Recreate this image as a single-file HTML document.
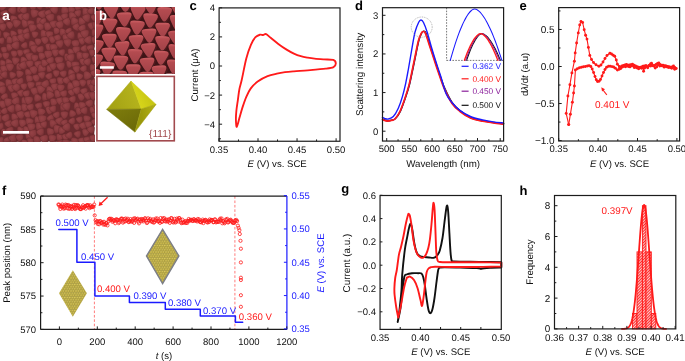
<!DOCTYPE html>
<html><head><meta charset="utf-8"><style>
html,body{margin:0;padding:0;background:#fff;width:685px;height:361px;overflow:hidden}
svg{display:block;will-change:transform}
text{font-family:"Liberation Sans", sans-serif;text-rendering:geometricPrecision}
</style></head><body>
<svg width="685" height="361" viewBox="0 0 685 361">
<rect width="685" height="361" fill="#fff"/>
<defs>
<pattern id="pa" x="0" y="7" width="7" height="12" patternUnits="userSpaceOnUse">
 <rect width="7" height="12" fill="#6e2a2e"/>
 <circle cx="3.5" cy="3" r="3.3" fill="url(#ga)"/>
 <circle cx="0" cy="9" r="3.3" fill="url(#ga)"/>
 <circle cx="7" cy="9" r="3.3" fill="url(#ga)"/>
</pattern>
<radialGradient id="ga" cx="0.42" cy="0.36" r="0.66">
 <stop offset="0" stop-color="#954246"/><stop offset="0.6" stop-color="#883a3e"/><stop offset="1" stop-color="#722d31"/>
</radialGradient>
<linearGradient id="gb" x1="0" y1="0" x2="0" y2="1">
 <stop offset="0" stop-color="#ce6064"/><stop offset="0.2" stop-color="#b44b50"/><stop offset="1" stop-color="#a24248"/>
</linearGradient>
<pattern id="pd" width="2.5" height="4.33" patternUnits="userSpaceOnUse">
 <rect width="2.5" height="4.33" fill="#b4aa58"/>
 <circle cx="1.25" cy="1.08" r="1.18" fill="url(#gs)"/>
 <circle cx="0" cy="3.25" r="1.18" fill="url(#gs)"/>
 <circle cx="2.5" cy="3.25" r="1.18" fill="url(#gs)"/>
</pattern>
<radialGradient id="gs" cx="0.4" cy="0.4" r="0.6">
 <stop offset="0" stop-color="#e2d264"/><stop offset="0.6" stop-color="#c2b046"/><stop offset="1" stop-color="#94862e"/>
</radialGradient>
<pattern id="ph" width="2" height="2" patternUnits="userSpaceOnUse" patternTransform="rotate(45)">
 <rect width="2" height="2" fill="#fff"/>
 <rect width="1.25" height="2" fill="#ff2a2a"/>
</pattern>
<linearGradient id="o1" gradientUnits="userSpaceOnUse" x1="136" y1="95" x2="110" y2="105">
 <stop offset="0" stop-color="#b4b21c"/><stop offset="1" stop-color="#a4a214"/></linearGradient>
<linearGradient id="o2" gradientUnits="userSpaceOnUse" x1="140" y1="105" x2="156" y2="98">
 <stop offset="0" stop-color="#d6d41a"/><stop offset="1" stop-color="#c2c010"/></linearGradient>
<linearGradient id="o3" gradientUnits="userSpaceOnUse" x1="120" y1="108" x2="132" y2="130">
 <stop offset="0" stop-color="#7c7a0c"/><stop offset="1" stop-color="#6c6a08"/></linearGradient>
<linearGradient id="o4" gradientUnits="userSpaceOnUse" x1="140" y1="110" x2="152" y2="108">
 <stop offset="0" stop-color="#9a980a"/><stop offset="1" stop-color="#aeac12"/></linearGradient>
</defs>
<svg x="0" y="7" width="94.3" height="134.6" viewBox="0 0 94.3 134.6" overflow="hidden">
<rect width="94.3" height="134.6" fill="#6a2a2e"/>
<path d="M-7.15,123.71 Q-11.25,121.51 -7.33,119 L-6.08,118.2 Q-2.16,115.7 -1.88,120.34 L-1.77,122.11 Q-1.49,126.75 -5.59,124.55 Z" fill="url(#ga)" stroke="#66282b" stroke-width="0.4"/>
<path d="M-6.23,128.21 Q-10.19,124.92 -5.39,123.06 L-3.85,122.47 Q0.96,120.61 0.24,125.71 L-0.04,127.66 Q-0.75,132.76 -4.72,129.47 Z" fill="url(#ga)" stroke="#66282b" stroke-width="0.4"/>
<path d="M-2.32,135.72 Q-6.1,132.52 -1.47,130.77 L0.02,130.22 Q4.65,128.47 3.92,133.37 L3.64,135.24 Q2.91,140.14 -0.88,136.94 Z" fill="url(#ga)" stroke="#66282b" stroke-width="0.4"/>
<path d="M0.35,140.95 Q-3.59,137.4 1.43,135.69 L3.03,135.14 Q8.05,133.43 7.1,138.65 L6.74,140.64 Q5.79,145.85 1.85,142.31 Z" fill="url(#ga)" stroke="#66282b" stroke-width="0.4"/>
<path d="M-6.77,97.58 Q-7.91,92.43 -2.85,93.94 L-1.23,94.43 Q3.83,95.95 0.04,99.63 L-1.4,101.03 Q-5.19,104.71 -6.33,99.55 Z" fill="url(#ga)" stroke="#66282b" stroke-width="0.4"/>
<path d="M-5.04,107.7 Q-8.38,103.89 -3.43,102.83 L-1.84,102.49 Q3.12,101.44 1.63,106.28 L1.06,108.13 Q-0.43,112.97 -3.77,109.16 Z" fill="url(#ga)" stroke="#66282b" stroke-width="0.4"/>
<path d="M-4.15,114.16 Q-8.65,111.42 -4.07,108.84 L-2.6,108.01 Q1.98,105.42 2.01,110.68 L2.02,112.69 Q2.05,117.95 -2.44,115.21 Z" fill="url(#ga)" stroke="#66282b" stroke-width="0.4"/>
<path d="M-1.71,121.88 Q-5.74,119.52 -1.72,117.15 L-0.43,116.39 Q3.6,114.02 3.71,118.69 L3.75,120.48 Q3.86,125.15 -0.17,122.78 Z" fill="url(#ga)" stroke="#66282b" stroke-width="0.4"/>
<path d="M1.07,124.52 Q1.44,119.78 5.41,122.42 L6.68,123.26 Q10.64,125.89 6.41,128.07 L4.79,128.9 Q0.56,131.08 0.93,126.33 Z" fill="url(#ga)" stroke="#66282b" stroke-width="0.4"/>
<path d="M5.11,135.72 Q1.12,133.25 5.22,130.97 L6.53,130.24 Q10.63,127.95 10.63,132.64 L10.63,134.43 Q10.62,139.13 6.63,136.66 Z" fill="url(#ga)" stroke="#66282b" stroke-width="0.4"/>
<path d="M4.75,139.36 Q1.94,135.01 7.11,134.67 L8.77,134.57 Q13.94,134.23 11.71,138.91 L10.86,140.69 Q8.64,145.37 5.83,141.02 Z" fill="url(#ga)" stroke="#66282b" stroke-width="0.4"/>
<path d="M-7.31,78.6 Q-10.49,74.7 -5.54,73.83 L-3.96,73.55 Q0.99,72.68 -0.66,77.43 L-1.29,79.24 Q-2.93,83.98 -6.1,80.09 Z" fill="url(#ga)" stroke="#66282b" stroke-width="0.4"/>
<path d="M-6.85,86.8 Q-10.29,82.51 -4.86,81.6 L-3.13,81.31 Q2.29,80.4 0.45,85.58 L-0.26,87.55 Q-2.1,92.73 -5.54,88.44 Z" fill="url(#ga)" stroke="#66282b" stroke-width="0.4"/>
<path d="M-4.31,94.42 Q-8.45,92.37 -4.65,89.75 L-3.43,88.91 Q0.38,86.28 0.82,90.88 L0.98,92.64 Q1.42,97.24 -2.73,95.2 Z" fill="url(#ga)" stroke="#66282b" stroke-width="0.4"/>
<path d="M-0.44,98.5 Q-3.54,94.2 1.73,93.59 L3.42,93.4 Q8.68,92.79 6.65,97.69 L5.87,99.55 Q3.84,104.45 0.74,100.14 Z" fill="url(#ga)" stroke="#66282b" stroke-width="0.4"/>
<path d="M2.57,106.77 Q-1.52,104.7 2.28,102.14 L3.5,101.32 Q7.29,98.77 7.68,103.33 L7.82,105.07 Q8.21,109.63 4.13,107.56 Z" fill="url(#ga)" stroke="#66282b" stroke-width="0.4"/>
<path d="M3.34,113.78 Q-1.24,110.91 3.49,108.31 L5.01,107.48 Q9.74,104.88 9.71,110.28 L9.69,112.34 Q9.66,117.75 5.08,114.88 Z" fill="url(#ga)" stroke="#66282b" stroke-width="0.4"/>
<path d="M6.19,119.26 Q2.19,116.34 6.69,114.27 L8.13,113.6 Q12.62,111.52 12.25,116.46 L12.1,118.35 Q11.73,123.29 7.72,120.37 Z" fill="url(#ga)" stroke="#66282b" stroke-width="0.4"/>
<path d="M7.3,126.54 Q2.78,123.55 7.59,121.06 L9.13,120.26 Q13.94,117.77 13.77,123.18 L13.71,125.25 Q13.54,130.67 9.02,127.68 Z" fill="url(#ga)" stroke="#66282b" stroke-width="0.4"/>
<path d="M10.21,133.59 Q6.01,130.11 11.1,128.13 L12.73,127.5 Q17.83,125.53 17.07,130.94 L16.78,133 Q16.03,138.41 11.82,134.93 Z" fill="url(#ga)" stroke="#66282b" stroke-width="0.4"/>
<path d="M11.58,139.3 Q8.81,134.57 14.28,134.46 L16.04,134.42 Q21.51,134.3 18.94,139.14 L17.96,140.98 Q15.4,145.82 12.63,141.1 Z" fill="url(#ga)" stroke="#66282b" stroke-width="0.4"/>
<path d="M-8.25,56.6 Q-10.97,51.85 -5.49,51.79 L-3.73,51.77 Q1.74,51.72 -0.88,56.53 L-1.88,58.37 Q-4.5,63.18 -7.21,58.42 Z" fill="url(#ga)" stroke="#66282b" stroke-width="0.4"/>
<path d="M-4.36,64.47 Q-5.07,59.94 -0.77,61.52 L0.6,62.03 Q4.9,63.61 1.43,66.6 L0.1,67.73 Q-3.37,70.72 -4.09,66.19 Z" fill="url(#ga)" stroke="#66282b" stroke-width="0.4"/>
<path d="M-2.23,68.55 Q-3.16,63.85 1.4,65.33 L2.85,65.8 Q7.41,67.27 3.9,70.53 L2.56,71.77 Q-0.94,75.03 -1.87,70.34 Z" fill="url(#ga)" stroke="#66282b" stroke-width="0.4"/>
<path d="M-1.96,77.47 Q-2.54,72.81 1.82,74.58 L3.21,75.14 Q7.57,76.91 3.9,79.85 L2.5,80.98 Q-1.16,83.92 -1.74,79.25 Z" fill="url(#ga)" stroke="#66282b" stroke-width="0.4"/>
<path d="M-0.7,85.23 Q-4.82,81.72 0.26,79.83 L1.88,79.23 Q6.95,77.34 6.13,82.69 L5.82,84.73 Q4.99,90.08 0.87,86.57 Z" fill="url(#ga)" stroke="#66282b" stroke-width="0.4"/>
<path d="M2.67,92.46 Q-1.51,90.2 2.5,87.65 L3.78,86.84 Q7.79,84.29 8.06,89.04 L8.17,90.85 Q8.44,95.59 4.26,93.33 Z" fill="url(#ga)" stroke="#66282b" stroke-width="0.4"/>
<path d="M4.58,95.3 Q3.03,90.1 8.33,91.28 L10.02,91.66 Q15.32,92.84 11.71,96.9 L10.33,98.44 Q6.72,102.5 5.17,97.29 Z" fill="url(#ga)" stroke="#66282b" stroke-width="0.4"/>
<path d="M8.93,104.43 Q4.56,101.49 9.26,99.11 L10.76,98.34 Q15.45,95.96 15.25,101.22 L15.17,103.23 Q14.97,108.49 10.6,105.55 Z" fill="url(#ga)" stroke="#66282b" stroke-width="0.4"/>
<path d="M11.25,109.47 Q10.99,104.68 15.3,106.79 L16.68,107.47 Q20.98,109.58 17.04,112.31 L15.54,113.35 Q11.6,116.09 11.34,111.3 Z" fill="url(#ga)" stroke="#66282b" stroke-width="0.4"/>
<path d="M12.65,118.93 Q8.15,115.99 12.91,113.49 L14.43,112.69 Q19.19,110.2 19.05,115.57 L19,117.62 Q18.86,122.99 14.36,120.05 Z" fill="url(#ga)" stroke="#66282b" stroke-width="0.4"/>
<path d="M17.23,122.88 Q16.53,118.1 21.04,119.82 L22.49,120.37 Q27.01,122.09 23.31,125.19 L21.89,126.38 Q18.19,129.49 17.49,124.7 Z" fill="url(#ga)" stroke="#66282b" stroke-width="0.4"/>
<path d="M16.71,132.22 Q13.55,128.3 18.51,127.45 L20.1,127.17 Q25.06,126.32 23.39,131.07 L22.75,132.88 Q21.08,137.63 17.92,133.72 Z" fill="url(#ga)" stroke="#66282b" stroke-width="0.4"/>
<path d="M21.36,135.79 Q20.4,131.3 24.79,132.64 L26.2,133.07 Q30.59,134.42 27.27,137.6 L26.01,138.81 Q22.69,142 21.73,137.5 Z" fill="url(#ga)" stroke="#66282b" stroke-width="0.4"/>
<path d="M-7.46,35.15 Q-9.16,30.86 -4.58,31.47 L-3.11,31.66 Q1.47,32.27 -1.29,35.97 L-2.35,37.39 Q-5.11,41.09 -6.81,36.79 Z" fill="url(#ga)" stroke="#66282b" stroke-width="0.4"/>
<path d="M-7.01,44.99 Q-11.17,41.73 -6.29,39.68 L-4.73,39.02 Q0.15,36.97 -0.44,42.23 L-0.66,44.24 Q-1.25,49.5 -5.42,46.24 Z" fill="url(#ga)" stroke="#66282b" stroke-width="0.4"/>
<path d="M-3.9,47.97 Q-4.04,43.52 -0.08,45.56 L1.18,46.21 Q5.14,48.25 1.43,50.71 L0.02,51.65 Q-3.69,54.12 -3.84,49.67 Z" fill="url(#ga)" stroke="#66282b" stroke-width="0.4"/>
<path d="M-0.16,55.96 Q-0.54,51.57 3.48,53.37 L4.76,53.95 Q8.79,55.75 5.26,58.39 L3.91,59.39 Q0.38,62.03 -0.01,57.64 Z" fill="url(#ga)" stroke="#66282b" stroke-width="0.4"/>
<path d="M0.98,63.03 Q-1.82,58.63 3.39,58.33 L5.05,58.23 Q10.26,57.93 7.99,62.62 L7.12,64.42 Q4.85,69.11 2.05,64.71 Z" fill="url(#ga)" stroke="#66282b" stroke-width="0.4"/>
<path d="M2.31,70.23 Q-1.77,68.01 2.16,65.52 L3.42,64.72 Q7.36,62.24 7.61,66.89 L7.71,68.66 Q7.96,73.31 3.88,71.08 Z" fill="url(#ga)" stroke="#66282b" stroke-width="0.4"/>
<path d="M5.29,75.54 Q4.84,70.4 9.55,72.51 L11.06,73.19 Q15.77,75.3 11.63,78.39 L10.05,79.56 Q5.91,82.65 5.46,77.5 Z" fill="url(#ga)" stroke="#66282b" stroke-width="0.4"/>
<path d="M8.21,82.33 Q5.44,78.16 10.43,77.77 L12.03,77.64 Q17.02,77.25 14.93,81.8 L14.13,83.54 Q12.04,88.09 9.27,83.92 Z" fill="url(#ga)" stroke="#66282b" stroke-width="0.4"/>
<path d="M11.29,88.95 Q9.75,84.52 14.37,85.33 L15.85,85.59 Q20.47,86.4 17.51,90.04 L16.38,91.43 Q13.42,95.08 11.88,90.65 Z" fill="url(#ga)" stroke="#66282b" stroke-width="0.4"/>
<path d="M13.7,97.23 Q8.91,94.8 13.37,91.8 L14.79,90.84 Q19.25,87.84 19.69,93.19 L19.86,95.23 Q20.31,100.58 15.53,98.15 Z" fill="url(#ga)" stroke="#66282b" stroke-width="0.4"/>
<path d="M14.92,100.05 Q15.11,94.83 19.57,97.53 L21,98.39 Q25.47,101.09 20.94,103.68 L19.21,104.67 Q14.68,107.25 14.86,102.04 Z" fill="url(#ga)" stroke="#66282b" stroke-width="0.4"/>
<path d="M17.62,109.36 Q14.09,105.31 19.34,104.2 L21.02,103.84 Q26.27,102.72 24.69,107.85 L24.08,109.81 Q22.5,114.94 18.97,110.9 Z" fill="url(#ga)" stroke="#66282b" stroke-width="0.4"/>
<path d="M19.08,116.2 Q17.71,111.29 22.66,112.48 L24.25,112.86 Q29.2,114.05 25.75,117.8 L24.43,119.23 Q20.98,122.97 19.61,118.07 Z" fill="url(#ga)" stroke="#66282b" stroke-width="0.4"/>
<path d="M23.2,122.55 Q22.74,117.66 27.24,119.64 L28.68,120.28 Q33.18,122.26 29.25,125.22 L27.76,126.35 Q23.83,129.32 23.37,124.42 Z" fill="url(#ga)" stroke="#66282b" stroke-width="0.4"/>
<path d="M25.45,129.2 Q24.32,124.45 29.02,125.77 L30.52,126.2 Q35.22,127.52 31.77,130.98 L30.46,132.3 Q27.02,135.76 25.88,131.01 Z" fill="url(#ga)" stroke="#66282b" stroke-width="0.4"/>
<path d="M27.44,134.59 Q25.82,130.26 30.4,130.95 L31.86,131.17 Q36.44,131.86 33.61,135.53 L32.53,136.92 Q29.69,140.59 28.06,136.25 Z" fill="url(#ga)" stroke="#66282b" stroke-width="0.4"/>
<path d="M-8.09,16.34 Q-10.65,12.72 -6.24,12.24 L-4.83,12.09 Q-0.42,11.62 -2.16,15.7 L-2.82,17.26 Q-4.56,21.34 -7.11,17.72 Z" fill="url(#ga)" stroke="#66282b" stroke-width="0.4"/>
<path d="M-6.81,22.25 Q-8.03,17.63 -3.4,18.81 L-1.92,19.19 Q2.71,20.37 -0.58,23.84 L-1.83,25.17 Q-5.12,28.64 -6.34,24.01 Z" fill="url(#ga)" stroke="#66282b" stroke-width="0.4"/>
<path d="M-4.77,29.69 Q-9.3,26.84 -4.6,24.28 L-3.1,23.46 Q1.59,20.89 1.55,26.24 L1.53,28.28 Q1.48,33.63 -3.05,30.78 Z" fill="url(#ga)" stroke="#66282b" stroke-width="0.4"/>
<path d="M-0.97,35.58 Q-4.34,32.75 -0.23,31.18 L1.09,30.68 Q5.2,29.12 4.57,33.47 L4.32,35.13 Q3.69,39.49 0.32,36.66 Z" fill="url(#ga)" stroke="#66282b" stroke-width="0.4"/>
<path d="M1.31,43.53 Q-0.87,39.71 3.53,39.66 L4.94,39.64 Q9.34,39.6 7.24,43.47 L6.44,44.94 Q4.34,48.81 2.15,44.99 Z" fill="url(#ga)" stroke="#66282b" stroke-width="0.4"/>
<path d="M2.77,49.54 Q0.5,45.54 5.11,45.51 L6.58,45.5 Q11.18,45.47 8.97,49.5 L8.12,51.04 Q5.91,55.08 3.64,51.07 Z" fill="url(#ga)" stroke="#66282b" stroke-width="0.4"/>
<path d="M5.54,54.7 Q5.7,50.01 9.71,52.43 L11,53.21 Q15.01,55.63 10.95,57.95 L9.39,58.84 Q5.33,61.17 5.48,56.49 Z" fill="url(#ga)" stroke="#66282b" stroke-width="0.4"/>
<path d="M6.57,60.89 Q4.04,56.38 9.21,56.37 L10.87,56.37 Q16.04,56.36 13.53,60.88 L12.57,62.6 Q10.06,67.12 7.54,62.61 Z" fill="url(#ga)" stroke="#66282b" stroke-width="0.4"/>
<path d="M9.35,67.87 Q8.65,63.43 12.86,64.98 L14.21,65.47 Q18.43,67.02 15.02,69.95 L13.72,71.07 Q10.32,73.99 9.62,69.56 Z" fill="url(#ga)" stroke="#66282b" stroke-width="0.4"/>
<path d="M12.57,76.43 Q9.35,72.48 14.36,71.59 L15.96,71.31 Q20.98,70.41 19.32,75.22 L18.68,77.06 Q17.02,81.87 13.8,77.93 Z" fill="url(#ga)" stroke="#66282b" stroke-width="0.4"/>
<path d="M14,83.05 Q9.43,80.21 14.14,77.61 L15.65,76.77 Q20.35,74.17 20.34,79.55 L20.33,81.6 Q20.31,86.98 15.75,84.14 Z" fill="url(#ga)" stroke="#66282b" stroke-width="0.4"/>
<path d="M18.26,87.72 Q14.95,84.49 19.38,83.17 L20.8,82.75 Q25.24,81.43 24.23,85.95 L23.85,87.67 Q22.84,92.19 19.53,88.96 Z" fill="url(#ga)" stroke="#66282b" stroke-width="0.4"/>
<path d="M21.38,93.42 Q21.18,88.61 25.48,90.79 L26.86,91.48 Q31.15,93.66 27.16,96.35 L25.63,97.38 Q21.64,100.07 21.45,95.26 Z" fill="url(#ga)" stroke="#66282b" stroke-width="0.4"/>
<path d="M21.36,100.27 Q20.38,95.38 25.13,96.9 L26.65,97.39 Q31.39,98.92 27.75,102.32 L26.36,103.62 Q22.71,107.02 21.74,102.13 Z" fill="url(#ga)" stroke="#66282b" stroke-width="0.4"/>
<path d="M24.94,109.14 Q21.79,105.54 26.47,104.54 L27.96,104.21 Q32.64,103.21 31.24,107.78 L30.7,109.53 Q29.3,114.1 26.15,110.51 Z" fill="url(#ga)" stroke="#66282b" stroke-width="0.4"/>
<path d="M25.81,114.61 Q24.73,109.59 29.63,111.09 L31.2,111.57 Q36.11,113.06 32.42,116.62 L31.01,117.97 Q27.31,121.53 26.23,116.52 Z" fill="url(#ga)" stroke="#66282b" stroke-width="0.4"/>
<path d="M27.88,120.6 Q25.77,115.79 31,116.3 L32.67,116.46 Q37.9,116.97 34.91,121.29 L33.77,122.93 Q30.78,127.25 28.68,122.44 Z" fill="url(#ga)" stroke="#66282b" stroke-width="0.4"/>
<path d="M29.86,128.77 Q25.9,125.14 31,123.45 L32.64,122.91 Q37.74,121.22 36.73,126.5 L36.34,128.51 Q35.34,133.79 31.38,130.16 Z" fill="url(#ga)" stroke="#66282b" stroke-width="0.4"/>
<path d="M33.35,132.4 Q32.89,127.25 37.61,129.35 L39.12,130.03 Q43.85,132.14 39.71,135.24 L38.12,136.42 Q33.98,139.52 33.52,134.36 Z" fill="url(#ga)" stroke="#66282b" stroke-width="0.4"/>
<path d="M35.23,140.67 Q32.14,137.16 36.71,136.17 L38.17,135.86 Q42.74,134.88 41.37,139.35 L40.85,141.05 Q39.49,145.52 36.4,142.01 Z" fill="url(#ga)" stroke="#66282b" stroke-width="0.4"/>
<path d="M-8.95,-5.16 Q-10.32,-10.23 -5.23,-8.96 L-3.6,-8.56 Q1.5,-7.28 -2.09,-3.45 L-3.46,-1.99 Q-7.06,1.84 -8.43,-3.23 Z" fill="url(#ga)" stroke="#66282b" stroke-width="0.4"/>
<path d="M-6.42,1.88 Q-9.15,-2.43 -4.06,-2.72 L-2.43,-2.81 Q2.67,-3.1 0.44,1.5 L-0.41,3.25 Q-2.64,7.84 -5.38,3.53 Z" fill="url(#ga)" stroke="#66282b" stroke-width="0.4"/>
<path d="M-5.25,8.53 Q-7.82,4.83 -3.34,4.39 L-1.9,4.25 Q2.58,3.81 0.78,7.94 L0.1,9.52 Q-1.7,13.65 -4.27,9.95 Z" fill="url(#ga)" stroke="#66282b" stroke-width="0.4"/>
<path d="M-1.88,16.06 Q-5.58,12.56 -0.72,11.03 L0.83,10.54 Q5.69,9.01 4.66,14 L4.27,15.9 Q3.24,20.89 -0.46,17.39 Z" fill="url(#ga)" stroke="#66282b" stroke-width="0.4"/>
<path d="M-0.52,21.2 Q-3.47,17.06 1.58,16.5 L3.19,16.32 Q8.25,15.76 6.28,20.45 L5.53,22.23 Q3.56,26.92 0.6,22.78 Z" fill="url(#ga)" stroke="#66282b" stroke-width="0.4"/>
<path d="M3.23,28.36 Q1.78,23.99 6.3,24.85 L7.75,25.13 Q12.27,25.99 9.31,29.52 L8.18,30.86 Q5.23,34.39 3.78,30.02 Z" fill="url(#ga)" stroke="#66282b" stroke-width="0.4"/>
<path d="M6.51,32.16 Q6.86,27.23 10.99,29.94 L12.31,30.8 Q16.44,33.51 12.07,35.8 L10.4,36.67 Q6.02,38.96 6.37,34.04 Z" fill="url(#ga)" stroke="#66282b" stroke-width="0.4"/>
<path d="M6.37,39.97 Q5.62,35.46 9.93,37 L11.31,37.5 Q15.62,39.04 12.17,42.05 L10.86,43.2 Q7.41,46.21 6.66,41.7 Z" fill="url(#ga)" stroke="#66282b" stroke-width="0.4"/>
<path d="M11.17,47.23 Q9.34,43.11 13.83,43.52 L15.27,43.65 Q19.76,44.06 17.21,47.79 L16.24,49.21 Q13.69,52.93 11.87,48.81 Z" fill="url(#ga)" stroke="#66282b" stroke-width="0.4"/>
<path d="M12.17,54.07 Q10.52,49.39 15.41,50.23 L16.98,50.5 Q21.87,51.34 18.75,55.2 L17.57,56.68 Q14.45,60.54 12.8,55.86 Z" fill="url(#ga)" stroke="#66282b" stroke-width="0.4"/>
<path d="M16.22,59.08 Q16.41,54.23 20.55,56.75 L21.88,57.56 Q26.02,60.09 21.8,62.47 L20.18,63.39 Q15.96,65.77 16.15,60.93 Z" fill="url(#ga)" stroke="#66282b" stroke-width="0.4"/>
<path d="M16.3,66.76 Q15.4,62.02 19.98,63.54 L21.45,64.03 Q26.03,65.55 22.47,68.81 L21.11,70.06 Q17.55,73.32 16.64,68.57 Z" fill="url(#ga)" stroke="#66282b" stroke-width="0.4"/>
<path d="M18.09,77.03 Q13.94,74.65 18.04,72.18 L19.36,71.39 Q23.46,68.92 23.62,73.71 L23.68,75.53 Q23.84,80.32 19.68,77.94 Z" fill="url(#ga)" stroke="#66282b" stroke-width="0.4"/>
<path d="M21.09,80.46 Q18.57,76.84 22.96,76.4 L24.37,76.26 Q28.76,75.82 27.01,79.87 L26.34,81.42 Q24.58,85.47 22.06,81.84 Z" fill="url(#ga)" stroke="#66282b" stroke-width="0.4"/>
<path d="M23.65,88.54 Q20.23,85.19 24.82,83.84 L26.29,83.4 Q30.88,82.05 29.83,86.72 L29.42,88.5 Q28.37,93.17 24.95,89.82 Z" fill="url(#ga)" stroke="#66282b" stroke-width="0.4"/>
<path d="M25.15,94.1 Q22.66,89.27 28.09,89.45 L29.83,89.5 Q35.26,89.68 32.46,94.34 L31.39,96.12 Q28.59,100.77 26.1,95.94 Z" fill="url(#ga)" stroke="#66282b" stroke-width="0.4"/>
<path d="M27.83,102.27 Q24.16,99.12 28.7,97.45 L30.15,96.92 Q34.69,95.26 33.93,100.03 L33.64,101.85 Q32.89,106.62 29.23,103.47 Z" fill="url(#ga)" stroke="#66282b" stroke-width="0.4"/>
<path d="M29.92,106.98 Q28.13,102 33.35,102.86 L35.02,103.14 Q40.24,104 36.94,108.14 L35.69,109.72 Q32.39,113.86 30.6,108.88 Z" fill="url(#ga)" stroke="#66282b" stroke-width="0.4"/>
<path d="M34.48,112.05 Q34.75,107.41 38.68,109.91 L39.93,110.71 Q43.85,113.2 39.76,115.41 L38.2,116.26 Q34.11,118.46 34.38,113.82 Z" fill="url(#ga)" stroke="#66282b" stroke-width="0.4"/>
<path d="M35.79,119.05 Q35.14,113.79 40.05,115.79 L41.62,116.43 Q46.53,118.43 42.4,121.74 L40.82,123.01 Q36.68,126.32 36.04,121.06 Z" fill="url(#ga)" stroke="#66282b" stroke-width="0.4"/>
<path d="M38.12,127.52 Q34,124.68 38.49,122.47 L39.92,121.76 Q44.41,119.55 44.16,124.55 L44.06,126.45 Q43.8,131.45 39.69,128.61 Z" fill="url(#ga)" stroke="#66282b" stroke-width="0.4"/>
<path d="M41.31,133.72 Q37.5,129.97 42.63,128.48 L44.27,128 Q49.39,126.5 48.2,131.7 L47.75,133.69 Q46.56,138.89 42.76,135.15 Z" fill="url(#ga)" stroke="#66282b" stroke-width="0.4"/>
<path d="M42.69,140.34 Q38.9,137.28 43.41,135.46 L44.85,134.87 Q49.37,133.05 48.76,137.88 L48.53,139.73 Q47.92,144.56 44.13,141.5 Z" fill="url(#ga)" stroke="#66282b" stroke-width="0.4"/>
<path d="M-1.89,-6.85 Q-2.39,-12.09 2.44,-9.97 L3.98,-9.29 Q8.8,-7.18 4.6,-4 L3,-2.78 Q-1.2,0.4 -1.7,-4.85 Z" fill="url(#ga)" stroke="#66282b" stroke-width="0.4"/>
<path d="M-0.97,-0.39 Q-2.03,-5.26 2.74,-3.81 L4.26,-3.35 Q9.03,-1.9 5.44,1.56 L4.07,2.88 Q0.48,6.34 -0.57,1.47 Z" fill="url(#ga)" stroke="#66282b" stroke-width="0.4"/>
<path d="M1.65,8.7 Q-1.94,5.2 2.87,3.78 L4.41,3.32 Q9.21,1.9 8.11,6.79 L7.69,8.66 Q6.59,13.54 3.01,10.04 Z" fill="url(#ga)" stroke="#66282b" stroke-width="0.4"/>
<path d="M3.63,13.92 Q-0.66,11.45 3.58,8.91 L4.94,8.1 Q9.18,5.56 9.33,10.5 L9.39,12.39 Q9.54,17.33 5.26,14.86 Z" fill="url(#ga)" stroke="#66282b" stroke-width="0.4"/>
<path d="M6.67,18.72 Q4.26,14.41 9.2,14.4 L10.78,14.39 Q15.72,14.38 13.32,18.7 L12.41,20.35 Q10.01,24.67 7.6,20.36 Z" fill="url(#ga)" stroke="#66282b" stroke-width="0.4"/>
<path d="M10.2,26.42 Q9.8,22.03 13.83,23.81 L15.12,24.38 Q19.15,26.16 15.63,28.82 L14.28,29.83 Q10.77,32.48 10.36,28.09 Z" fill="url(#ga)" stroke="#66282b" stroke-width="0.4"/>
<path d="M11.99,31.81 Q11.52,26.7 16.21,28.77 L17.71,29.44 Q22.41,31.51 18.31,34.6 L16.74,35.78 Q12.65,38.87 12.17,33.76 Z" fill="url(#ga)" stroke="#66282b" stroke-width="0.4"/>
<path d="M13.29,41.19 Q8.61,38.37 13.35,35.66 L14.87,34.8 Q19.61,32.09 19.66,37.55 L19.68,39.63 Q19.74,45.08 15.07,42.26 Z" fill="url(#ga)" stroke="#66282b" stroke-width="0.4"/>
<path d="M17.25,46.28 Q15.63,42.15 20.02,42.75 L21.43,42.94 Q25.82,43.53 23.17,47.07 L22.15,48.43 Q19.5,51.98 17.87,47.85 Z" fill="url(#ga)" stroke="#66282b" stroke-width="0.4"/>
<path d="M20.42,52.45 Q20.8,47.71 24.76,50.35 L26.03,51.2 Q29.99,53.84 25.75,56.01 L24.14,56.84 Q19.9,59.02 20.28,54.27 Z" fill="url(#ga)" stroke="#66282b" stroke-width="0.4"/>
<path d="M20.99,61.35 Q16.25,58.8 20.79,55.9 L22.24,54.97 Q26.77,52.07 27.1,57.44 L27.23,59.5 Q27.55,64.87 22.81,62.32 Z" fill="url(#ga)" stroke="#66282b" stroke-width="0.4"/>
<path d="M24.99,65.08 Q24.67,60.32 28.99,62.36 L30.37,63.02 Q34.68,65.06 30.8,67.83 L29.32,68.89 Q25.43,71.66 25.11,66.9 Z" fill="url(#ga)" stroke="#66282b" stroke-width="0.4"/>
<path d="M26,71.45 Q25.12,66.55 29.83,68.17 L31.33,68.69 Q36.04,70.3 32.34,73.63 L30.92,74.9 Q27.22,78.22 26.34,73.32 Z" fill="url(#ga)" stroke="#66282b" stroke-width="0.4"/>
<path d="M27.62,78.78 Q25.54,74.39 30.39,74.71 L31.94,74.81 Q36.8,75.13 34.15,79.21 L33.14,80.77 Q30.5,84.85 28.41,80.46 Z" fill="url(#ga)" stroke="#66282b" stroke-width="0.4"/>
<path d="M31.43,85.52 Q28.31,81.22 33.59,80.59 L35.28,80.39 Q40.55,79.77 38.53,84.68 L37.75,86.55 Q35.73,91.46 32.62,87.16 Z" fill="url(#ga)" stroke="#66282b" stroke-width="0.4"/>
<path d="M34.17,90 Q34.53,85.05 38.67,87.77 L40,88.64 Q44.15,91.36 39.75,93.65 L38.08,94.53 Q33.68,96.83 34.04,91.88 Z" fill="url(#ga)" stroke="#66282b" stroke-width="0.4"/>
<path d="M36.06,100.61 Q32.88,97.07 37.52,96.01 L39.01,95.68 Q43.65,94.62 42.31,99.19 L41.8,100.94 Q40.46,105.51 37.28,101.96 Z" fill="url(#ga)" stroke="#66282b" stroke-width="0.4"/>
<path d="M37.76,104.69 Q36.94,99.66 41.73,101.4 L43.27,101.95 Q48.06,103.69 44.21,107.03 L42.74,108.3 Q38.89,111.65 38.07,106.61 Z" fill="url(#ga)" stroke="#66282b" stroke-width="0.4"/>
<path d="M38.76,112.57 Q36.41,107.74 41.77,108.04 L43.49,108.14 Q48.85,108.43 45.98,112.97 L44.88,114.71 Q42.01,119.25 39.66,114.42 Z" fill="url(#ga)" stroke="#66282b" stroke-width="0.4"/>
<path d="M41.72,119.42 Q38.3,116.63 42.4,115 L43.71,114.48 Q47.8,112.85 47.23,117.22 L47.01,118.89 Q46.44,123.26 43.03,120.48 Z" fill="url(#ga)" stroke="#66282b" stroke-width="0.4"/>
<path d="M46.82,124.53 Q46.03,119.47 50.84,121.24 L52.38,121.81 Q57.18,123.58 53.29,126.92 L51.81,128.19 Q47.92,131.53 47.13,126.46 Z" fill="url(#ga)" stroke="#66282b" stroke-width="0.4"/>
<path d="M48.88,131.77 Q47.12,127.01 52.14,127.79 L53.75,128.04 Q58.76,128.83 55.64,132.83 L54.44,134.35 Q51.31,138.35 49.55,133.59 Z" fill="url(#ga)" stroke="#66282b" stroke-width="0.4"/>
<path d="M50.34,140.08 Q46.44,136.72 51.27,134.94 L52.82,134.38 Q57.65,132.61 56.85,137.69 L56.54,139.63 Q55.73,144.72 51.83,141.36 Z" fill="url(#ga)" stroke="#66282b" stroke-width="0.4"/>
<path d="M4.86,-1.11 Q0.61,-4.02 5.22,-6.31 L6.7,-7.05 Q11.31,-9.35 11.07,-4.2 L10.98,-2.24 Q10.74,2.91 6.48,0 Z" fill="url(#ga)" stroke="#66282b" stroke-width="0.4"/>
<path d="M9.97,5.74 Q5.57,2.68 10.39,0.33 L11.93,-0.42 Q16.75,-2.76 16.45,2.58 L16.34,4.62 Q16.04,9.97 11.64,6.91 Z" fill="url(#ga)" stroke="#66282b" stroke-width="0.4"/>
<path d="M10.36,11.83 Q9.33,7.28 13.8,8.59 L15.24,9.01 Q19.71,10.32 16.39,13.6 L15.12,14.84 Q11.79,18.11 10.75,13.56 Z" fill="url(#ga)" stroke="#66282b" stroke-width="0.4"/>
<path d="M12.87,16.29 Q11.59,11.2 16.66,12.56 L18.28,12.99 Q23.36,14.35 19.7,18.12 L18.31,19.56 Q14.65,23.33 13.37,18.24 Z" fill="url(#ga)" stroke="#66282b" stroke-width="0.4"/>
<path d="M17.6,25.48 Q16.05,21.26 20.49,21.96 L21.91,22.19 Q26.35,22.89 23.57,26.42 L22.51,27.77 Q19.74,31.3 18.19,27.09 Z" fill="url(#ga)" stroke="#66282b" stroke-width="0.4"/>
<path d="M18.67,32.7 Q14.75,28.95 19.93,27.35 L21.59,26.84 Q26.77,25.23 25.65,30.54 L25.22,32.56 Q24.1,37.87 20.17,34.13 Z" fill="url(#ga)" stroke="#66282b" stroke-width="0.4"/>
<path d="M22.72,40.9 Q18.78,38.91 22.44,36.44 L23.61,35.65 Q27.27,33.19 27.64,37.58 L27.79,39.26 Q28.16,43.66 24.22,41.66 Z" fill="url(#ga)" stroke="#66282b" stroke-width="0.4"/>
<path d="M23.94,46.71 Q20.92,43.4 25.29,42.37 L26.68,42.04 Q31.05,41.02 29.82,45.33 L29.35,46.98 Q28.12,51.3 25.1,47.98 Z" fill="url(#ga)" stroke="#66282b" stroke-width="0.4"/>
<path d="M26.08,50.57 Q23.39,45.94 28.74,45.85 L30.45,45.82 Q35.8,45.73 33.27,50.45 L32.31,52.25 Q29.78,56.96 27.1,52.33 Z" fill="url(#ga)" stroke="#66282b" stroke-width="0.4"/>
<path d="M26.64,58.02 Q23.87,53.82 28.88,53.44 L30.49,53.32 Q35.51,52.95 33.39,57.51 L32.59,59.26 Q30.47,63.82 27.7,59.62 Z" fill="url(#ga)" stroke="#66282b" stroke-width="0.4"/>
<path d="M30.68,64.26 Q27.38,60.14 32.59,59.26 L34.25,58.98 Q39.45,58.11 37.69,63.08 L37.01,64.97 Q35.24,69.95 31.94,65.83 Z" fill="url(#ga)" stroke="#66282b" stroke-width="0.4"/>
<path d="M33.28,72.24 Q30.35,68.37 35.16,67.69 L36.7,67.48 Q41.51,66.8 39.76,71.33 L39.09,73.06 Q37.34,77.59 34.4,73.72 Z" fill="url(#ga)" stroke="#66282b" stroke-width="0.4"/>
<path d="M36,78.97 Q33.82,74.18 39.07,74.61 L40.74,74.75 Q45.99,75.18 43.06,79.55 L41.94,81.22 Q39.01,85.59 36.83,80.8 Z" fill="url(#ga)" stroke="#66282b" stroke-width="0.4"/>
<path d="M37.03,82.29 Q35.62,77.01 40.93,78.35 L42.62,78.78 Q47.93,80.13 44.17,84.1 L42.74,85.62 Q38.98,89.6 37.57,84.31 Z" fill="url(#ga)" stroke="#66282b" stroke-width="0.4"/>
<path d="M42,88.91 Q42.38,83.86 46.61,86.65 L47.96,87.54 Q52.19,90.34 47.69,92.67 L45.98,93.56 Q41.48,95.89 41.86,90.84 Z" fill="url(#ga)" stroke="#66282b" stroke-width="0.4"/>
<path d="M43.55,98.39 Q40.89,94.47 45.61,94.06 L47.12,93.93 Q51.84,93.51 49.9,97.84 L49.16,99.49 Q47.22,103.81 44.56,99.89 Z" fill="url(#ga)" stroke="#66282b" stroke-width="0.4"/>
<path d="M46.03,103.55 Q44.1,98.77 49.21,99.41 L50.85,99.61 Q55.96,100.25 52.91,104.41 L51.75,105.99 Q48.7,110.15 46.77,105.37 Z" fill="url(#ga)" stroke="#66282b" stroke-width="0.4"/>
<path d="M48.74,113.89 Q44.5,111.83 48.37,109.13 L49.6,108.27 Q53.47,105.58 53.94,110.27 L54.12,112.05 Q54.59,116.74 50.35,114.68 Z" fill="url(#ga)" stroke="#66282b" stroke-width="0.4"/>
<path d="M49.46,116.11 Q48.84,111.1 53.52,113 L55.01,113.61 Q59.69,115.51 55.75,118.67 L54.25,119.87 Q50.31,123.03 49.7,118.02 Z" fill="url(#ga)" stroke="#66282b" stroke-width="0.4"/>
<path d="M53.57,121.47 Q52.89,116.2 57.83,118.18 L59.41,118.81 Q64.34,120.79 60.21,124.13 L58.64,125.41 Q54.51,128.76 53.83,123.49 Z" fill="url(#ga)" stroke="#66282b" stroke-width="0.4"/>
<path d="M56.35,129.79 Q55.98,125.1 60.25,127.06 L61.62,127.68 Q65.89,129.64 62.1,132.42 L60.66,133.48 Q56.87,136.26 56.49,131.58 Z" fill="url(#ga)" stroke="#66282b" stroke-width="0.4"/>
<path d="M57.38,138.55 Q53.91,134.4 59.23,133.39 L60.93,133.07 Q66.24,132.06 64.53,137.19 L63.88,139.15 Q62.17,144.28 58.7,140.13 Z" fill="url(#ga)" stroke="#66282b" stroke-width="0.4"/>
<path d="M14.06,-2.82 Q10.81,-6.69 15.78,-7.64 L17.37,-7.95 Q22.33,-8.9 20.75,-4.1 L20.14,-2.27 Q18.55,2.53 15.3,-1.34 Z" fill="url(#ga)" stroke="#66282b" stroke-width="0.4"/>
<path d="M17.11,1.27 Q17.51,-3.15 21.17,-0.65 L22.35,0.15 Q26.01,2.65 22.04,4.63 L20.53,5.39 Q16.56,7.37 16.96,2.95 Z" fill="url(#ga)" stroke="#66282b" stroke-width="0.4"/>
<path d="M19.12,11.73 Q15.52,8.23 20.33,6.78 L21.87,6.32 Q26.68,4.88 25.6,9.79 L25.18,11.66 Q24.1,16.56 20.49,13.06 Z" fill="url(#ga)" stroke="#66282b" stroke-width="0.4"/>
<path d="M21.56,15.94 Q20.57,10.59 25.73,12.34 L27.38,12.9 Q32.53,14.64 28.5,18.29 L26.96,19.69 Q22.92,23.34 21.94,17.99 Z" fill="url(#ga)" stroke="#66282b" stroke-width="0.4"/>
<path d="M24.18,27.22 Q20.07,24.98 24.02,22.48 L25.29,21.68 Q29.24,19.17 29.5,23.85 L29.6,25.63 Q29.86,30.3 25.75,28.07 Z" fill="url(#ga)" stroke="#66282b" stroke-width="0.4"/>
<path d="M24.83,31.38 Q20.92,29.17 24.75,26.83 L25.98,26.08 Q29.81,23.74 29.99,28.23 L30.06,29.94 Q30.24,34.43 26.33,32.22 Z" fill="url(#ga)" stroke="#66282b" stroke-width="0.4"/>
<path d="M28.88,36.7 Q29.06,31.8 33.25,34.35 L34.59,35.16 Q38.78,37.71 34.52,40.13 L32.89,41.05 Q28.62,43.47 28.81,38.57 Z" fill="url(#ga)" stroke="#66282b" stroke-width="0.4"/>
<path d="M31.25,42.88 Q28.25,38.81 33.27,38.17 L34.88,37.97 Q39.89,37.34 38,42.03 L37.28,43.82 Q35.39,48.51 32.39,44.44 Z" fill="url(#ga)" stroke="#66282b" stroke-width="0.4"/>
<path d="M31.68,51.55 Q29.73,47.3 34.4,47.66 L35.89,47.78 Q40.56,48.15 37.96,52.05 L36.97,53.54 Q34.38,57.43 32.42,53.18 Z" fill="url(#ga)" stroke="#66282b" stroke-width="0.4"/>
<path d="M35.18,58.77 Q32.12,54.65 37.21,53.98 L38.84,53.77 Q43.93,53.1 42.04,57.87 L41.31,59.69 Q39.42,64.47 36.35,60.34 Z" fill="url(#ga)" stroke="#66282b" stroke-width="0.4"/>
<path d="M38.03,60.55 Q38.53,55.11 43.04,58.2 L44.48,59.19 Q48.98,62.27 44.09,64.71 L42.23,65.63 Q37.33,68.07 37.84,62.63 Z" fill="url(#ga)" stroke="#66282b" stroke-width="0.4"/>
<path d="M39.03,69.41 Q36.05,65.8 40.65,64.96 L42.13,64.69 Q46.73,63.85 45.22,68.28 L44.65,69.97 Q43.14,74.41 40.16,70.79 Z" fill="url(#ga)" stroke="#66282b" stroke-width="0.4"/>
<path d="M43.2,79.94 Q38.55,77.35 43.08,74.55 L44.52,73.66 Q49.05,70.86 49.29,76.18 L49.38,78.21 Q49.62,83.52 44.97,80.93 Z" fill="url(#ga)" stroke="#66282b" stroke-width="0.4"/>
<path d="M46.38,82.2 Q46.81,77.11 51.05,79.96 L52.41,80.88 Q56.65,83.73 52.09,86.04 L50.35,86.93 Q45.79,89.24 46.22,84.14 Z" fill="url(#ga)" stroke="#66282b" stroke-width="0.4"/>
<path d="M46.39,87.19 Q46.54,81.96 51.03,84.63 L52.47,85.49 Q56.96,88.16 52.44,90.79 L50.71,91.79 Q46.19,94.41 46.33,89.18 Z" fill="url(#ga)" stroke="#66282b" stroke-width="0.4"/>
<path d="M50.26,94.94 Q49.29,89.99 54.09,91.55 L55.63,92.05 Q60.43,93.62 56.72,97.05 L55.31,98.36 Q51.6,101.79 50.63,96.83 Z" fill="url(#ga)" stroke="#66282b" stroke-width="0.4"/>
<path d="M50.75,104.17 Q46.89,101.51 51.09,99.44 L52.43,98.77 Q56.63,96.7 56.4,101.38 L56.31,103.16 Q56.07,107.84 52.22,105.18 Z" fill="url(#ga)" stroke="#66282b" stroke-width="0.4"/>
<path d="M54.27,110.23 Q50.49,107.49 54.72,105.53 L56.07,104.9 Q60.3,102.93 59.96,107.58 L59.83,109.35 Q59.49,114 55.71,111.27 Z" fill="url(#ga)" stroke="#66282b" stroke-width="0.4"/>
<path d="M56.87,116.2 Q52.86,112.9 57.7,111.01 L59.24,110.41 Q64.08,108.52 63.37,113.66 L63.1,115.62 Q62.4,120.76 58.39,117.46 Z" fill="url(#ga)" stroke="#66282b" stroke-width="0.4"/>
<path d="M58.6,122.84 Q58.7,118.19 62.71,120.54 L63.99,121.29 Q68,123.64 63.99,126 L62.47,126.89 Q58.47,129.25 58.57,124.61 Z" fill="url(#ga)" stroke="#66282b" stroke-width="0.4"/>
<path d="M62.69,131.01 Q60.22,127.18 64.77,126.89 L66.22,126.79 Q70.77,126.5 68.81,130.61 L68.06,132.18 Q66.11,136.29 63.64,132.47 Z" fill="url(#ga)" stroke="#66282b" stroke-width="0.4"/>
<path d="M62.49,136.85 Q60.65,131.85 65.91,132.68 L67.6,132.95 Q72.86,133.78 69.57,137.97 L68.31,139.57 Q65.03,143.76 63.19,138.76 Z" fill="url(#ga)" stroke="#66282b" stroke-width="0.4"/>
<path d="M20.06,-4.53 Q20.42,-9.24 24.35,-6.63 L25.61,-5.8 Q29.55,-3.19 25.36,-1.02 L23.76,-0.19 Q19.56,1.98 19.92,-2.73 Z" fill="url(#ga)" stroke="#66282b" stroke-width="0.4"/>
<path d="M21.3,5.37 Q17.42,2.58 21.74,0.55 L23.13,-0.1 Q27.45,-2.13 27.12,2.63 L26.99,4.45 Q26.66,9.21 22.78,6.43 Z" fill="url(#ga)" stroke="#66282b" stroke-width="0.4"/>
<path d="M23.49,11.88 Q19.61,8.76 24.23,6.89 L25.71,6.3 Q30.32,4.43 29.7,9.37 L29.47,11.26 Q28.85,16.2 24.97,13.07 Z" fill="url(#ga)" stroke="#66282b" stroke-width="0.4"/>
<path d="M27.56,17.19 Q25.66,12.96 30.29,13.36 L31.77,13.49 Q36.39,13.9 33.78,17.74 L32.79,19.2 Q30.19,23.04 28.29,18.81 Z" fill="url(#ga)" stroke="#66282b" stroke-width="0.4"/>
<path d="M28.92,20.89 Q27.62,15.81 32.7,17.15 L34.32,17.58 Q39.39,18.92 35.75,22.7 L34.36,24.14 Q30.72,27.92 29.42,22.83 Z" fill="url(#ga)" stroke="#66282b" stroke-width="0.4"/>
<path d="M31.79,27.8 Q30.14,23.61 34.6,24.21 L36.02,24.4 Q40.48,24.99 37.79,28.6 L36.76,29.97 Q34.07,33.57 32.42,29.39 Z" fill="url(#ga)" stroke="#66282b" stroke-width="0.4"/>
<path d="M35.01,34.93 Q33.33,30.62 37.91,31.25 L39.38,31.46 Q43.96,32.09 41.18,35.78 L40.11,37.19 Q37.33,40.89 35.65,36.58 Z" fill="url(#ga)" stroke="#66282b" stroke-width="0.4"/>
<path d="M37.55,44.76 Q33.69,41.52 38.4,39.72 L39.91,39.15 Q44.62,37.35 43.89,42.34 L43.62,44.25 Q42.89,49.23 39.03,45.99 Z" fill="url(#ga)" stroke="#66282b" stroke-width="0.4"/>
<path d="M38.57,49.05 Q37.43,44.33 42.1,45.63 L43.59,46.05 Q48.27,47.34 44.86,50.79 L43.56,52.11 Q40.15,55.56 39.01,50.84 Z" fill="url(#ga)" stroke="#66282b" stroke-width="0.4"/>
<path d="M41.26,55.5 Q40.82,50.75 45.18,52.69 L46.58,53.31 Q50.93,55.24 47.12,58.11 L45.67,59.2 Q41.85,62.06 41.42,57.32 Z" fill="url(#ga)" stroke="#66282b" stroke-width="0.4"/>
<path d="M46.44,61.11 Q46.41,56.69 50.28,58.81 L51.52,59.49 Q55.39,61.61 51.65,63.96 L50.23,64.86 Q46.49,67.21 46.45,62.79 Z" fill="url(#ga)" stroke="#66282b" stroke-width="0.4"/>
<path d="M46.71,71.37 Q43.06,68.43 47.41,66.67 L48.8,66.11 Q53.15,64.35 52.57,69.01 L52.34,70.79 Q51.76,75.44 48.1,72.5 Z" fill="url(#ga)" stroke="#66282b" stroke-width="0.4"/>
<path d="M50.23,75.73 Q47.4,72.13 51.92,71.41 L53.37,71.18 Q57.9,70.46 56.32,74.76 L55.72,76.41 Q54.14,80.71 51.31,77.1 Z" fill="url(#ga)" stroke="#66282b" stroke-width="0.4"/>
<path d="M51.69,80.91 Q48.99,76.74 53.95,76.41 L55.54,76.3 Q60.5,75.97 58.37,80.47 L57.56,82.18 Q55.43,86.67 52.72,82.5 Z" fill="url(#ga)" stroke="#66282b" stroke-width="0.4"/>
<path d="M54.34,86.35 Q53.71,81.2 58.51,83.15 L60.05,83.78 Q64.85,85.74 60.8,88.98 L59.26,90.22 Q55.21,93.46 54.58,88.31 Z" fill="url(#ga)" stroke="#66282b" stroke-width="0.4"/>
<path d="M57.12,95.31 Q53.97,91.2 59.1,90.45 L60.74,90.21 Q65.87,89.46 64.02,94.3 L63.32,96.15 Q61.47,101 58.32,96.88 Z" fill="url(#ga)" stroke="#66282b" stroke-width="0.4"/>
<path d="M60.16,98.82 Q60.4,93.47 64.96,96.29 L66.42,97.2 Q70.98,100.02 66.29,102.62 L64.5,103.62 Q59.82,106.22 60.06,100.87 Z" fill="url(#ga)" stroke="#66282b" stroke-width="0.4"/>
<path d="M61.07,108.46 Q58.85,104 63.82,104.23 L65.42,104.3 Q70.4,104.53 67.77,108.76 L66.77,110.38 Q64.15,114.62 61.92,110.16 Z" fill="url(#ga)" stroke="#66282b" stroke-width="0.4"/>
<path d="M62.18,117.87 Q58.55,114.97 62.85,113.21 L64.22,112.65 Q68.52,110.89 67.96,115.5 L67.75,117.26 Q67.19,121.87 63.56,118.98 Z" fill="url(#ga)" stroke="#66282b" stroke-width="0.4"/>
<path d="M64.53,123.05 Q59.85,120.56 64.3,117.68 L65.73,116.76 Q70.18,113.89 70.52,119.17 L70.65,121.19 Q71,126.48 66.32,123.99 Z" fill="url(#ga)" stroke="#66282b" stroke-width="0.4"/>
<path d="M67.38,130.88 Q63.27,128.78 67.11,126.22 L68.34,125.4 Q72.17,122.83 72.54,127.43 L72.69,129.19 Q73.06,133.79 68.95,131.69 Z" fill="url(#ga)" stroke="#66282b" stroke-width="0.4"/>
<path d="M71.26,134.41 Q69.97,129.6 74.79,130.82 L76.34,131.21 Q81.16,132.43 77.75,136.05 L76.44,137.43 Q73.03,141.05 71.75,136.24 Z" fill="url(#ga)" stroke="#66282b" stroke-width="0.4"/>
<path d="M26.23,-4.51 Q23.04,-8.49 28.07,-9.33 L29.68,-9.6 Q34.7,-10.44 32.99,-5.64 L32.34,-3.81 Q30.62,0.99 27.44,-2.99 Z" fill="url(#ga)" stroke="#66282b" stroke-width="0.4"/>
<path d="M29.72,0.48 Q27.37,-3.8 32.24,-3.77 L33.8,-3.76 Q38.68,-3.73 36.28,0.51 L35.36,2.13 Q32.96,6.38 30.61,2.11 Z" fill="url(#ga)" stroke="#66282b" stroke-width="0.4"/>
<path d="M30.69,6.04 Q29.76,0.65 34.92,2.46 L36.57,3.04 Q41.73,4.86 37.64,8.48 L36.07,9.86 Q31.98,13.48 31.05,8.09 Z" fill="url(#ga)" stroke="#66282b" stroke-width="0.4"/>
<path d="M36.24,13.8 Q36.03,8.52 40.75,10.91 L42.26,11.68 Q46.97,14.07 42.58,17.02 L40.91,18.15 Q36.52,21.11 36.31,15.82 Z" fill="url(#ga)" stroke="#66282b" stroke-width="0.4"/>
<path d="M37.72,21.16 Q34.07,17.58 38.97,16.14 L40.54,15.68 Q45.44,14.24 44.31,19.22 L43.88,21.12 Q42.75,26.1 39.11,22.52 Z" fill="url(#ga)" stroke="#66282b" stroke-width="0.4"/>
<path d="M40.53,25.93 Q40.58,20.93 44.92,23.41 L46.3,24.2 Q50.64,26.68 46.37,29.26 L44.74,30.25 Q40.46,32.83 40.51,27.84 Z" fill="url(#ga)" stroke="#66282b" stroke-width="0.4"/>
<path d="M41.86,34.3 Q39.1,30.16 44.05,29.76 L45.64,29.63 Q50.59,29.23 48.53,33.76 L47.74,35.48 Q45.68,40.01 42.92,35.87 Z" fill="url(#ga)" stroke="#66282b" stroke-width="0.4"/>
<path d="M45.66,40.21 Q44.13,35.73 48.79,36.58 L50.28,36.85 Q54.94,37.7 51.93,41.36 L50.78,42.75 Q47.77,46.41 46.24,41.93 Z" fill="url(#ga)" stroke="#66282b" stroke-width="0.4"/>
<path d="M44.91,48.11 Q42.33,43.31 47.78,43.4 L49.53,43.43 Q54.98,43.52 52.24,48.24 L51.2,50.04 Q48.47,54.75 45.89,49.95 Z" fill="url(#ga)" stroke="#66282b" stroke-width="0.4"/>
<path d="M48.01,55.94 Q43.99,52.99 48.52,50.92 L49.97,50.25 Q54.5,48.17 54.11,53.15 L53.96,55.04 Q53.57,60.01 49.54,57.07 Z" fill="url(#ga)" stroke="#66282b" stroke-width="0.4"/>
<path d="M50.12,60.47 Q47.37,56.64 52.06,56.1 L53.56,55.93 Q58.26,55.39 56.44,59.75 L55.75,61.41 Q53.93,65.77 51.18,61.94 Z" fill="url(#ga)" stroke="#66282b" stroke-width="0.4"/>
<path d="M53.29,66.91 Q51.32,62.87 55.81,63.12 L57.25,63.2 Q61.74,63.46 59.33,67.25 L58.41,68.7 Q56,72.5 54.04,68.45 Z" fill="url(#ga)" stroke="#66282b" stroke-width="0.4"/>
<path d="M57.15,74.09 Q55.54,69.32 60.48,70.24 L62.07,70.54 Q67.01,71.45 63.8,75.32 L62.57,76.8 Q59.36,80.67 57.76,75.91 Z" fill="url(#ga)" stroke="#66282b" stroke-width="0.4"/>
<path d="M57.56,81.42 Q55.42,77 60.32,77.29 L61.89,77.38 Q66.79,77.67 64.15,81.81 L63.14,83.39 Q60.5,87.53 58.37,83.11 Z" fill="url(#ga)" stroke="#66282b" stroke-width="0.4"/>
<path d="M61.16,88.54 Q57.68,85.32 62.19,83.85 L63.63,83.38 Q68.14,81.91 67.23,86.57 L66.88,88.34 Q65.97,93 62.49,89.77 Z" fill="url(#ga)" stroke="#66282b" stroke-width="0.4"/>
<path d="M62.52,93.9 Q60.63,89.47 65.42,89.97 L66.96,90.13 Q71.75,90.63 68.98,94.58 L67.92,96.08 Q65.14,100.02 63.25,95.59 Z" fill="url(#ga)" stroke="#66282b" stroke-width="0.4"/>
<path d="M63.74,101.44 Q59.8,97.83 64.88,96.15 L66.5,95.61 Q71.58,93.93 70.57,99.18 L70.19,101.19 Q69.18,106.44 65.24,102.82 Z" fill="url(#ga)" stroke="#66282b" stroke-width="0.4"/>
<path d="M69.28,105.74 Q69.69,101.05 73.6,103.69 L74.84,104.54 Q78.75,107.18 74.54,109.3 L72.93,110.11 Q68.72,112.23 69.13,107.54 Z" fill="url(#ga)" stroke="#66282b" stroke-width="0.4"/>
<path d="M70.04,116.51 Q66.1,114.19 70.05,111.88 L71.32,111.14 Q75.26,108.83 75.36,113.4 L75.39,115.15 Q75.49,119.72 71.55,117.4 Z" fill="url(#ga)" stroke="#66282b" stroke-width="0.4"/>
<path d="M74.13,120.89 Q71.44,117.32 75.87,116.71 L77.29,116.52 Q81.71,115.91 80.09,120.07 L79.47,121.66 Q77.85,125.82 75.16,122.25 Z" fill="url(#ga)" stroke="#66282b" stroke-width="0.4"/>
<path d="M75.2,129 Q71.82,126 76.09,124.51 L77.45,124.03 Q81.72,122.54 80.94,126.99 L80.65,128.69 Q79.87,133.14 76.49,130.14 Z" fill="url(#ga)" stroke="#66282b" stroke-width="0.4"/>
<path d="M79.11,135.18 Q76.14,131.71 80.62,130.8 L82.05,130.51 Q86.53,129.61 85.14,133.96 L84.61,135.62 Q83.22,139.97 80.25,136.5 Z" fill="url(#ga)" stroke="#66282b" stroke-width="0.4"/>
<path d="M36.29,0.06 Q32.71,-3.99 38,-5.15 L39.69,-5.52 Q44.98,-6.68 43.41,-1.49 L42.81,0.48 Q41.25,5.66 37.66,1.61 Z" fill="url(#ga)" stroke="#66282b" stroke-width="0.4"/>
<path d="M39.48,9.46 Q35.31,5.94 40.41,4.02 L42.04,3.4 Q47.14,1.47 46.34,6.87 L46.04,8.93 Q45.24,14.32 41.07,10.8 Z" fill="url(#ga)" stroke="#66282b" stroke-width="0.4"/>
<path d="M41.47,16.77 Q37.61,14.61 41.37,12.3 L42.57,11.56 Q46.32,9.24 46.52,13.65 L46.59,15.33 Q46.79,19.74 42.94,17.59 Z" fill="url(#ga)" stroke="#66282b" stroke-width="0.4"/>
<path d="M44.05,19.15 Q43.11,13.82 48.22,15.59 L49.86,16.16 Q54.97,17.93 50.93,21.53 L49.39,22.91 Q45.35,26.51 44.41,21.18 Z" fill="url(#ga)" stroke="#66282b" stroke-width="0.4"/>
<path d="M46.19,28.4 Q43.86,24.01 48.83,24.11 L50.42,24.14 Q55.39,24.25 52.88,28.54 L51.92,30.17 Q49.41,34.46 47.08,30.07 Z" fill="url(#ga)" stroke="#66282b" stroke-width="0.4"/>
<path d="M49.24,32.9 Q47.41,28.47 52.17,29.03 L53.69,29.21 Q58.45,29.76 55.65,33.65 L54.58,35.13 Q51.78,39.02 49.94,34.59 Z" fill="url(#ga)" stroke="#66282b" stroke-width="0.4"/>
<path d="M50.32,41.38 Q47.95,36.81 53.1,36.97 L54.74,37.02 Q59.88,37.18 57.24,41.59 L56.23,43.28 Q53.59,47.69 51.22,43.12 Z" fill="url(#ga)" stroke="#66282b" stroke-width="0.4"/>
<path d="M52.21,46.17 Q50.17,41.78 55,42.14 L56.55,42.26 Q61.37,42.62 58.71,46.66 L57.69,48.2 Q55.02,52.24 52.99,47.85 Z" fill="url(#ga)" stroke="#66282b" stroke-width="0.4"/>
<path d="M55.53,54.49 Q52.8,49.76 58.26,49.68 L60,49.65 Q65.46,49.56 62.88,54.37 L61.9,56.21 Q59.31,61.02 56.58,56.29 Z" fill="url(#ga)" stroke="#66282b" stroke-width="0.4"/>
<path d="M57.42,60.98 Q53.87,56.78 59.27,55.73 L61,55.4 Q66.39,54.35 64.68,59.57 L64.02,61.56 Q62.31,66.78 58.77,62.58 Z" fill="url(#ga)" stroke="#66282b" stroke-width="0.4"/>
<path d="M60.71,68.28 Q57.65,64.87 62.12,63.86 L63.55,63.53 Q68.03,62.52 66.73,66.92 L66.24,68.6 Q64.94,73 61.88,69.59 Z" fill="url(#ga)" stroke="#66282b" stroke-width="0.4"/>
<path d="M64.29,75.77 Q60.15,73.03 64.56,70.75 L65.98,70.03 Q70.39,67.75 70.23,72.71 L70.16,74.61 Q70,79.57 65.87,76.82 Z" fill="url(#ga)" stroke="#66282b" stroke-width="0.4"/>
<path d="M67.33,78.43 Q67.81,73.15 72.19,76.14 L73.59,77.09 Q77.97,80.08 73.23,82.45 L71.42,83.36 Q66.67,85.72 67.15,80.44 Z" fill="url(#ga)" stroke="#66282b" stroke-width="0.4"/>
<path d="M69,87.01 Q65.83,83.71 70.25,82.55 L71.66,82.18 Q76.09,81.02 74.95,85.44 L74.51,87.13 Q73.37,91.56 70.2,88.26 Z" fill="url(#ga)" stroke="#66282b" stroke-width="0.4"/>
<path d="M70.27,94.28 Q66.68,91.4 70.94,89.66 L72.3,89.1 Q76.57,87.36 76.01,91.93 L75.8,93.68 Q75.25,98.25 71.65,95.37 Z" fill="url(#ga)" stroke="#66282b" stroke-width="0.4"/>
<path d="M73.99,98.22 Q74.44,93.46 78.38,96.17 L79.65,97.04 Q83.59,99.76 79.3,101.88 L77.66,102.69 Q73.37,104.81 73.82,100.04 Z" fill="url(#ga)" stroke="#66282b" stroke-width="0.4"/>
<path d="M75.82,103.74 Q75.06,98.95 79.62,100.62 L81.08,101.16 Q85.63,102.83 81.95,105.99 L80.55,107.2 Q76.87,110.37 76.11,105.57 Z" fill="url(#ga)" stroke="#66282b" stroke-width="0.4"/>
<path d="M76.97,114.16 Q73.97,110.93 78.25,109.89 L79.62,109.55 Q83.9,108.51 82.73,112.76 L82.28,114.38 Q81.1,118.62 78.11,115.39 Z" fill="url(#ga)" stroke="#66282b" stroke-width="0.4"/>
<path d="M80.5,120.91 Q76.54,117.64 81.33,115.78 L82.86,115.18 Q87.64,113.32 86.94,118.41 L86.67,120.35 Q85.96,125.44 82.01,122.16 Z" fill="url(#ga)" stroke="#66282b" stroke-width="0.4"/>
<path d="M82.43,125.63 Q80.91,121.19 85.53,122.02 L87,122.29 Q91.62,123.13 88.64,126.75 L87.5,128.14 Q84.52,131.76 83.01,127.32 Z" fill="url(#ga)" stroke="#66282b" stroke-width="0.4"/>
<path d="M84.44,134.42 Q81.52,130.32 86.53,129.78 L88.13,129.6 Q93.13,129.06 91.17,133.69 L90.42,135.46 Q88.46,140.09 85.55,135.99 Z" fill="url(#ga)" stroke="#66282b" stroke-width="0.4"/>
<path d="M85.54,139.83 Q81.16,136.95 85.8,134.53 L87.29,133.75 Q91.93,131.33 91.79,136.57 L91.73,138.57 Q91.58,143.8 87.21,140.92 Z" fill="url(#ga)" stroke="#66282b" stroke-width="0.4"/>
<path d="M41.07,-5.4 Q38.27,-9.13 42.9,-9.76 L44.38,-9.96 Q49,-10.59 47.29,-6.24 L46.64,-4.59 Q44.94,-0.24 42.14,-3.98 Z" fill="url(#ga)" stroke="#66282b" stroke-width="0.4"/>
<path d="M44.84,-2.76 Q44.61,-7.49 48.86,-5.39 L50.22,-4.72 Q54.47,-2.62 50.57,0.07 L49.08,1.09 Q45.17,3.78 44.94,-0.95 Z" fill="url(#ga)" stroke="#66282b" stroke-width="0.4"/>
<path d="M45.86,8.18 Q42.18,5.31 46.48,3.5 L47.86,2.91 Q52.16,1.1 51.65,5.74 L51.45,7.51 Q50.94,12.15 47.26,9.28 Z" fill="url(#ga)" stroke="#66282b" stroke-width="0.4"/>
<path d="M47.28,12.51 Q43.5,8.56 48.79,7.18 L50.48,6.74 Q55.77,5.35 54.41,10.65 L53.88,12.67 Q52.51,17.96 48.73,14.02 Z" fill="url(#ga)" stroke="#66282b" stroke-width="0.4"/>
<path d="M50.65,18.49 Q47.63,14.51 52.57,13.82 L54.15,13.6 Q59.09,12.9 57.29,17.55 L56.61,19.33 Q54.81,23.98 51.79,20.01 Z" fill="url(#ga)" stroke="#66282b" stroke-width="0.4"/>
<path d="M53.49,23.42 Q52.99,18.91 57.17,20.67 L58.51,21.23 Q62.69,22.99 59.12,25.78 L57.75,26.85 Q54.18,29.64 53.68,25.14 Z" fill="url(#ga)" stroke="#66282b" stroke-width="0.4"/>
<path d="M55.06,32.5 Q51.84,29.2 56.29,28 L57.71,27.61 Q62.16,26.41 61.05,30.88 L60.62,32.59 Q59.51,37.06 56.29,33.76 Z" fill="url(#ga)" stroke="#66282b" stroke-width="0.4"/>
<path d="M56.76,38.23 Q53.44,34.31 58.48,33.33 L60.09,33.01 Q65.12,32.02 63.53,36.9 L62.93,38.76 Q61.34,43.64 58.02,39.72 Z" fill="url(#ga)" stroke="#66282b" stroke-width="0.4"/>
<path d="M59.35,47.14 Q56.15,43.97 60.48,42.72 L61.86,42.32 Q66.18,41.07 65.17,45.46 L64.78,47.13 Q63.77,51.52 60.57,48.35 Z" fill="url(#ga)" stroke="#66282b" stroke-width="0.4"/>
<path d="M64.22,49.82 Q63.74,44.96 68.22,46.91 L69.65,47.54 Q74.13,49.49 70.25,52.45 L68.76,53.58 Q64.87,56.54 64.4,51.68 Z" fill="url(#ga)" stroke="#66282b" stroke-width="0.4"/>
<path d="M66.33,56.94 Q65.2,52.29 69.81,53.58 L71.29,53.99 Q75.9,55.27 72.53,58.67 L71.25,59.97 Q67.88,63.37 66.75,58.72 Z" fill="url(#ga)" stroke="#66282b" stroke-width="0.4"/>
<path d="M68.08,65.29 Q68.28,60.66 72.22,63.09 L73.48,63.86 Q77.43,66.28 73.39,68.55 L71.85,69.41 Q67.81,71.68 68.01,67.05 Z" fill="url(#ga)" stroke="#66282b" stroke-width="0.4"/>
<path d="M69.79,72.68 Q65.78,69.87 70.19,67.74 L71.6,67.06 Q76.01,64.92 75.73,69.81 L75.62,71.68 Q75.33,76.57 71.32,73.76 Z" fill="url(#ga)" stroke="#66282b" stroke-width="0.4"/>
<path d="M72.61,77.4 Q70.5,72.44 75.86,73.02 L77.58,73.2 Q82.93,73.78 79.82,78.18 L78.63,79.86 Q75.52,84.26 73.41,79.29 Z" fill="url(#ga)" stroke="#66282b" stroke-width="0.4"/>
<path d="M74.01,85.62 Q70.17,82.31 74.93,80.57 L76.45,80.01 Q81.21,78.27 80.42,83.27 L80.11,85.18 Q79.32,90.19 75.48,86.88 Z" fill="url(#ga)" stroke="#66282b" stroke-width="0.4"/>
<path d="M78.12,90.47 Q75.93,86.01 80.89,86.27 L82.48,86.35 Q87.44,86.61 84.8,90.82 L83.79,92.42 Q81.15,96.62 78.96,92.17 Z" fill="url(#ga)" stroke="#66282b" stroke-width="0.4"/>
<path d="M78.98,98.61 Q77.48,94.02 82.21,94.94 L83.73,95.24 Q88.46,96.16 85.35,99.85 L84.16,101.25 Q81.05,104.94 79.55,100.35 Z" fill="url(#ga)" stroke="#66282b" stroke-width="0.4"/>
<path d="M82.07,106.1 Q77.97,103.55 82.19,101.21 L83.55,100.46 Q87.77,98.13 87.76,102.95 L87.75,104.8 Q87.74,109.63 83.64,107.08 Z" fill="url(#ga)" stroke="#66282b" stroke-width="0.4"/>
<path d="M83.55,112.04 Q82.1,107.52 86.76,108.46 L88.25,108.76 Q92.91,109.7 89.82,113.31 L88.64,114.69 Q85.55,118.3 84.11,113.77 Z" fill="url(#ga)" stroke="#66282b" stroke-width="0.4"/>
<path d="M85.5,118.39 Q83.16,114.19 87.96,114.2 L89.5,114.2 Q94.29,114.2 91.96,118.39 L91.06,119.99 Q88.72,124.18 86.39,119.98 Z" fill="url(#ga)" stroke="#66282b" stroke-width="0.4"/>
<path d="M88.42,124.6 Q84.88,121.44 89.36,119.89 L90.79,119.39 Q95.27,117.83 94.45,122.5 L94.13,124.29 Q93.31,128.96 89.77,125.8 Z" fill="url(#ga)" stroke="#66282b" stroke-width="0.4"/>
<path d="M90.34,132.44 Q87.58,128.63 92.25,128.07 L93.75,127.9 Q98.43,127.34 96.63,131.7 L95.95,133.36 Q94.16,137.72 91.39,133.9 Z" fill="url(#ga)" stroke="#66282b" stroke-width="0.4"/>
<path d="M95.44,137.27 Q95.08,131.91 99.94,134.21 L101.49,134.94 Q106.35,137.24 101.98,140.36 L100.31,141.55 Q95.94,144.68 95.58,139.32 Z" fill="url(#ga)" stroke="#66282b" stroke-width="0.4"/>
<path d="M48.88,1.14 Q44.46,-1.33 48.77,-4 L50.15,-4.85 Q54.46,-7.51 54.69,-2.45 L54.77,-0.52 Q55,4.55 50.57,2.08 Z" fill="url(#ga)" stroke="#66282b" stroke-width="0.4"/>
<path d="M51.6,4.84 Q47.6,1.41 52.54,-0.42 L54.12,-1 Q59.07,-2.83 58.26,2.38 L57.95,4.37 Q57.13,9.57 53.13,6.15 Z" fill="url(#ga)" stroke="#66282b" stroke-width="0.4"/>
<path d="M56.88,11.51 Q55.68,7.18 60.05,8.24 L61.44,8.58 Q65.81,9.63 62.76,12.93 L61.59,14.19 Q58.54,17.49 57.34,13.16 Z" fill="url(#ga)" stroke="#66282b" stroke-width="0.4"/>
<path d="M56.8,19.63 Q53.08,15.84 58.2,14.44 L59.84,13.99 Q64.96,12.59 63.69,17.74 L63.21,19.71 Q61.94,24.87 58.22,21.08 Z" fill="url(#ga)" stroke="#66282b" stroke-width="0.4"/>
<path d="M59.54,24.39 Q59.63,19.53 63.84,21.97 L65.18,22.75 Q69.39,25.19 65.21,27.68 L63.61,28.63 Q59.43,31.12 59.51,26.25 Z" fill="url(#ga)" stroke="#66282b" stroke-width="0.4"/>
<path d="M62.78,31.28 Q60.95,26.3 66.2,27.13 L67.88,27.39 Q73.12,28.22 69.84,32.4 L68.59,33.99 Q65.31,38.17 63.48,33.19 Z" fill="url(#ga)" stroke="#66282b" stroke-width="0.4"/>
<path d="M64.32,36.71 Q61.42,32.43 66.56,31.98 L68.21,31.84 Q73.36,31.38 71.25,36.1 L70.44,37.9 Q68.33,42.62 65.43,38.34 Z" fill="url(#ga)" stroke="#66282b" stroke-width="0.4"/>
<path d="M67.77,44.81 Q66.92,40.35 71.23,41.77 L72.61,42.23 Q76.92,43.66 73.57,46.73 L72.3,47.9 Q68.95,50.97 68.1,46.51 Z" fill="url(#ga)" stroke="#66282b" stroke-width="0.4"/>
<path d="M67.77,52.59 Q63.98,48.91 69.04,47.39 L70.66,46.9 Q75.72,45.38 74.58,50.54 L74.15,52.51 Q73.01,57.67 69.22,53.99 Z" fill="url(#ga)" stroke="#66282b" stroke-width="0.4"/>
<path d="M71.96,58.78 Q69.71,54.19 74.81,54.47 L76.44,54.55 Q81.53,54.83 78.81,59.14 L77.77,60.79 Q75.05,65.11 72.81,60.52 Z" fill="url(#ga)" stroke="#66282b" stroke-width="0.4"/>
<path d="M73.56,63.23 Q70.78,59.32 75.55,58.8 L77.07,58.64 Q81.84,58.12 79.97,62.54 L79.26,64.22 Q77.39,68.63 74.61,64.72 Z" fill="url(#ga)" stroke="#66282b" stroke-width="0.4"/>
<path d="M76.33,69.53 Q75.18,65.13 79.58,66.27 L80.99,66.63 Q85.4,67.77 82.26,71.06 L81.06,72.32 Q77.92,75.61 76.77,71.21 Z" fill="url(#ga)" stroke="#66282b" stroke-width="0.4"/>
<path d="M79.79,76.58 Q77.59,72.46 82.26,72.55 L83.75,72.58 Q88.41,72.66 86.06,76.7 L85.17,78.23 Q82.82,82.27 80.62,78.15 Z" fill="url(#ga)" stroke="#66282b" stroke-width="0.4"/>
<path d="M81.32,86.12 Q78.04,82.63 82.68,81.46 L84.17,81.09 Q88.81,79.93 87.57,84.55 L87.09,86.32 Q85.84,90.94 82.57,87.45 Z" fill="url(#ga)" stroke="#66282b" stroke-width="0.4"/>
<path d="M84.88,90.19 Q81.6,86.39 86.51,85.38 L88.09,85.05 Q93,84.04 91.49,88.82 L90.92,90.65 Q89.41,95.44 86.13,91.64 Z" fill="url(#ga)" stroke="#66282b" stroke-width="0.4"/>
<path d="M86.96,98.73 Q82.82,95.53 87.63,93.47 L89.18,92.81 Q93.99,90.75 93.44,95.96 L93.23,97.94 Q92.69,103.15 88.54,99.95 Z" fill="url(#ga)" stroke="#66282b" stroke-width="0.4"/>
<path d="M89.63,103.07 Q88.74,98.24 93.39,99.81 L94.87,100.31 Q99.52,101.88 95.89,105.18 L94.5,106.43 Q90.87,109.73 89.97,104.91 Z" fill="url(#ga)" stroke="#66282b" stroke-width="0.4"/>
<path d="M92.13,109.81 Q89.17,106.14 93.82,105.34 L95.31,105.08 Q99.96,104.28 98.39,108.73 L97.79,110.43 Q96.23,114.88 93.26,111.21 Z" fill="url(#ga)" stroke="#66282b" stroke-width="0.4"/>
<path d="M92.68,116.9 Q89.06,113.89 93.45,112.19 L94.85,111.64 Q99.24,109.94 98.59,114.6 L98.34,116.38 Q97.69,121.05 94.06,118.04 Z" fill="url(#ga)" stroke="#66282b" stroke-width="0.4"/>
<path d="M96.67,124.16 Q93.68,120.76 98.1,119.8 L99.51,119.49 Q103.93,118.53 102.62,122.86 L102.12,124.51 Q100.81,128.84 97.81,125.45 Z" fill="url(#ga)" stroke="#66282b" stroke-width="0.4"/>
<path d="M56.51,-4.93 Q54.78,-9.65 59.74,-8.86 L61.33,-8.61 Q66.29,-7.83 63.19,-3.88 L62,-2.37 Q58.9,1.58 57.17,-3.13 Z" fill="url(#ga)" stroke="#66282b" stroke-width="0.4"/>
<path d="M61.22,2.37 Q61.4,-3.02 66.02,-0.23 L67.5,0.66 Q72.12,3.45 67.43,6.13 L65.64,7.15 Q60.96,9.82 61.14,4.43 Z" fill="url(#ga)" stroke="#66282b" stroke-width="0.4"/>
<path d="M62.11,11.01 Q58.98,7.67 63.42,6.56 L64.84,6.21 Q69.28,5.1 68.08,9.51 L67.63,11.2 Q66.44,15.61 63.31,12.28 Z" fill="url(#ga)" stroke="#66282b" stroke-width="0.4"/>
<path d="M64.42,16.94 Q60.32,13.81 65.04,11.75 L66.56,11.09 Q71.28,9.03 70.78,14.17 L70.59,16.13 Q70.09,21.26 65.98,18.13 Z" fill="url(#ga)" stroke="#66282b" stroke-width="0.4"/>
<path d="M66.97,26.59 Q63.02,24.43 66.83,22.03 L68.05,21.27 Q71.85,18.87 72.09,23.36 L72.18,25.08 Q72.42,29.57 68.48,27.41 Z" fill="url(#ga)" stroke="#66282b" stroke-width="0.4"/>
<path d="M68.95,31.16 Q64.29,28.88 68.55,25.91 L69.92,24.96 Q74.18,22 74.7,27.17 L74.89,29.14 Q75.4,34.31 70.73,32.03 Z" fill="url(#ga)" stroke="#66282b" stroke-width="0.4"/>
<path d="M72.31,37.91 Q69.34,33.57 74.59,33.09 L76.26,32.94 Q81.51,32.46 79.37,37.27 L78.56,39.11 Q76.42,43.92 73.45,39.57 Z" fill="url(#ga)" stroke="#66282b" stroke-width="0.4"/>
<path d="M73.24,43.98 Q70.42,39.9 75.36,39.42 L76.94,39.27 Q81.89,38.79 79.9,43.34 L79.14,45.08 Q77.15,49.63 74.32,45.54 Z" fill="url(#ga)" stroke="#66282b" stroke-width="0.4"/>
<path d="M76.36,48.29 Q75.8,43.19 80.53,45.18 L82.04,45.81 Q86.77,47.81 82.73,50.97 L81.19,52.17 Q77.15,55.34 76.58,50.23 Z" fill="url(#ga)" stroke="#66282b" stroke-width="0.4"/>
<path d="M80.09,55.63 Q77.5,51.67 82.22,51.34 L83.73,51.24 Q88.44,50.91 86.43,55.19 L85.66,56.82 Q83.65,61.1 81.07,57.14 Z" fill="url(#ga)" stroke="#66282b" stroke-width="0.4"/>
<path d="M81.6,64.18 Q77.68,61.75 81.71,59.51 L83.01,58.79 Q87.04,56.55 87.03,61.16 L87.03,62.93 Q87.02,67.54 83.1,65.11 Z" fill="url(#ga)" stroke="#66282b" stroke-width="0.4"/>
<path d="M83.58,67.72 Q83.53,62.25 88.33,64.87 L89.86,65.71 Q94.66,68.33 90.04,71.24 L88.27,72.36 Q83.65,75.27 83.6,69.81 Z" fill="url(#ga)" stroke="#66282b" stroke-width="0.4"/>
<path d="M86.9,76.99 Q84.96,71.88 90.36,72.68 L92.09,72.93 Q97.49,73.73 94.16,78.06 L92.89,79.71 Q89.57,84.04 87.63,78.93 Z" fill="url(#ga)" stroke="#66282b" stroke-width="0.4"/>
<path d="M89.32,80.97 Q87.43,76.18 92.53,76.87 L94.16,77.09 Q99.26,77.77 96.18,81.89 L95,83.46 Q91.92,87.58 90.04,82.8 Z" fill="url(#ga)" stroke="#66282b" stroke-width="0.4"/>
<path d="M89.8,89.59 Q87.04,84.9 92.49,84.77 L94.23,84.73 Q99.68,84.6 97.13,89.42 L96.17,91.26 Q93.62,96.08 90.86,91.38 Z" fill="url(#ga)" stroke="#66282b" stroke-width="0.4"/>
<path d="M94.44,94.03 Q94.25,89.26 98.51,91.42 L99.88,92.12 Q104.13,94.28 100.17,96.95 L98.66,97.96 Q94.69,100.63 94.51,95.85 Z" fill="url(#ga)" stroke="#66282b" stroke-width="0.4"/>
<path d="M93.97,101.83 Q91.18,97.51 96.32,97.18 L97.96,97.07 Q103.1,96.74 100.88,101.39 L100.04,103.16 Q97.83,107.81 95.04,103.48 Z" fill="url(#ga)" stroke="#66282b" stroke-width="0.4"/>
<path d="M65.04,-4.2 Q62.8,-9.07 68.14,-8.66 L69.85,-8.53 Q75.19,-8.12 72.23,-3.65 L71.1,-1.95 Q68.14,2.52 65.89,-2.35 Z" fill="url(#ga)" stroke="#66282b" stroke-width="0.4"/>
<path d="M68.33,2.67 Q67.38,-1.81 71.76,-0.46 L73.16,-0.03 Q77.54,1.33 74.23,4.49 L72.96,5.7 Q69.64,8.87 68.69,4.38 Z" fill="url(#ga)" stroke="#66282b" stroke-width="0.4"/>
<path d="M68.86,8.46 Q68.29,3.34 73.04,5.34 L74.56,5.97 Q79.3,7.97 75.25,11.14 L73.7,12.35 Q69.65,15.53 69.08,10.41 Z" fill="url(#ga)" stroke="#66282b" stroke-width="0.4"/>
<path d="M70.93,13.45 Q71.13,8.25 75.58,10.96 L77,11.83 Q81.45,14.54 76.91,17.1 L75.18,18.08 Q70.65,20.65 70.85,15.44 Z" fill="url(#ga)" stroke="#66282b" stroke-width="0.4"/>
<path d="M74.26,22.49 Q70.01,19.74 74.48,17.36 L75.91,16.6 Q80.38,14.22 80.28,19.28 L80.24,21.22 Q80.14,26.28 75.88,23.53 Z" fill="url(#ga)" stroke="#66282b" stroke-width="0.4"/>
<path d="M77.28,28.34 Q77.33,23.82 81.25,26.07 L82.51,26.78 Q86.44,29.03 82.56,31.37 L81.08,32.26 Q77.21,34.59 77.26,30.07 Z" fill="url(#ga)" stroke="#66282b" stroke-width="0.4"/>
<path d="M79.18,34.9 Q76.67,31.02 81.28,30.72 L82.75,30.63 Q87.35,30.33 85.37,34.5 L84.62,36.08 Q82.64,40.25 80.13,36.38 Z" fill="url(#ga)" stroke="#66282b" stroke-width="0.4"/>
<path d="M82.26,44.1 Q78.24,42.02 82.01,39.52 L83.22,38.72 Q86.99,36.22 87.34,40.73 L87.47,42.46 Q87.81,46.97 83.79,44.89 Z" fill="url(#ga)" stroke="#66282b" stroke-width="0.4"/>
<path d="M82.39,49.33 Q80.42,45.17 85.01,45.48 L86.48,45.57 Q91.08,45.88 88.57,49.74 L87.62,51.22 Q85.11,55.08 83.14,50.92 Z" fill="url(#ga)" stroke="#66282b" stroke-width="0.4"/>
<path d="M85.09,57.2 Q81.19,54.37 85.56,52.34 L86.96,51.69 Q91.33,49.66 90.97,54.47 L90.84,56.3 Q90.48,61.11 86.58,58.28 Z" fill="url(#ga)" stroke="#66282b" stroke-width="0.4"/>
<path d="M89.61,60.64 Q88.93,55.53 93.73,57.42 L95.27,58.03 Q100.06,59.93 96.07,63.19 L94.55,64.44 Q90.55,67.7 89.87,62.59 Z" fill="url(#ga)" stroke="#66282b" stroke-width="0.4"/>
<path d="M91.89,68.35 Q88.05,65.51 92.4,63.53 L93.79,62.9 Q98.14,60.93 97.74,65.69 L97.59,67.5 Q97.2,72.26 93.36,69.43 Z" fill="url(#ga)" stroke="#66282b" stroke-width="0.4"/>
<path d="M92.74,78.09 Q88.09,75.58 92.54,72.74 L93.97,71.83 Q98.42,69 98.73,74.27 L98.85,76.28 Q99.16,81.55 94.51,79.04 Z" fill="url(#ga)" stroke="#66282b" stroke-width="0.4"/>
<path d="M94.1,82.96 Q91.03,78.83 96.13,78.16 L97.76,77.94 Q102.87,77.27 100.97,82.05 L100.24,83.88 Q98.35,88.66 95.27,84.53 Z" fill="url(#ga)" stroke="#66282b" stroke-width="0.4"/>
<path d="M70.55,-3.94 Q66.48,-5.96 70.23,-8.54 L71.43,-9.36 Q75.17,-11.94 75.6,-7.41 L75.76,-5.68 Q76.18,-1.15 72.11,-3.17 Z" fill="url(#ga)" stroke="#66282b" stroke-width="0.4"/>
<path d="M74.6,0.77 Q72.59,-3.68 77.46,-3.27 L79.02,-3.14 Q83.89,-2.73 81.16,1.32 L80.12,2.87 Q77.39,6.93 75.37,2.47 Z" fill="url(#ga)" stroke="#66282b" stroke-width="0.4"/>
<path d="M75.41,7.61 Q72.35,4.34 76.7,3.26 L78.08,2.92 Q82.43,1.84 81.25,6.16 L80.8,7.81 Q79.62,12.12 76.57,8.85 Z" fill="url(#ga)" stroke="#66282b" stroke-width="0.4"/>
<path d="M78.45,13.45 Q78.58,8.44 82.89,10.99 L84.27,11.81 Q88.58,14.36 84.25,16.88 L82.6,17.84 Q78.27,20.36 78.4,15.36 Z" fill="url(#ga)" stroke="#66282b" stroke-width="0.4"/>
<path d="M80.05,24 Q75.75,21.37 80.14,18.89 L81.55,18.1 Q85.94,15.62 85.96,20.67 L85.97,22.59 Q86,27.63 81.69,25 Z" fill="url(#ga)" stroke="#66282b" stroke-width="0.4"/>
<path d="M81.54,28.38 Q78.08,24.13 83.48,23.18 L85.21,22.87 Q90.61,21.92 88.81,27.1 L88.13,29.08 Q86.33,34.26 82.86,30.01 Z" fill="url(#ga)" stroke="#66282b" stroke-width="0.4"/>
<path d="M85.96,35.83 Q81.35,33.1 85.98,30.41 L87.46,29.54 Q92.08,26.84 92.19,32.2 L92.23,34.24 Q92.33,39.6 87.72,36.87 Z" fill="url(#ga)" stroke="#66282b" stroke-width="0.4"/>
<path d="M87.8,42.97 Q84.41,39.71 88.91,38.34 L90.35,37.9 Q94.84,36.53 93.85,41.12 L93.47,42.88 Q92.48,47.48 89.09,44.22 Z" fill="url(#ga)" stroke="#66282b" stroke-width="0.4"/>
<path d="M89.2,45.65 Q88,41.12 92.55,42.28 L94,42.65 Q98.55,43.81 95.32,47.22 L94.09,48.52 Q90.86,51.92 89.66,47.39 Z" fill="url(#ga)" stroke="#66282b" stroke-width="0.4"/>
<path d="M92.07,53.35 Q90.34,49.06 94.92,49.64 L96.39,49.82 Q100.97,50.4 98.24,54.12 L97.19,55.54 Q94.45,59.27 92.73,54.98 Z" fill="url(#ga)" stroke="#66282b" stroke-width="0.4"/>
<path d="M96.63,60.23 Q95.61,55.73 100.04,57.03 L101.45,57.45 Q105.88,58.75 102.59,61.98 L101.33,63.22 Q98.04,66.45 97.02,61.95 Z" fill="url(#ga)" stroke="#66282b" stroke-width="0.4"/>
<path d="M80.01,-0.45 Q76.62,-4.7 81.98,-5.59 L83.7,-5.87 Q89.06,-6.76 87.23,-1.65 L86.52,0.31 Q84.69,5.42 81.3,1.17 Z" fill="url(#ga)" stroke="#66282b" stroke-width="0.4"/>
<path d="M82.32,3.95 Q82.36,-1.26 86.89,1.3 L88.34,2.13 Q92.88,4.69 88.43,7.4 L86.73,8.44 Q82.28,11.15 82.31,5.94 Z" fill="url(#ga)" stroke="#66282b" stroke-width="0.4"/>
<path d="M83.75,12.85 Q79.9,9.28 84.9,7.65 L86.5,7.13 Q91.49,5.5 90.48,10.66 L90.09,12.63 Q89.08,17.79 85.22,14.21 Z" fill="url(#ga)" stroke="#66282b" stroke-width="0.4"/>
<path d="M88.72,20.41 Q85.43,16.51 90.44,15.54 L92.04,15.23 Q97.05,14.27 95.46,19.11 L94.85,20.96 Q93.25,25.8 89.97,21.9 Z" fill="url(#ga)" stroke="#66282b" stroke-width="0.4"/>
<path d="M91.66,24.87 Q91.58,20.11 95.77,22.36 L97.11,23.08 Q101.3,25.33 97.3,27.9 L95.77,28.87 Q91.76,31.44 91.69,26.68 Z" fill="url(#ga)" stroke="#66282b" stroke-width="0.4"/>
<path d="M91.59,33.23 Q90.14,29.01 94.54,29.8 L95.95,30.05 Q100.35,30.84 97.52,34.3 L96.44,35.62 Q93.6,39.08 92.15,34.85 Z" fill="url(#ga)" stroke="#66282b" stroke-width="0.4"/>
<path d="M94.77,40.51 Q92.9,36.46 97.36,36.81 L98.78,36.92 Q103.23,37.27 100.76,40.99 L99.82,42.4 Q97.34,46.12 95.48,42.06 Z" fill="url(#ga)" stroke="#66282b" stroke-width="0.4"/>
<path d="M84.79,-5.4 Q81.17,-8.53 85.67,-10.16 L87.11,-10.68 Q91.61,-12.31 90.84,-7.59 L90.55,-5.79 Q89.79,-1.07 86.17,-4.2 Z" fill="url(#ga)" stroke="#66282b" stroke-width="0.4"/>
<path d="M88.3,0.87 Q84.61,-2.8 89.62,-4.23 L91.22,-4.68 Q96.23,-6.11 95.03,-1.04 L94.58,0.89 Q93.38,5.96 89.7,2.28 Z" fill="url(#ga)" stroke="#66282b" stroke-width="0.4"/>
<path d="M88.98,6.46 Q85.06,4.29 88.86,1.92 L90.07,1.17 Q93.87,-1.2 94.09,3.27 L94.18,4.97 Q94.4,9.44 90.48,7.28 Z" fill="url(#ga)" stroke="#66282b" stroke-width="0.4"/>
<path d="M91.86,12.26 Q88.72,8.36 93.66,7.52 L95.25,7.25 Q100.19,6.41 98.51,11.14 L97.87,12.94 Q96.2,17.66 93.06,13.76 Z" fill="url(#ga)" stroke="#66282b" stroke-width="0.4"/>
<path d="M92.84,18.93 Q90.59,14.33 95.7,14.6 L97.34,14.69 Q102.45,14.97 99.72,19.3 L98.68,20.95 Q95.95,25.28 93.7,20.68 Z" fill="url(#ga)" stroke="#66282b" stroke-width="0.4"/>
<path d="M94.62,-2.94 Q91.42,-6.97 96.5,-7.8 L98.12,-8.07 Q103.2,-8.9 101.46,-4.06 L100.79,-2.21 Q99.04,2.63 95.84,-1.4 Z" fill="url(#ga)" stroke="#66282b" stroke-width="0.4"/>
<path d="M96.53,4.06 Q93.42,0.39 98.14,-0.54 L99.65,-0.84 Q104.36,-1.77 102.88,2.8 L102.31,4.54 Q100.83,9.12 97.72,5.45 Z" fill="url(#ga)" stroke="#66282b" stroke-width="0.4"/>
</svg>
<text x="2.3" y="20.4" font-size="13.5" text-anchor="start" fill="#fff" font-weight="bold">a</text>
<rect x="3" y="131" width="26" height="2.7" fill="#fff"/>
<svg x="96" y="7" width="79" height="66.7" viewBox="0 0 79 66.7" overflow="hidden">
<rect width="79" height="66.7" fill="#3e1416"/>
<path d="M-3.06,-4.98 Q-6.17,-10.57 0.23,-10.57 L7.03,-10.57 Q13.43,-10.57 10.31,-4.98 L6.74,1.43 Q3.63,7.03 0.51,1.43 Z" fill="#4e1a1d"/>
<path d="M-3.72,-5.47 Q-7.2,-10.85 -0.81,-11.26 L5.38,-11.66 Q11.76,-12.07 9.01,-6.29 L6.13,-0.27 Q3.37,5.51 -0.1,0.13 Z" fill="url(#gb)"/>
<path d="M-4.82,10.46 Q-7.93,4.87 -1.53,4.87 L5.27,4.87 Q11.67,4.87 8.56,10.46 L4.98,16.88 Q1.87,22.47 -1.24,16.88 Z" fill="#4e1a1d"/>
<path d="M-5.5,10.03 Q-9.03,4.69 -2.65,4.22 L3.53,3.76 Q9.92,3.29 7.22,9.09 L4.4,15.14 Q1.7,20.94 -1.83,15.6 Z" fill="url(#gb)"/>
<path d="M-5.61,24.06 Q-8.73,18.47 -2.33,18.47 L4.47,18.47 Q10.87,18.47 7.76,24.06 L4.19,30.48 Q1.07,36.07 -2.04,30.48 Z" fill="#4e1a1d"/>
<path d="M-6.24,23.47 Q-9.64,18.05 -3.24,17.73 L2.95,17.43 Q9.34,17.11 6.5,22.84 L3.54,28.82 Q0.69,34.56 -2.7,29.13 Z" fill="url(#gb)"/>
<path d="M-6.01,39.36 Q-9.12,33.76 -2.72,33.76 L4.08,33.76 Q10.48,33.76 7.37,39.36 L3.79,45.77 Q0.68,51.36 -2.43,45.77 Z" fill="#4e1a1d"/>
<path d="M-6.22,37.91 Q-8.86,32.08 -2.48,32.63 L3.7,33.16 Q10.07,33.71 6.48,39.01 L2.74,44.53 Q-0.85,49.83 -3.48,44 Z" fill="url(#gb)"/>
<path d="M-6.75,53.65 Q-9.86,48.06 -3.46,48.06 L3.34,48.06 Q9.74,48.06 6.62,53.65 L3.05,60.07 Q-0.06,65.66 -3.18,60.07 Z" fill="#4e1a1d"/>
<path d="M-6.96,52.2 Q-9.58,46.36 -3.2,46.92 L2.97,47.47 Q9.35,48.03 5.75,53.32 L1.99,58.84 Q-1.61,64.13 -4.23,58.29 Z" fill="url(#gb)"/>
<path d="M-8.78,68.6 Q-11.89,63.01 -5.49,63.01 L1.31,63.01 Q7.71,63.01 4.59,68.6 L1.02,75.02 Q-2.09,80.61 -5.21,75.02 Z" fill="#4e1a1d"/>
<path d="M-9.31,67.79 Q-12.51,62.24 -6.11,62.15 L0.09,62.07 Q6.49,61.98 3.44,67.61 L0.27,73.48 Q-2.78,79.11 -5.97,73.57 Z" fill="url(#gb)"/>
<path d="M9.88,-11.26 Q6.77,-16.85 13.17,-16.85 L19.97,-16.85 Q26.37,-16.85 23.25,-11.26 L19.68,-4.84 Q16.57,0.75 13.45,-4.84 Z" fill="#4e1a1d"/>
<path d="M9.13,-11.51 Q5.46,-16.76 11.83,-17.4 L18,-18.02 Q24.37,-18.66 21.82,-12.79 L19.16,-6.66 Q16.62,-0.79 12.95,-6.04 Z" fill="url(#gb)"/>
<path d="M9.66,3.85 Q6.55,-1.74 12.95,-1.74 L19.75,-1.74 Q26.15,-1.74 23.04,3.85 L19.46,10.26 Q16.35,15.86 13.24,10.26 Z" fill="#4e1a1d"/>
<path d="M8.96,3.47 Q5.39,-1.85 11.77,-2.36 L17.95,-2.87 Q24.33,-3.39 21.67,2.44 L18.9,8.51 Q16.24,14.33 12.67,9.01 Z" fill="url(#gb)"/>
<path d="M8.01,17.81 Q4.89,12.22 11.29,12.22 L18.09,12.22 Q24.49,12.22 21.38,17.81 L17.81,24.23 Q14.69,29.82 11.58,24.23 Z" fill="#4e1a1d"/>
<path d="M7.58,16.76 Q4.59,11.1 10.99,11.25 L17.19,11.39 Q23.59,11.54 20.34,17.05 L16.95,22.8 Q13.7,28.31 10.71,22.66 Z" fill="url(#gb)"/>
<path d="M7.62,33.26 Q4.51,27.66 10.91,27.66 L17.71,27.66 Q24.11,27.66 20.99,33.26 L17.42,39.67 Q14.31,45.26 11.19,39.67 Z" fill="#4e1a1d"/>
<path d="M7.05,32.54 Q3.76,27.04 10.16,26.86 L16.36,26.68 Q22.75,26.49 19.8,32.17 L16.71,38.08 Q13.76,43.76 10.47,38.27 Z" fill="url(#gb)"/>
<path d="M6.99,47.11 Q3.87,41.52 10.27,41.52 L17.07,41.52 Q23.47,41.52 20.36,47.11 L16.79,53.53 Q13.67,59.12 10.56,53.53 Z" fill="#4e1a1d"/>
<path d="M6.43,46.35 Q3.18,40.84 9.58,40.69 L15.78,40.55 Q22.18,40.41 19.18,46.06 L16.06,51.96 Q13.07,57.62 9.82,52.11 Z" fill="url(#gb)"/>
<path d="M5.12,61.37 Q2,55.78 8.4,55.78 L15.2,55.78 Q21.6,55.78 18.49,61.37 L14.92,67.79 Q11.8,73.38 8.69,67.79 Z" fill="#4e1a1d"/>
<path d="M4.95,59.85 Q2.39,53.98 8.76,54.61 L14.93,55.23 Q21.3,55.86 17.64,61.11 L13.82,66.59 Q10.16,71.84 7.61,65.97 Z" fill="url(#gb)"/>
<path d="M23.46,-2.62 Q20.35,-8.21 26.75,-8.21 L33.55,-8.21 Q39.95,-8.21 36.84,-2.62 L33.26,3.8 Q30.15,9.39 27.04,3.8 Z" fill="#4e1a1d"/>
<path d="M22.94,-3.46 Q19.76,-9.01 26.16,-9.08 L32.36,-9.14 Q38.76,-9.21 35.7,-3.59 L32.5,2.27 Q29.44,7.89 26.26,2.34 Z" fill="url(#gb)"/>
<path d="M22.57,11.91 Q19.46,6.32 25.86,6.32 L32.66,6.32 Q39.06,6.32 35.94,11.91 L32.37,18.33 Q29.26,23.92 26.14,18.33 Z" fill="#4e1a1d"/>
<path d="M21.98,11.23 Q18.67,5.75 25.07,5.53 L31.27,5.32 Q37.66,5.1 34.73,10.79 L31.68,16.73 Q28.75,22.42 25.44,16.94 Z" fill="url(#gb)"/>
<path d="M20.99,26.82 Q17.88,21.23 24.28,21.23 L31.08,21.23 Q37.48,21.23 34.36,26.82 L30.79,33.24 Q27.68,38.83 24.56,33.24 Z" fill="#4e1a1d"/>
<path d="M20.73,25.45 Q18.04,19.64 24.42,20.12 L30.61,20.59 Q36.99,21.07 33.45,26.41 L29.77,31.97 Q26.24,37.31 23.54,31.5 Z" fill="url(#gb)"/>
<path d="M20.61,40.86 Q17.5,35.27 23.9,35.27 L30.7,35.27 Q37.1,35.27 33.98,40.86 L30.41,47.28 Q27.3,52.87 24.18,47.28 Z" fill="#4e1a1d"/>
<path d="M19.92,40.45 Q16.39,35.11 22.77,34.63 L28.95,34.16 Q35.34,33.69 32.64,39.49 L29.83,45.54 Q27.13,51.35 23.6,46.01 Z" fill="url(#gb)"/>
<path d="M18.72,55.15 Q15.61,49.56 22.01,49.56 L28.81,49.56 Q35.21,49.56 32.1,55.15 L28.52,61.57 Q25.41,67.16 22.3,61.57 Z" fill="#4e1a1d"/>
<path d="M18.35,53.99 Q15.46,48.29 21.85,48.54 L28.05,48.79 Q34.44,49.05 31.1,54.5 L27.61,60.2 Q24.27,65.65 21.37,59.95 Z" fill="url(#gb)"/>
<path d="M17.52,70.15 Q14.41,64.56 20.81,64.56 L27.61,64.56 Q34.01,64.56 30.89,70.15 L27.32,76.57 Q24.21,82.16 21.09,76.57 Z" fill="#4e1a1d"/>
<path d="M17.21,68.87 Q14.43,63.11 20.82,63.49 L27.01,63.86 Q33.4,64.25 29.95,69.64 L26.35,75.26 Q22.9,80.65 20.11,74.88 Z" fill="url(#gb)"/>
<path d="M37.33,-8.97 Q34.21,-14.56 40.61,-14.56 L47.41,-14.56 Q53.81,-14.56 50.7,-8.97 L47.13,-2.55 Q44.01,3.04 40.9,-2.55 Z" fill="#4e1a1d"/>
<path d="M36.73,-9.63 Q33.39,-15.09 39.79,-15.34 L45.99,-15.57 Q52.38,-15.82 49.48,-10.12 L46.45,-4.17 Q43.54,1.53 40.21,-3.93 Z" fill="url(#gb)"/>
<path d="M35.67,5.11 Q32.55,-0.48 38.95,-0.48 L45.75,-0.48 Q52.15,-0.48 49.04,5.11 L45.47,11.53 Q42.35,17.12 39.24,11.53 Z" fill="#4e1a1d"/>
<path d="M35.44,3.68 Q32.8,-2.15 39.18,-1.61 L45.36,-1.09 Q51.74,-0.54 48.15,4.76 L44.42,10.29 Q40.83,15.59 38.19,9.76 Z" fill="url(#gb)"/>
<path d="M35.16,20.24 Q32.05,14.65 38.45,14.65 L45.25,14.65 Q51.65,14.65 48.54,20.24 L44.96,26.65 Q41.85,32.25 38.74,26.65 Z" fill="#4e1a1d"/>
<path d="M34.88,18.91 Q32.14,13.13 38.53,13.56 L44.72,13.97 Q51.1,14.4 47.61,19.77 L43.97,25.36 Q40.48,30.73 37.74,24.94 Z" fill="url(#gb)"/>
<path d="M34.4,34.62 Q31.29,29.03 37.69,29.03 L44.49,29.03 Q50.89,29.03 47.78,34.62 L44.2,41.03 Q41.09,46.63 37.98,41.03 Z" fill="#4e1a1d"/>
<path d="M33.8,33.96 Q30.47,28.49 36.87,28.25 L43.06,28.01 Q49.46,27.77 46.55,33.47 L43.52,39.42 Q40.61,45.12 37.28,39.66 Z" fill="url(#gb)"/>
<path d="M33.12,48.61 Q30.01,43.01 36.41,43.01 L43.21,43.01 Q49.61,43.01 46.5,48.61 L42.92,55.02 Q39.81,60.61 36.7,55.02 Z" fill="#4e1a1d"/>
<path d="M32.7,47.55 Q29.71,41.9 36.11,42.05 L42.31,42.19 Q48.7,42.34 45.45,47.85 L42.06,53.6 Q38.81,59.11 35.82,53.45 Z" fill="url(#gb)"/>
<path d="M31.4,63.82 Q28.29,58.23 34.69,58.23 L41.49,58.23 Q47.89,58.23 44.78,63.82 L41.2,70.24 Q38.09,75.83 34.98,70.24 Z" fill="#4e1a1d"/>
<path d="M30.91,62.93 Q27.77,57.35 34.17,57.34 L40.37,57.32 Q46.77,57.31 43.66,62.9 L40.42,68.73 Q37.31,74.33 34.17,68.75 Z" fill="url(#gb)"/>
<path d="M49.02,-0.68 Q45.9,-6.27 52.3,-6.27 L59.1,-6.27 Q65.5,-6.27 62.39,-0.68 L58.82,5.74 Q55.7,11.33 52.59,5.74 Z" fill="#4e1a1d"/>
<path d="M48.31,-1.04 Q44.73,-6.35 51.11,-6.88 L57.29,-7.4 Q63.67,-7.93 61.02,-2.1 L58.26,3.98 Q55.61,9.8 52.04,4.49 Z" fill="url(#gb)"/>
<path d="M48.25,13.03 Q45.13,7.44 51.53,7.44 L58.33,7.44 Q64.73,7.44 61.62,13.03 L58.05,19.44 Q54.93,25.04 51.82,19.44 Z" fill="#4e1a1d"/>
<path d="M48,11.64 Q45.32,5.82 51.7,6.32 L57.88,6.8 Q64.26,7.3 60.72,12.63 L57.02,18.18 Q53.47,23.51 50.79,17.7 Z" fill="url(#gb)"/>
<path d="M47.44,28.26 Q44.33,22.67 50.73,22.67 L57.53,22.67 Q63.93,22.67 60.82,28.26 L57.24,34.68 Q54.13,40.27 51.02,34.68 Z" fill="#4e1a1d"/>
<path d="M46.81,27.69 Q43.41,22.27 49.8,21.94 L55.99,21.62 Q62.38,21.3 59.55,27.04 L56.6,33.02 Q53.76,38.76 50.36,33.34 Z" fill="url(#gb)"/>
<path d="M46.79,42.67 Q43.68,37.08 50.08,37.08 L56.88,37.08 Q63.28,37.08 60.16,42.67 L56.59,49.09 Q53.48,54.68 50.36,49.09 Z" fill="#4e1a1d"/>
<path d="M46.08,42.31 Q42.49,37.01 48.87,36.47 L55.05,35.95 Q61.43,35.41 58.79,41.24 L56.03,47.32 Q53.39,53.15 49.81,47.84 Z" fill="url(#gb)"/>
<path d="M45.51,57.26 Q42.39,51.67 48.79,51.67 L55.59,51.67 Q61.99,51.67 58.88,57.26 L55.31,63.67 Q52.19,69.27 49.08,63.67 Z" fill="#4e1a1d"/>
<path d="M44.85,56.74 Q41.4,51.35 47.79,50.97 L53.98,50.6 Q60.37,50.21 57.59,55.98 L54.68,61.99 Q51.9,67.75 48.45,62.36 Z" fill="url(#gb)"/>
<path d="M44.7,71.23 Q41.59,65.63 47.99,65.63 L54.79,65.63 Q61.19,65.63 58.07,71.23 L54.5,77.64 Q51.39,83.23 48.27,77.64 Z" fill="#4e1a1d"/>
<path d="M44.13,70.49 Q40.86,64.99 47.26,64.82 L53.45,64.65 Q59.85,64.48 56.88,70.15 L53.79,76.06 Q50.82,81.73 47.54,76.23 Z" fill="url(#gb)"/>
<path d="M63.75,-7.44 Q60.64,-13.03 67.04,-13.03 L73.84,-13.03 Q80.24,-13.03 77.13,-7.44 L73.55,-1.02 Q70.44,4.57 67.33,-1.02 Z" fill="#4e1a1d"/>
<path d="M63.05,-7.83 Q59.49,-13.15 65.87,-13.66 L72.05,-14.15 Q78.43,-14.66 75.77,-8.85 L72.98,-2.78 Q70.32,3.04 66.76,-2.28 Z" fill="url(#gb)"/>
<path d="M62.51,6.67 Q59.4,1.07 65.8,1.07 L72.6,1.07 Q79,1.07 75.89,6.67 L72.31,13.08 Q69.2,18.67 66.09,13.08 Z" fill="#4e1a1d"/>
<path d="M62.14,5.52 Q59.23,-0.18 65.62,0.06 L71.82,0.3 Q78.21,0.54 74.88,6 L71.41,11.7 Q68.08,17.17 65.17,11.47 Z" fill="url(#gb)"/>
<path d="M60.68,22.18 Q57.56,16.59 63.96,16.59 L70.76,16.59 Q77.16,16.59 74.05,22.18 L70.48,28.59 Q67.36,34.19 64.25,28.59 Z" fill="#4e1a1d"/>
<path d="M60.21,21.22 Q57.14,15.6 63.54,15.66 L69.74,15.71 Q76.14,15.77 72.97,21.33 L69.66,27.13 Q66.49,32.69 63.42,27.07 Z" fill="url(#gb)"/>
<path d="M60.5,35.65 Q57.39,30.06 63.79,30.06 L70.59,30.06 Q76.99,30.06 73.87,35.65 L70.3,42.07 Q67.19,47.66 64.07,42.07 Z" fill="#4e1a1d"/>
<path d="M60.1,34.56 Q57.14,28.89 63.53,29.07 L69.73,29.25 Q76.13,29.43 72.85,34.93 L69.43,40.66 Q66.14,46.15 63.18,40.48 Z" fill="url(#gb)"/>
<path d="M59.07,50.29 Q55.95,44.7 62.35,44.7 L69.15,44.7 Q75.55,44.7 72.44,50.29 L68.87,56.71 Q65.75,62.3 62.64,56.71 Z" fill="#4e1a1d"/>
<path d="M58.78,48.97 Q56.03,43.19 62.42,43.61 L68.61,44.02 Q74.99,44.44 71.51,49.81 L67.88,55.41 Q64.39,60.78 61.64,55 Z" fill="url(#gb)"/>
<path d="M57.65,65.07 Q54.54,59.47 60.94,59.47 L67.74,59.47 Q74.14,59.47 71.03,65.07 L67.45,71.48 Q64.34,77.07 61.23,71.48 Z" fill="#4e1a1d"/>
<path d="M56.93,64.72 Q53.34,59.43 59.72,58.87 L65.89,58.34 Q72.27,57.78 69.64,63.62 L66.9,69.71 Q64.27,75.54 60.68,70.25 Z" fill="url(#gb)"/>
<path d="M75.46,0.31 Q72.34,-5.28 78.74,-5.28 L85.54,-5.28 Q91.94,-5.28 88.83,0.31 L85.26,6.73 Q82.14,12.32 79.03,6.73 Z" fill="#4e1a1d"/>
<path d="M74.97,-0.59 Q71.84,-6.18 78.24,-6.18 L84.44,-6.18 Q90.84,-6.18 87.72,-0.59 L84.47,5.24 Q81.34,10.82 78.22,5.24 Z" fill="url(#gb)"/>
<path d="M74.72,14.79 Q71.6,9.2 78,9.2 L84.8,9.2 Q91.2,9.2 88.09,14.79 L84.52,21.2 Q81.4,26.8 78.29,21.2 Z" fill="#4e1a1d"/>
<path d="M74.51,13.32 Q71.91,7.48 78.28,8.05 L84.46,8.61 Q90.83,9.19 87.22,14.47 L83.45,19.98 Q79.84,25.26 77.23,19.42 Z" fill="url(#gb)"/>
<path d="M73.88,30.03 Q70.77,24.44 77.17,24.44 L83.97,24.44 Q90.37,24.44 87.26,30.03 L83.68,36.45 Q80.57,42.04 77.46,36.45 Z" fill="#4e1a1d"/>
<path d="M73.25,29.47 Q69.84,24.05 76.23,23.72 L82.42,23.39 Q88.81,23.06 85.99,28.8 L83.04,34.79 Q80.21,40.53 76.8,35.12 Z" fill="url(#gb)"/>
<path d="M73.41,43.86 Q70.3,38.27 76.7,38.27 L83.5,38.27 Q89.9,38.27 86.78,43.86 L83.21,50.27 Q80.1,55.87 76.98,50.27 Z" fill="#4e1a1d"/>
<path d="M73.19,42.42 Q70.55,36.59 76.93,37.13 L83.11,37.66 Q89.48,38.2 85.9,43.51 L82.16,49.03 Q78.57,54.33 75.94,48.5 Z" fill="url(#gb)"/>
<path d="M72.05,59.26 Q68.94,53.67 75.34,53.67 L82.14,53.67 Q88.54,53.67 85.42,59.26 L81.85,65.67 Q78.74,71.27 75.62,65.67 Z" fill="#4e1a1d"/>
<path d="M71.73,57.99 Q68.93,52.24 75.32,52.6 L81.51,52.95 Q87.9,53.32 84.47,58.72 L80.89,64.35 Q77.45,69.75 74.65,64 Z" fill="url(#gb)"/>
<path d="M71.07,73.23 Q67.96,67.64 74.36,67.64 L81.16,67.64 Q87.56,67.64 84.44,73.23 L80.87,79.65 Q77.76,85.24 74.64,79.65 Z" fill="#4e1a1d"/>
<path d="M70.81,71.86 Q68.11,66.06 74.5,66.53 L80.68,66.99 Q87.06,67.47 83.53,72.81 L79.85,78.38 Q76.33,83.72 73.63,77.91 Z" fill="url(#gb)"/>
</svg>
<text x="99" y="20.3" font-size="13" text-anchor="start" fill="#fff" font-weight="bold">b</text>
<rect x="99.9" y="66.2" width="13.9" height="2.5" fill="#fff"/>
<rect x="96.9" y="76.4" width="77.4" height="64.4" fill="#fff" stroke="#a24a4e" stroke-width="1.6"/>
<polygon points="131,81.1 106.7,109.4 141.2,109" fill="url(#o1)" stroke="#aaa818" stroke-width="0.5" stroke-linejoin="round"/>
<polygon points="131,81.1 141.2,109 156.1,104.4" fill="url(#o2)" stroke="#cccb14" stroke-width="0.5" stroke-linejoin="round"/>
<polygon points="106.7,109.4 141.2,109 134.9,132.1" fill="url(#o3)" stroke="#747208" stroke-width="0.5" stroke-linejoin="round"/>
<polygon points="141.2,109 156.1,104.4 134.9,132.1" fill="url(#o4)" stroke="#9e9c0c" stroke-width="0.5" stroke-linejoin="round"/>
<text x="149" y="136.8" font-size="10.2" text-anchor="start" fill="#a24a4e">{111}</text>
<text x="189.5" y="10.4" font-size="13" text-anchor="start" fill="#000" font-weight="bold">c</text>
<path d="M236.8,126.9 C236.22,127.15 235.97,122.33 235.9,119.6 C235.83,116.87 236.07,113.8 236.4,110.5 C236.73,107.2 237.4,103.37 237.9,99.8 C238.4,96.23 238.77,92.4 239.4,89.1 C240.03,85.8 240.55,85.1 241.7,80 C242.85,74.9 244.77,64.37 246.3,58.5 C247.83,52.63 249.37,48.35 250.9,44.8 C252.43,41.25 253.98,38.88 255.5,37.2 C257.02,35.52 258.73,35.07 260,34.7 C261.27,34.33 262.08,35.1 263.1,35 C264.12,34.9 264.83,33.63 266.1,34.1 C267.37,34.57 268.67,36.17 270.7,37.8 C272.73,39.43 275.65,41.93 278.3,43.9 C280.95,45.87 284,47.98 286.6,49.6 C289.2,51.22 291.53,52.5 293.9,53.6 C296.27,54.7 298.5,55.52 300.8,56.2 C303.1,56.88 305.4,57.28 307.7,57.7 C310,58.12 311.88,58.42 314.6,58.7 C317.32,58.98 320.88,59.2 324,59.4 C327.12,59.6 331.33,59.23 333.3,59.9 C335.27,60.57 335.77,62.2 335.8,63.4 C335.83,64.6 335.18,66.22 333.5,67.1 C331.82,67.98 330,68.17 325.7,68.7 C321.4,69.23 313,69.87 307.7,70.3 C302.4,70.73 297.68,70.98 293.9,71.3 C290.12,71.62 287.85,71.8 285,72.2 C282.15,72.6 279.7,73.03 276.8,73.7 C273.9,74.37 270.78,74.9 267.6,76.2 C264.42,77.5 260.5,79.47 257.7,81.5 C254.9,83.53 252.7,85.85 250.8,88.4 C248.9,90.95 247.68,93.63 246.3,96.8 C244.92,99.97 243.65,103.85 242.5,107.4 C241.35,110.95 240.35,114.85 239.4,118.1 C238.45,121.35 237.38,126.65 236.8,126.9Z" stroke="#ff1a1a" stroke-width="1.85" fill="none" stroke-linejoin="round" stroke-linecap="round"/>
<rect x="219.1" y="7.9" width="120.9" height="133.35" fill="none" stroke="#1c1c1c" stroke-width="1.2"/>
<line x1="218.95" y1="141.25" x2="218.95" y2="138.25" stroke="#1c1c1c" stroke-width="1"/>
<line x1="258" y1="141.25" x2="258" y2="138.25" stroke="#1c1c1c" stroke-width="1"/>
<line x1="297.05" y1="141.25" x2="297.05" y2="138.25" stroke="#1c1c1c" stroke-width="1"/>
<line x1="336.1" y1="141.25" x2="336.1" y2="138.25" stroke="#1c1c1c" stroke-width="1"/>
<line x1="238.47" y1="141.25" x2="238.47" y2="139.45" stroke="#1c1c1c" stroke-width="1"/>
<line x1="277.52" y1="141.25" x2="277.52" y2="139.45" stroke="#1c1c1c" stroke-width="1"/>
<line x1="316.57" y1="141.25" x2="316.57" y2="139.45" stroke="#1c1c1c" stroke-width="1"/>
<line x1="219.1" y1="124.2" x2="222.1" y2="124.2" stroke="#1c1c1c" stroke-width="1"/>
<line x1="219.1" y1="95.1" x2="222.1" y2="95.1" stroke="#1c1c1c" stroke-width="1"/>
<line x1="219.1" y1="66" x2="222.1" y2="66" stroke="#1c1c1c" stroke-width="1"/>
<line x1="219.1" y1="36.9" x2="222.1" y2="36.9" stroke="#1c1c1c" stroke-width="1"/>
<line x1="219.1" y1="7.8" x2="222.1" y2="7.8" stroke="#1c1c1c" stroke-width="1"/>
<line x1="219.1" y1="138.75" x2="220.9" y2="138.75" stroke="#1c1c1c" stroke-width="1"/>
<line x1="219.1" y1="109.65" x2="220.9" y2="109.65" stroke="#1c1c1c" stroke-width="1"/>
<line x1="219.1" y1="80.55" x2="220.9" y2="80.55" stroke="#1c1c1c" stroke-width="1"/>
<line x1="219.1" y1="51.45" x2="220.9" y2="51.45" stroke="#1c1c1c" stroke-width="1"/>
<line x1="219.1" y1="22.35" x2="220.9" y2="22.35" stroke="#1c1c1c" stroke-width="1"/>
<text x="215" y="11.22" font-size="9.5" text-anchor="end" fill="#111">4</text>
<text x="215" y="40.32" font-size="9.5" text-anchor="end" fill="#111">2</text>
<text x="215" y="69.42" font-size="9.5" text-anchor="end" fill="#111">0</text>
<text x="215" y="98.52" font-size="9.5" text-anchor="end" fill="#111">−2</text>
<text x="215" y="127.62" font-size="9.5" text-anchor="end" fill="#111">−4</text>
<text x="218.95" y="152.8" font-size="9.5" text-anchor="middle" fill="#111">0.35</text>
<text x="258" y="152.8" font-size="9.5" text-anchor="middle" fill="#111">0.40</text>
<text x="297.05" y="152.8" font-size="9.5" text-anchor="middle" fill="#111">0.45</text>
<text x="336.1" y="152.8" font-size="9.5" text-anchor="middle" fill="#111">0.50</text>
<text x="277.2" y="167" font-size="9.6" text-anchor="middle" fill="#111"><tspan font-style="italic">E</tspan> (V) vs. SCE</text>
<text x="198.2" y="75" font-size="9.6" text-anchor="middle" fill="#111" transform="rotate(-90 198.2 75)">Current (μA)</text>
<text x="355" y="10.2" font-size="13" text-anchor="start" fill="#000" font-weight="bold">d</text>
<path d="M383,119.2 C383.35,119.37 384.25,119.95 385.1,120.2 C385.95,120.45 387.02,120.7 388.1,120.7 C389.18,120.7 390.37,120.55 391.6,120.2 C392.83,119.85 394.02,120.12 395.5,118.6 C396.98,117.08 398.83,114.57 400.5,111.1 C402.17,107.63 403.98,102.23 405.5,97.8 C407.02,93.37 408.45,88.87 409.6,84.5 C410.75,80.13 411.48,75.92 412.4,71.6 C413.32,67.28 414.02,63.77 415.1,58.6 C416.18,53.43 417.77,44.9 418.9,40.6 C420.03,36.3 421.08,34.38 421.9,32.8 C422.72,31.22 423.12,31.05 423.8,31.1 C424.48,31.15 424.97,30.77 426,33.1 C427.03,35.43 428.6,40.88 430,45.1 C431.4,49.32 432.93,53.98 434.4,58.4 C435.87,62.82 437.13,66.8 438.8,71.6 C440.47,76.4 442.1,81.95 444.4,87.2 C446.7,92.45 449.9,99.12 452.6,103.1 C455.3,107.08 457.53,108.68 460.6,111.1 C463.67,113.52 467.23,115.97 471,117.6 C474.77,119.23 479.38,120.08 483.2,120.9 C487.02,121.72 490.47,122.03 493.9,122.5 C497.33,122.97 502.15,123.5 503.8,123.7" stroke="#111" stroke-width="1.3" fill="none" stroke-linejoin="round" stroke-linecap="round"/>
<path d="M382.7,119.4 C383.05,119.57 383.95,120.15 384.8,120.4 C385.65,120.65 386.72,120.9 387.8,120.9 C388.88,120.9 390.07,120.75 391.3,120.4 C392.53,120.05 393.72,120.32 395.2,118.8 C396.68,117.28 398.53,114.77 400.2,111.3 C401.87,107.83 403.68,102.43 405.2,98 C406.72,93.57 408.15,89.07 409.3,84.7 C410.45,80.33 411.18,76.12 412.1,71.8 C413.02,67.48 413.72,63.97 414.8,58.8 C415.88,53.63 417.47,45.1 418.6,40.8 C419.73,36.5 420.78,34.58 421.6,33 C422.42,31.42 422.82,31.25 423.5,31.3 C424.18,31.35 424.67,30.97 425.7,33.3 C426.73,35.63 428.3,41.08 429.7,45.3 C431.1,49.52 432.63,54.18 434.1,58.6 C435.57,63.02 436.83,67 438.5,71.8 C440.17,76.6 441.8,82.15 444.1,87.4 C446.4,92.65 449.6,99.32 452.3,103.3 C455,107.28 457.23,108.88 460.3,111.3 C463.37,113.72 466.93,116.17 470.7,117.8 C474.47,119.43 479.08,120.28 482.9,121.1 C486.72,121.92 490.17,122.23 493.6,122.7 C497.03,123.17 501.85,123.7 503.5,123.9" stroke="#8a1f9a" stroke-width="1.3" fill="none" stroke-linejoin="round" stroke-linecap="round"/>
<path d="M382.4,119.6 C382.75,119.77 383.65,120.35 384.5,120.6 C385.35,120.85 386.42,121.1 387.5,121.1 C388.58,121.1 389.77,120.95 391,120.6 C392.23,120.25 393.42,120.52 394.9,119 C396.38,117.48 398.23,114.97 399.9,111.5 C401.57,108.03 403.38,102.63 404.9,98.2 C406.42,93.77 407.85,89.27 409,84.9 C410.15,80.53 410.88,76.32 411.8,72 C412.72,67.68 413.42,64.17 414.5,59 C415.58,53.83 417.17,45.3 418.3,41 C419.43,36.7 420.48,34.78 421.3,33.2 C422.12,31.62 422.52,31.45 423.2,31.5 C423.88,31.55 424.37,31.17 425.4,33.5 C426.43,35.83 428,41.28 429.4,45.5 C430.8,49.72 432.33,54.38 433.8,58.8 C435.27,63.22 436.53,67.2 438.2,72 C439.87,76.8 441.5,82.35 443.8,87.6 C446.1,92.85 449.3,99.52 452,103.5 C454.7,107.48 456.93,109.08 460,111.5 C463.07,113.92 466.63,116.37 470.4,118 C474.17,119.63 478.78,120.48 482.6,121.3 C486.42,122.12 489.87,122.43 493.3,122.9 C496.73,123.37 501.55,123.9 503.2,124.1" stroke="#ff1a1a" stroke-width="1.6" fill="none" stroke-linejoin="round" stroke-linecap="round"/>
<path d="M382.4,117.5 C382.83,117.68 384.02,118.35 385,118.6 C385.98,118.85 386.92,119.35 388.3,119 C389.68,118.65 391.63,118.3 393.3,116.5 C394.97,114.7 396.78,111.52 398.3,108.2 C399.82,104.88 401.17,100.75 402.4,96.6 C403.63,92.45 404.68,87.98 405.7,83.3 C406.72,78.62 407.53,73.88 408.5,68.5 C409.47,63.12 410.42,57.05 411.5,51 C412.58,44.95 413.8,37 415,32.2 C416.2,27.4 417.7,24.23 418.7,22.2 C419.7,20.17 420.2,19.95 421,20 C421.8,20.05 422.47,20.47 423.5,22.5 C424.53,24.53 425.85,28 427.2,32.2 C428.55,36.4 429.95,42.17 431.6,47.7 C433.25,53.23 435.57,60.6 437.1,65.4 C438.63,70.2 439.3,71.78 440.8,76.5 C442.3,81.22 444.2,89.32 446.1,93.7 C448,98.08 449.92,100.02 452.2,102.8 C454.48,105.58 456.77,108.12 459.8,110.4 C462.83,112.68 466.6,114.92 470.4,116.5 C474.2,118.08 478.78,119 482.6,119.9 C486.42,120.8 489.87,121.4 493.3,121.9 C496.73,122.4 501.55,122.73 503.2,122.9" stroke="#1a1aff" stroke-width="1.4" fill="none" stroke-linejoin="round" stroke-linecap="round"/>
<line x1="446.6" y1="7.7" x2="446.6" y2="60.4" stroke="#555" stroke-width="0.8" stroke-dasharray="1.6,1.3"/>
<line x1="446.6" y1="60.4" x2="503.6" y2="60.4" stroke="#555" stroke-width="0.8" stroke-dasharray="1.6,1.3"/>
<path d="M450.3,60.3 C450.59,59.3 451.44,56.24 452.02,54.28 C452.59,52.33 453.16,50.42 453.73,48.57 C454.31,46.72 454.88,44.93 455.45,43.19 C456.02,41.45 456.59,39.76 457.17,38.13 C457.74,36.5 458.31,34.92 458.88,33.4 C459.46,31.89 460.03,30.43 460.6,29.03 C461.17,27.63 461.74,26.29 462.32,25.02 C462.89,23.74 463.46,22.53 464.03,21.38 C464.61,20.23 465.18,19.14 465.75,18.13 C466.32,17.12 466.89,16.17 467.47,15.3 C468.04,14.43 468.61,13.62 469.18,12.91 C469.76,12.19 470.33,11.54 470.9,11 C471.47,10.45 472.04,9.97 472.62,9.63 C473.19,9.28 473.76,8.99 474.33,8.92 C474.91,8.86 475.48,9.03 476.05,9.25 C476.62,9.47 477.19,9.82 477.77,10.23 C478.34,10.63 478.91,11.12 479.48,11.67 C480.06,12.22 480.63,12.85 481.2,13.53 C481.77,14.21 482.34,14.96 482.92,15.76 C483.49,16.56 484.06,17.42 484.63,18.33 C485.21,19.25 485.78,20.22 486.35,21.24 C486.92,22.26 487.49,23.33 488.07,24.46 C488.64,25.58 489.21,26.76 489.78,27.98 C490.36,29.2 490.93,30.47 491.5,31.79 C492.07,33.1 492.64,34.47 493.22,35.88 C493.79,37.29 494.36,38.74 494.93,40.24 C495.51,41.74 496.08,43.29 496.65,44.87 C497.22,46.46 497.79,48.09 498.37,49.76 C498.94,51.44 499.51,53.15 500.08,54.91 C500.66,56.66 501.51,59.4 501.8,60.3" stroke="#1a1aff" stroke-width="1.05" fill="none" stroke-linejoin="round" stroke-linecap="round"/>
<path d="M466.6,60.3 C466.79,59.76 467.35,58.1 467.73,57.04 C468.1,55.99 468.48,54.96 468.85,53.97 C469.23,52.97 469.6,52 469.98,51.07 C470.36,50.13 470.73,49.23 471.11,48.35 C471.48,47.48 471.86,46.64 472.23,45.83 C472.61,45.02 472.98,44.25 473.36,43.51 C473.74,42.77 474.11,42.06 474.49,41.39 C474.86,40.72 475.24,40.08 475.61,39.49 C475.99,38.89 476.36,38.33 476.74,37.81 C477.12,37.29 477.49,36.8 477.87,36.37 C478.24,35.93 478.62,35.53 478.99,35.19 C479.37,34.84 479.74,34.53 480.12,34.29 C480.5,34.05 480.87,33.83 481.25,33.73 C481.62,33.62 482,33.6 482.37,33.65 C482.75,33.7 483.12,33.85 483.5,34.02 C483.88,34.18 484.25,34.39 484.63,34.63 C485,34.87 485.38,35.15 485.75,35.45 C486.13,35.76 486.5,36.1 486.88,36.47 C487.26,36.84 487.63,37.23 488.01,37.66 C488.38,38.08 488.76,38.53 489.13,39.01 C489.51,39.49 489.88,39.99 490.26,40.52 C490.64,41.05 491.01,41.6 491.39,42.18 C491.76,42.76 492.14,43.36 492.51,43.98 C492.89,44.61 493.26,45.25 493.64,45.92 C494.02,46.59 494.39,47.29 494.77,48 C495.14,48.72 495.52,49.45 495.89,50.21 C496.27,50.97 496.64,51.75 497.02,52.55 C497.4,53.35 497.77,54.17 498.15,55.01 C498.52,55.85 498.9,56.71 499.27,57.59 C499.65,58.48 500.21,59.85 500.4,60.3" stroke="#111" stroke-width="1.1" fill="none" stroke-linejoin="round" stroke-linecap="round"/>
<path d="M465.7,60.3 C465.89,59.77 466.45,58.15 466.82,57.11 C467.2,56.08 467.57,55.07 467.95,54.1 C468.32,53.12 468.7,52.17 469.07,51.25 C469.44,50.33 469.82,49.44 470.19,48.59 C470.57,47.73 470.94,46.9 471.32,46.1 C471.69,45.3 472.07,44.54 472.44,43.81 C472.81,43.07 473.19,42.37 473.56,41.7 C473.94,41.04 474.31,40.4 474.69,39.81 C475.06,39.21 475.44,38.65 475.81,38.12 C476.18,37.6 476.56,37.11 476.93,36.67 C477.31,36.22 477.68,35.81 478.06,35.45 C478.43,35.09 478.81,34.76 479.18,34.5 C479.55,34.23 479.93,34 480.3,33.85 C480.68,33.7 481.05,33.6 481.43,33.61 C481.8,33.61 482.18,33.74 482.55,33.88 C482.92,34.02 483.3,34.22 483.67,34.44 C484.05,34.67 484.42,34.94 484.8,35.23 C485.17,35.53 485.55,35.86 485.92,36.22 C486.29,36.58 486.67,36.97 487.04,37.39 C487.42,37.81 487.79,38.26 488.17,38.74 C488.54,39.22 488.92,39.72 489.29,40.25 C489.66,40.78 490.04,41.34 490.41,41.92 C490.79,42.5 491.16,43.1 491.54,43.73 C491.91,44.36 492.29,45.02 492.66,45.69 C493.03,46.37 493.41,47.07 493.78,47.8 C494.16,48.52 494.53,49.27 494.91,50.04 C495.28,50.81 495.66,51.6 496.03,52.41 C496.4,53.22 496.78,54.06 497.15,54.91 C497.53,55.77 497.9,56.65 498.28,57.54 C498.65,58.44 499.21,59.84 499.4,60.3" stroke="#8a1f9a" stroke-width="1.1" fill="none" stroke-linejoin="round" stroke-linecap="round"/>
<path d="M464.4,60.3 C464.59,59.79 465.14,58.23 465.51,57.24 C465.88,56.24 466.26,55.27 466.63,54.33 C467,53.39 467.37,52.47 467.74,51.58 C468.11,50.69 468.48,49.83 468.85,49 C469.22,48.16 469.6,47.36 469.97,46.58 C470.34,45.8 470.71,45.05 471.08,44.33 C471.45,43.62 471.82,42.93 472.19,42.27 C472.56,41.61 472.94,40.98 473.31,40.39 C473.68,39.79 474.05,39.23 474.42,38.7 C474.79,38.17 475.16,37.67 475.53,37.22 C475.9,36.76 476.28,36.33 476.65,35.95 C477.02,35.57 477.39,35.22 477.76,34.92 C478.13,34.61 478.5,34.35 478.87,34.14 C479.24,33.94 479.62,33.75 479.99,33.68 C480.36,33.6 480.73,33.61 481.1,33.69 C481.47,33.76 481.84,33.93 482.21,34.12 C482.58,34.31 482.96,34.56 483.33,34.83 C483.7,35.1 484.07,35.41 484.44,35.76 C484.81,36.1 485.18,36.48 485.55,36.9 C485.92,37.31 486.3,37.75 486.67,38.22 C487.04,38.7 487.41,39.2 487.78,39.73 C488.15,40.26 488.52,40.82 488.89,41.41 C489.26,41.99 489.64,42.61 490.01,43.25 C490.38,43.89 490.75,44.56 491.12,45.25 C491.49,45.94 491.86,46.66 492.23,47.4 C492.6,48.14 492.98,48.91 493.35,49.7 C493.72,50.49 494.09,51.3 494.46,52.14 C494.83,52.98 495.2,53.84 495.57,54.72 C495.94,55.61 496.32,56.52 496.69,57.45 C497.06,58.37 497.61,59.82 497.8,60.3" stroke="#ff1a1a" stroke-width="1.3" fill="none" stroke-linejoin="round" stroke-linecap="round"/>
<ellipse cx="421.7" cy="27.1" rx="10.5" ry="10.1" fill="none" stroke="#888" stroke-width="0.6" stroke-dasharray="1,0.8"/>
<rect x="382.5" y="7.7" width="121.1" height="133.35" fill="none" stroke="#1c1c1c" stroke-width="1.2"/>
<line x1="386.7" y1="141.05" x2="386.7" y2="138.05" stroke="#1c1c1c" stroke-width="1"/>
<line x1="409.4" y1="141.05" x2="409.4" y2="138.05" stroke="#1c1c1c" stroke-width="1"/>
<line x1="432.1" y1="141.05" x2="432.1" y2="138.05" stroke="#1c1c1c" stroke-width="1"/>
<line x1="454.8" y1="141.05" x2="454.8" y2="138.05" stroke="#1c1c1c" stroke-width="1"/>
<line x1="477.5" y1="141.05" x2="477.5" y2="138.05" stroke="#1c1c1c" stroke-width="1"/>
<line x1="500.2" y1="141.05" x2="500.2" y2="138.05" stroke="#1c1c1c" stroke-width="1"/>
<line x1="398.05" y1="141.05" x2="398.05" y2="139.25" stroke="#1c1c1c" stroke-width="1"/>
<line x1="420.75" y1="141.05" x2="420.75" y2="139.25" stroke="#1c1c1c" stroke-width="1"/>
<line x1="443.45" y1="141.05" x2="443.45" y2="139.25" stroke="#1c1c1c" stroke-width="1"/>
<line x1="466.15" y1="141.05" x2="466.15" y2="139.25" stroke="#1c1c1c" stroke-width="1"/>
<line x1="488.85" y1="141.05" x2="488.85" y2="139.25" stroke="#1c1c1c" stroke-width="1"/>
<line x1="382.5" y1="131.2" x2="385.5" y2="131.2" stroke="#1c1c1c" stroke-width="1"/>
<line x1="382.5" y1="92.57" x2="385.5" y2="92.57" stroke="#1c1c1c" stroke-width="1"/>
<line x1="382.5" y1="53.94" x2="385.5" y2="53.94" stroke="#1c1c1c" stroke-width="1"/>
<line x1="382.5" y1="15.31" x2="385.5" y2="15.31" stroke="#1c1c1c" stroke-width="1"/>
<line x1="382.5" y1="111.88" x2="384.3" y2="111.88" stroke="#1c1c1c" stroke-width="1"/>
<line x1="382.5" y1="73.25" x2="384.3" y2="73.25" stroke="#1c1c1c" stroke-width="1"/>
<line x1="382.5" y1="34.62" x2="384.3" y2="34.62" stroke="#1c1c1c" stroke-width="1"/>
<text x="378.2" y="18.73" font-size="9.5" text-anchor="end" fill="#111">3</text>
<text x="378.2" y="57.36" font-size="9.5" text-anchor="end" fill="#111">2</text>
<text x="378.2" y="95.99" font-size="9.5" text-anchor="end" fill="#111">1</text>
<text x="378.2" y="134.62" font-size="9.5" text-anchor="end" fill="#111">0</text>
<text x="386.7" y="152.4" font-size="9.5" text-anchor="middle" fill="#111">500</text>
<text x="409.4" y="152.4" font-size="9.5" text-anchor="middle" fill="#111">550</text>
<text x="432.1" y="152.4" font-size="9.5" text-anchor="middle" fill="#111">600</text>
<text x="454.8" y="152.4" font-size="9.5" text-anchor="middle" fill="#111">650</text>
<text x="477.5" y="152.4" font-size="9.5" text-anchor="middle" fill="#111">700</text>
<text x="500.2" y="152.4" font-size="9.5" text-anchor="middle" fill="#111">750</text>
<text x="443.1" y="166.9" font-size="9.75" text-anchor="middle" fill="#111">Wavelength (nm)</text>
<text x="363" y="74.5" font-size="9.85" text-anchor="middle" fill="#111" transform="rotate(-90 363 74.5)">Scattering intensity</text>
<line x1="461.6" y1="66.3" x2="468.6" y2="66.3" stroke="#1a1aff" stroke-width="1.2"/>
<text x="472.4" y="69.3" font-size="8.3" text-anchor="start" fill="#1a1aff">0.362 V</text>
<line x1="461.6" y1="78.8" x2="468.6" y2="78.8" stroke="#ff1a1a" stroke-width="1.2"/>
<text x="472.4" y="81.8" font-size="8.3" text-anchor="start" fill="#ff1a1a">0.400 V</text>
<line x1="461.6" y1="91.2" x2="468.6" y2="91.2" stroke="#8a1f9a" stroke-width="1.2"/>
<text x="472.4" y="94.2" font-size="8.3" text-anchor="start" fill="#8a1f9a">0.450 V</text>
<line x1="461.6" y1="105.3" x2="468.6" y2="105.3" stroke="#111" stroke-width="1.2"/>
<text x="472.4" y="108.3" font-size="8.3" text-anchor="start" fill="#111">0.500 V</text>
<text x="519.5" y="10.2" font-size="13" text-anchor="start" fill="#000" font-weight="bold">e</text>
<polyline points="568.7,124.6 566.2,113.4 567.9,96 569.9,84.8 571.9,72.9 574.4,61.2 575.2,52.9 576.6,43 578.3,32.9 579.7,25 581,21.4 582.6,22.5 584.2,29.7 585.6,35.2 587,39.1 588.4,47.4 589.8,55.4 591.5,59.5 593.5,62.5 596,64.8 598.9,66.3 601,65 603,62 605,58.5 607,55.5 609.9,53.2 611.5,54 613.2,55.3 614.7,56.3 616.3,60 617.4,64.2 619.5,66.8" stroke="#ff1a1a" stroke-width="1.1" fill="none" stroke-linejoin="round" stroke-linecap="round"/>
<polyline points="568.7,124.6 570.4,114.2 572.4,102.2 573.6,93 574.4,86 575.4,70 577.4,68.7 579.5,67.8 581.5,67.2 583.5,66.8 585.5,66.5 587.5,66 589.2,65.6 590.8,66.5 592.2,69 593.6,72.5 595,76.5 596.3,79.8 597.5,81.5 599,81.2 600.5,79.5 602,76 603.5,72.5 605,69.5 606.6,67.2 608.5,66.3 610.2,66.3 612,66.6 613.6,67 615.4,68.3 617.4,70 619.2,69.3 620.5,68.4" stroke="#ff1a1a" stroke-width="1.1" fill="none" stroke-linejoin="round" stroke-linecap="round"/>
<polyline points="620.5,68.4 622,66 623.5,65.5 625,65 626.5,64.5 628,65.3 629.5,65 631,64.6 632.5,64.2 634,65.3 635.5,66 637,66.8 638.5,67.2 640,67.4 641.5,67 643,66.3 643.6,71.2 644.5,66 646,65.6 647.5,67 649,65.4 650.5,64 651.5,63.3 653,65.8 654.5,65.5 656,64.5 657.5,63.5 658.8,63 660,64.5 661.5,65.2 663,65.3 664.5,65.8 666,66 667.5,66.4 669,66.8 670.5,67.3 672,67 673.5,66 674.8,67.5 676.2,68.5" stroke="#ff1a1a" stroke-width="1.1" fill="none" stroke-linejoin="round" stroke-linecap="round"/>
<polyline points="619.5,66.8 621,67.8 622.5,67 624,66.2 625.5,66.8 627,66 628.5,66.5 630,66.9 631.2,65.79 632.7,65.64 634.2,67.62 635.7,67.22 637.2,68.12 638.7,68.71 640.2,67.74 641.7,68.33 643.2,67.91 644.7,68 646.2,65.93 647.7,67.83 649.2,65.72 650.7,66.04 652.2,65.06 653.7,66 655.2,67.96 656.7,66.92 658.2,64.67 659.7,66.08 661.2,65.68 662.7,65.44 664.2,67.17 665.7,66.24 667.2,66.96 668.7,67.48 670.2,67.37 671.7,68.21 673.2,67.16 674.7,69.32" stroke="#ff1a1a" stroke-width="1.1" fill="none" stroke-linejoin="round" stroke-linecap="round"/>
<circle cx="568.7" cy="124.6" r="1.45" fill="#ff1a1a"/>
<circle cx="566.2" cy="113.4" r="1.45" fill="#ff1a1a"/>
<circle cx="567.9" cy="96" r="1.45" fill="#ff1a1a"/>
<circle cx="569.9" cy="84.8" r="1.45" fill="#ff1a1a"/>
<circle cx="571.9" cy="72.9" r="1.45" fill="#ff1a1a"/>
<circle cx="574.4" cy="61.2" r="1.45" fill="#ff1a1a"/>
<circle cx="575.2" cy="52.9" r="1.45" fill="#ff1a1a"/>
<circle cx="576.6" cy="43" r="1.45" fill="#ff1a1a"/>
<circle cx="578.3" cy="32.9" r="1.45" fill="#ff1a1a"/>
<circle cx="579.7" cy="25" r="1.45" fill="#ff1a1a"/>
<circle cx="581" cy="21.4" r="1.45" fill="#ff1a1a"/>
<circle cx="582.6" cy="22.5" r="1.45" fill="#ff1a1a"/>
<circle cx="584.2" cy="29.7" r="1.45" fill="#ff1a1a"/>
<circle cx="585.6" cy="35.2" r="1.45" fill="#ff1a1a"/>
<circle cx="587" cy="39.1" r="1.45" fill="#ff1a1a"/>
<circle cx="588.4" cy="47.4" r="1.45" fill="#ff1a1a"/>
<circle cx="589.8" cy="55.4" r="1.45" fill="#ff1a1a"/>
<circle cx="591.5" cy="59.5" r="1.45" fill="#ff1a1a"/>
<circle cx="593.5" cy="62.5" r="1.45" fill="#ff1a1a"/>
<circle cx="596" cy="64.8" r="1.45" fill="#ff1a1a"/>
<circle cx="598.9" cy="66.3" r="1.45" fill="#ff1a1a"/>
<circle cx="601" cy="65" r="1.45" fill="#ff1a1a"/>
<circle cx="603" cy="62" r="1.45" fill="#ff1a1a"/>
<circle cx="605" cy="58.5" r="1.45" fill="#ff1a1a"/>
<circle cx="607" cy="55.5" r="1.45" fill="#ff1a1a"/>
<circle cx="609.9" cy="53.2" r="1.45" fill="#ff1a1a"/>
<circle cx="611.5" cy="54" r="1.45" fill="#ff1a1a"/>
<circle cx="613.2" cy="55.3" r="1.45" fill="#ff1a1a"/>
<circle cx="614.7" cy="56.3" r="1.45" fill="#ff1a1a"/>
<circle cx="616.3" cy="60" r="1.45" fill="#ff1a1a"/>
<circle cx="617.4" cy="64.2" r="1.45" fill="#ff1a1a"/>
<circle cx="619.5" cy="66.8" r="1.45" fill="#ff1a1a"/>
<circle cx="568.7" cy="124.6" r="1.45" fill="#ff1a1a"/>
<circle cx="570.4" cy="114.2" r="1.45" fill="#ff1a1a"/>
<circle cx="572.4" cy="102.2" r="1.45" fill="#ff1a1a"/>
<circle cx="573.6" cy="93" r="1.45" fill="#ff1a1a"/>
<circle cx="574.4" cy="86" r="1.45" fill="#ff1a1a"/>
<circle cx="575.4" cy="70" r="1.45" fill="#ff1a1a"/>
<circle cx="577.4" cy="68.7" r="1.45" fill="#ff1a1a"/>
<circle cx="579.5" cy="67.8" r="1.45" fill="#ff1a1a"/>
<circle cx="581.5" cy="67.2" r="1.45" fill="#ff1a1a"/>
<circle cx="583.5" cy="66.8" r="1.45" fill="#ff1a1a"/>
<circle cx="585.5" cy="66.5" r="1.45" fill="#ff1a1a"/>
<circle cx="587.5" cy="66" r="1.45" fill="#ff1a1a"/>
<circle cx="589.2" cy="65.6" r="1.45" fill="#ff1a1a"/>
<circle cx="590.8" cy="66.5" r="1.45" fill="#ff1a1a"/>
<circle cx="592.2" cy="69" r="1.45" fill="#ff1a1a"/>
<circle cx="593.6" cy="72.5" r="1.45" fill="#ff1a1a"/>
<circle cx="595" cy="76.5" r="1.45" fill="#ff1a1a"/>
<circle cx="596.3" cy="79.8" r="1.45" fill="#ff1a1a"/>
<circle cx="597.5" cy="81.5" r="1.45" fill="#ff1a1a"/>
<circle cx="599" cy="81.2" r="1.45" fill="#ff1a1a"/>
<circle cx="600.5" cy="79.5" r="1.45" fill="#ff1a1a"/>
<circle cx="602" cy="76" r="1.45" fill="#ff1a1a"/>
<circle cx="603.5" cy="72.5" r="1.45" fill="#ff1a1a"/>
<circle cx="605" cy="69.5" r="1.45" fill="#ff1a1a"/>
<circle cx="606.6" cy="67.2" r="1.45" fill="#ff1a1a"/>
<circle cx="608.5" cy="66.3" r="1.45" fill="#ff1a1a"/>
<circle cx="610.2" cy="66.3" r="1.45" fill="#ff1a1a"/>
<circle cx="612" cy="66.6" r="1.45" fill="#ff1a1a"/>
<circle cx="613.6" cy="67" r="1.45" fill="#ff1a1a"/>
<circle cx="615.4" cy="68.3" r="1.45" fill="#ff1a1a"/>
<circle cx="617.4" cy="70" r="1.45" fill="#ff1a1a"/>
<circle cx="619.2" cy="69.3" r="1.45" fill="#ff1a1a"/>
<circle cx="620.5" cy="68.4" r="1.45" fill="#ff1a1a"/>
<circle cx="620.5" cy="68.4" r="1.45" fill="#ff1a1a"/>
<circle cx="622" cy="66" r="1.45" fill="#ff1a1a"/>
<circle cx="623.5" cy="65.5" r="1.45" fill="#ff1a1a"/>
<circle cx="625" cy="65" r="1.45" fill="#ff1a1a"/>
<circle cx="626.5" cy="64.5" r="1.45" fill="#ff1a1a"/>
<circle cx="628" cy="65.3" r="1.45" fill="#ff1a1a"/>
<circle cx="629.5" cy="65" r="1.45" fill="#ff1a1a"/>
<circle cx="631" cy="64.6" r="1.45" fill="#ff1a1a"/>
<circle cx="632.5" cy="64.2" r="1.45" fill="#ff1a1a"/>
<circle cx="634" cy="65.3" r="1.45" fill="#ff1a1a"/>
<circle cx="635.5" cy="66" r="1.45" fill="#ff1a1a"/>
<circle cx="637" cy="66.8" r="1.45" fill="#ff1a1a"/>
<circle cx="638.5" cy="67.2" r="1.45" fill="#ff1a1a"/>
<circle cx="640" cy="67.4" r="1.45" fill="#ff1a1a"/>
<circle cx="641.5" cy="67" r="1.45" fill="#ff1a1a"/>
<circle cx="643" cy="66.3" r="1.45" fill="#ff1a1a"/>
<circle cx="643.6" cy="71.2" r="1.45" fill="#ff1a1a"/>
<circle cx="644.5" cy="66" r="1.45" fill="#ff1a1a"/>
<circle cx="646" cy="65.6" r="1.45" fill="#ff1a1a"/>
<circle cx="647.5" cy="67" r="1.45" fill="#ff1a1a"/>
<circle cx="649" cy="65.4" r="1.45" fill="#ff1a1a"/>
<circle cx="650.5" cy="64" r="1.45" fill="#ff1a1a"/>
<circle cx="651.5" cy="63.3" r="1.45" fill="#ff1a1a"/>
<circle cx="653" cy="65.8" r="1.45" fill="#ff1a1a"/>
<circle cx="654.5" cy="65.5" r="1.45" fill="#ff1a1a"/>
<circle cx="656" cy="64.5" r="1.45" fill="#ff1a1a"/>
<circle cx="657.5" cy="63.5" r="1.45" fill="#ff1a1a"/>
<circle cx="658.8" cy="63" r="1.45" fill="#ff1a1a"/>
<circle cx="660" cy="64.5" r="1.45" fill="#ff1a1a"/>
<circle cx="661.5" cy="65.2" r="1.45" fill="#ff1a1a"/>
<circle cx="663" cy="65.3" r="1.45" fill="#ff1a1a"/>
<circle cx="664.5" cy="65.8" r="1.45" fill="#ff1a1a"/>
<circle cx="666" cy="66" r="1.45" fill="#ff1a1a"/>
<circle cx="667.5" cy="66.4" r="1.45" fill="#ff1a1a"/>
<circle cx="669" cy="66.8" r="1.45" fill="#ff1a1a"/>
<circle cx="670.5" cy="67.3" r="1.45" fill="#ff1a1a"/>
<circle cx="672" cy="67" r="1.45" fill="#ff1a1a"/>
<circle cx="673.5" cy="66" r="1.45" fill="#ff1a1a"/>
<circle cx="674.8" cy="67.5" r="1.45" fill="#ff1a1a"/>
<circle cx="676.2" cy="68.5" r="1.45" fill="#ff1a1a"/>
<circle cx="619.5" cy="66.8" r="1.45" fill="#ff1a1a"/>
<circle cx="621" cy="67.8" r="1.45" fill="#ff1a1a"/>
<circle cx="622.5" cy="67" r="1.45" fill="#ff1a1a"/>
<circle cx="624" cy="66.2" r="1.45" fill="#ff1a1a"/>
<circle cx="625.5" cy="66.8" r="1.45" fill="#ff1a1a"/>
<circle cx="627" cy="66" r="1.45" fill="#ff1a1a"/>
<circle cx="628.5" cy="66.5" r="1.45" fill="#ff1a1a"/>
<circle cx="630" cy="66.9" r="1.45" fill="#ff1a1a"/>
<circle cx="631.2" cy="65.79" r="1.45" fill="#ff1a1a"/>
<circle cx="632.7" cy="65.64" r="1.45" fill="#ff1a1a"/>
<circle cx="634.2" cy="67.62" r="1.45" fill="#ff1a1a"/>
<circle cx="635.7" cy="67.22" r="1.45" fill="#ff1a1a"/>
<circle cx="637.2" cy="68.12" r="1.45" fill="#ff1a1a"/>
<circle cx="638.7" cy="68.71" r="1.45" fill="#ff1a1a"/>
<circle cx="640.2" cy="67.74" r="1.45" fill="#ff1a1a"/>
<circle cx="641.7" cy="68.33" r="1.45" fill="#ff1a1a"/>
<circle cx="643.2" cy="67.91" r="1.45" fill="#ff1a1a"/>
<circle cx="644.7" cy="68" r="1.45" fill="#ff1a1a"/>
<circle cx="646.2" cy="65.93" r="1.45" fill="#ff1a1a"/>
<circle cx="647.7" cy="67.83" r="1.45" fill="#ff1a1a"/>
<circle cx="649.2" cy="65.72" r="1.45" fill="#ff1a1a"/>
<circle cx="650.7" cy="66.04" r="1.45" fill="#ff1a1a"/>
<circle cx="652.2" cy="65.06" r="1.45" fill="#ff1a1a"/>
<circle cx="653.7" cy="66" r="1.45" fill="#ff1a1a"/>
<circle cx="655.2" cy="67.96" r="1.45" fill="#ff1a1a"/>
<circle cx="656.7" cy="66.92" r="1.45" fill="#ff1a1a"/>
<circle cx="658.2" cy="64.67" r="1.45" fill="#ff1a1a"/>
<circle cx="659.7" cy="66.08" r="1.45" fill="#ff1a1a"/>
<circle cx="661.2" cy="65.68" r="1.45" fill="#ff1a1a"/>
<circle cx="662.7" cy="65.44" r="1.45" fill="#ff1a1a"/>
<circle cx="664.2" cy="67.17" r="1.45" fill="#ff1a1a"/>
<circle cx="665.7" cy="66.24" r="1.45" fill="#ff1a1a"/>
<circle cx="667.2" cy="66.96" r="1.45" fill="#ff1a1a"/>
<circle cx="668.7" cy="67.48" r="1.45" fill="#ff1a1a"/>
<circle cx="670.2" cy="67.37" r="1.45" fill="#ff1a1a"/>
<circle cx="671.7" cy="68.21" r="1.45" fill="#ff1a1a"/>
<circle cx="673.2" cy="67.16" r="1.45" fill="#ff1a1a"/>
<circle cx="674.7" cy="69.32" r="1.45" fill="#ff1a1a"/>
<rect x="558.7" y="7.6" width="120.9" height="133.4" fill="none" stroke="#1c1c1c" stroke-width="1.2"/>
<line x1="558.7" y1="141" x2="558.7" y2="138" stroke="#1c1c1c" stroke-width="1"/>
<line x1="598.1" y1="141" x2="598.1" y2="138" stroke="#1c1c1c" stroke-width="1"/>
<line x1="637.5" y1="141" x2="637.5" y2="138" stroke="#1c1c1c" stroke-width="1"/>
<line x1="676.9" y1="141" x2="676.9" y2="138" stroke="#1c1c1c" stroke-width="1"/>
<line x1="578.4" y1="141" x2="578.4" y2="139.2" stroke="#1c1c1c" stroke-width="1"/>
<line x1="617.8" y1="141" x2="617.8" y2="139.2" stroke="#1c1c1c" stroke-width="1"/>
<line x1="657.2" y1="141" x2="657.2" y2="139.2" stroke="#1c1c1c" stroke-width="1"/>
<line x1="558.7" y1="140.56" x2="561.7" y2="140.56" stroke="#1c1c1c" stroke-width="1"/>
<line x1="558.7" y1="103.53" x2="561.7" y2="103.53" stroke="#1c1c1c" stroke-width="1"/>
<line x1="558.7" y1="66.5" x2="561.7" y2="66.5" stroke="#1c1c1c" stroke-width="1"/>
<line x1="558.7" y1="29.47" x2="561.7" y2="29.47" stroke="#1c1c1c" stroke-width="1"/>
<line x1="558.7" y1="122.05" x2="560.5" y2="122.05" stroke="#1c1c1c" stroke-width="1"/>
<line x1="558.7" y1="85.02" x2="560.5" y2="85.02" stroke="#1c1c1c" stroke-width="1"/>
<line x1="558.7" y1="47.98" x2="560.5" y2="47.98" stroke="#1c1c1c" stroke-width="1"/>
<line x1="558.7" y1="10.95" x2="560.5" y2="10.95" stroke="#1c1c1c" stroke-width="1"/>
<text x="554.7" y="33.07" font-size="10" text-anchor="end" fill="#111">0.5</text>
<text x="554.7" y="70.1" font-size="10" text-anchor="end" fill="#111">0.0</text>
<text x="554.7" y="107.13" font-size="10" text-anchor="end" fill="#111">−0.5</text>
<text x="554.7" y="144.16" font-size="10" text-anchor="end" fill="#111">−1.0</text>
<text x="558.7" y="152.4" font-size="9.5" text-anchor="middle" fill="#111">0.35</text>
<text x="598.1" y="152.4" font-size="9.5" text-anchor="middle" fill="#111">0.40</text>
<text x="637.5" y="152.4" font-size="9.5" text-anchor="middle" fill="#111">0.45</text>
<text x="676.9" y="152.4" font-size="9.5" text-anchor="middle" fill="#111">0.50</text>
<text x="619.6" y="167" font-size="9.6" text-anchor="middle" fill="#111"><tspan font-style="italic">E</tspan> (V) vs. SCE</text>
<text x="528" y="74.4" font-size="9.6" text-anchor="middle" fill="#111" transform="rotate(-90 528 74.4)">d<tspan font-style="italic">λ</tspan>/d<tspan font-style="italic">t</tspan> (a.u)</text>
<text x="595" y="107.6" font-size="10" text-anchor="start" fill="#ff1a1a">0.401 V</text>
<line x1="606.8" y1="94.8" x2="603" y2="90" stroke="#ff1a1a" stroke-width="1.1"/>
<polygon points="601.3,87.3 605,89.2 602,91.4" fill="#ff1a1a"/>
<text x="2" y="194.8" font-size="13" text-anchor="start" fill="#000" font-weight="bold">f</text>
<line x1="94.4" y1="196.1" x2="94.4" y2="329.4" stroke="#ff5a5a" stroke-width="0.8" stroke-dasharray="2.6,1.8"/>
<line x1="234.9" y1="196.1" x2="234.9" y2="329.4" stroke="#ff5a5a" stroke-width="0.8" stroke-dasharray="2.6,1.8"/>
<polyline points="58.8,229.5 76.9,229.5 76.9,262.2 94.9,262.2 94.9,295.9 129.4,295.9 129.4,302.5 165.3,302.5 165.3,309.2 200.3,309.2 200.3,316 235.4,316 235.4,322.2 242.7,322.2" stroke="#1a1aff" stroke-width="1.5" fill="none" stroke-linejoin="round" stroke-linecap="round" stroke-linecap="butt" stroke-linejoin="miter"/>
<polygon points="72.8,270.3 86.9,293.3 72.8,316.7 59,293.3" fill="url(#pd)"/>
<polygon points="162.6,229.3 178.9,255.9 162.6,283.6 146.5,255.9" fill="url(#pd)" stroke="#7c7e86" stroke-width="1.4"/>
<g fill="none" stroke="#ff1a1a" stroke-width="0.8">
<circle cx="58.4" cy="204.51" r="1.6"/>
<circle cx="59.05" cy="204.73" r="1.6"/>
<circle cx="59.7" cy="206.46" r="1.6"/>
<circle cx="60.35" cy="208.96" r="1.6"/>
<circle cx="61" cy="205.94" r="1.6"/>
<circle cx="61.65" cy="207.11" r="1.6"/>
<circle cx="62.3" cy="204.54" r="1.6"/>
<circle cx="62.95" cy="206.41" r="1.6"/>
<circle cx="63.6" cy="208.65" r="1.6"/>
<circle cx="64.25" cy="207.21" r="1.6"/>
<circle cx="64.9" cy="208.29" r="1.6"/>
<circle cx="65.55" cy="204.56" r="1.6"/>
<circle cx="66.2" cy="205.43" r="1.6"/>
<circle cx="66.85" cy="205.32" r="1.6"/>
<circle cx="67.5" cy="208.33" r="1.6"/>
<circle cx="68.15" cy="204.97" r="1.6"/>
<circle cx="68.8" cy="208.79" r="1.6"/>
<circle cx="69.45" cy="205.73" r="1.6"/>
<circle cx="70.1" cy="208.55" r="1.6"/>
<circle cx="70.75" cy="206.87" r="1.6"/>
<circle cx="71.4" cy="205.99" r="1.6"/>
<circle cx="72.05" cy="208.95" r="1.6"/>
<circle cx="72.7" cy="206.36" r="1.6"/>
<circle cx="73.35" cy="207.71" r="1.6"/>
<circle cx="74" cy="204.81" r="1.6"/>
<circle cx="74.65" cy="208.32" r="1.6"/>
<circle cx="75.3" cy="209.01" r="1.6"/>
<circle cx="75.95" cy="205.01" r="1.6"/>
<circle cx="76.6" cy="207.93" r="1.6"/>
<circle cx="77.25" cy="205.74" r="1.6"/>
<circle cx="77.9" cy="205.18" r="1.6"/>
<circle cx="78.55" cy="206.18" r="1.6"/>
<circle cx="79.2" cy="207.54" r="1.6"/>
<circle cx="79.85" cy="208.89" r="1.6"/>
<circle cx="80.5" cy="209.07" r="1.6"/>
<circle cx="81.15" cy="209.07" r="1.6"/>
<circle cx="81.8" cy="207.37" r="1.6"/>
<circle cx="82.45" cy="207.51" r="1.6"/>
<circle cx="83.1" cy="205.24" r="1.6"/>
<circle cx="83.75" cy="207.84" r="1.6"/>
<circle cx="84.4" cy="207.04" r="1.6"/>
<circle cx="85.05" cy="206.15" r="1.6"/>
<circle cx="85.7" cy="208.64" r="1.6"/>
<circle cx="86.35" cy="205.67" r="1.6"/>
<circle cx="87" cy="205.15" r="1.6"/>
<circle cx="87.65" cy="205.23" r="1.6"/>
<circle cx="88.3" cy="205.19" r="1.6"/>
<circle cx="88.95" cy="207.21" r="1.6"/>
<circle cx="89.6" cy="208.18" r="1.6"/>
<circle cx="90.25" cy="205.24" r="1.6"/>
<circle cx="90.9" cy="206.81" r="1.6"/>
<circle cx="91.55" cy="207.14" r="1.6"/>
<circle cx="92.2" cy="207.08" r="1.6"/>
<circle cx="92.85" cy="206.4" r="1.6"/>
<circle cx="93.5" cy="207" r="1.6"/>
<circle cx="94.15" cy="204.57" r="1.6"/>
<circle cx="94.7" cy="215.4" r="1.6"/>
<circle cx="95.6" cy="220.3" r="1.6"/>
<circle cx="96.3" cy="222.2" r="1.6"/>
<circle cx="97" cy="221.23" r="1.6"/>
<circle cx="97.7" cy="223.94" r="1.6"/>
<circle cx="98.4" cy="221.26" r="1.6"/>
<circle cx="99.1" cy="224.28" r="1.6"/>
<circle cx="99.8" cy="221.26" r="1.6"/>
<circle cx="100.5" cy="221.08" r="1.6"/>
<circle cx="101.2" cy="223.08" r="1.6"/>
<circle cx="101.9" cy="222.62" r="1.6"/>
<circle cx="102.6" cy="222.34" r="1.6"/>
<circle cx="103.3" cy="224.58" r="1.6"/>
<circle cx="104" cy="221.76" r="1.6"/>
<circle cx="104.7" cy="224.08" r="1.6"/>
<circle cx="105.4" cy="224.94" r="1.6"/>
<circle cx="106.1" cy="222.95" r="1.6"/>
<circle cx="106.8" cy="223.22" r="1.6"/>
<circle cx="107.5" cy="225.4" r="1.6"/>
<circle cx="108.2" cy="221.54" r="1.6"/>
<circle cx="108.9" cy="219.34" r="1.6"/>
<circle cx="109.6" cy="218.76" r="1.6"/>
<circle cx="110.3" cy="218.83" r="1.6"/>
<circle cx="111" cy="220.12" r="1.6"/>
<circle cx="111.7" cy="218.86" r="1.6"/>
<circle cx="112.4" cy="221.77" r="1.6"/>
<circle cx="113.1" cy="220.6" r="1.6"/>
<circle cx="113.8" cy="220" r="1.6"/>
<circle cx="114.5" cy="221.06" r="1.6"/>
<circle cx="115.2" cy="223.27" r="1.6"/>
<circle cx="115.9" cy="219.67" r="1.6"/>
<circle cx="116.6" cy="219.2" r="1.6"/>
<circle cx="117.3" cy="219.99" r="1.6"/>
<circle cx="118" cy="220.09" r="1.6"/>
<circle cx="118.7" cy="223.13" r="1.6"/>
<circle cx="119.4" cy="222.07" r="1.6"/>
<circle cx="120.1" cy="220.43" r="1.6"/>
<circle cx="120.8" cy="219.06" r="1.6"/>
<circle cx="121.5" cy="218.44" r="1.6"/>
<circle cx="122.2" cy="218.84" r="1.6"/>
<circle cx="122.9" cy="222.61" r="1.6"/>
<circle cx="123.6" cy="221.57" r="1.6"/>
<circle cx="124.3" cy="219.01" r="1.6"/>
<circle cx="125" cy="221.45" r="1.6"/>
<circle cx="125.7" cy="218.5" r="1.6"/>
<circle cx="126.4" cy="220.84" r="1.6"/>
<circle cx="127.1" cy="219.94" r="1.6"/>
<circle cx="127.8" cy="218.73" r="1.6"/>
<circle cx="128.5" cy="222.06" r="1.6"/>
<circle cx="129.2" cy="221.93" r="1.6"/>
<circle cx="129.9" cy="220.86" r="1.6"/>
<circle cx="130.6" cy="219.07" r="1.6"/>
<circle cx="131.3" cy="221.68" r="1.6"/>
<circle cx="132" cy="220.45" r="1.6"/>
<circle cx="132.7" cy="221.64" r="1.6"/>
<circle cx="133.4" cy="218.68" r="1.6"/>
<circle cx="134.1" cy="222.89" r="1.6"/>
<circle cx="134.8" cy="218.22" r="1.6"/>
<circle cx="135.5" cy="219.36" r="1.6"/>
<circle cx="136.2" cy="220.27" r="1.6"/>
<circle cx="136.9" cy="219.23" r="1.6"/>
<circle cx="137.6" cy="218.66" r="1.6"/>
<circle cx="138.3" cy="221.77" r="1.6"/>
<circle cx="139" cy="223.37" r="1.6"/>
<circle cx="139.7" cy="219.94" r="1.6"/>
<circle cx="140.4" cy="219.18" r="1.6"/>
<circle cx="141.1" cy="221.29" r="1.6"/>
<circle cx="141.8" cy="218.96" r="1.6"/>
<circle cx="142.5" cy="219.88" r="1.6"/>
<circle cx="143.2" cy="221.38" r="1.6"/>
<circle cx="143.9" cy="220.04" r="1.6"/>
<circle cx="144.6" cy="218.61" r="1.6"/>
<circle cx="145.3" cy="218.17" r="1.6"/>
<circle cx="146" cy="220.62" r="1.6"/>
<circle cx="146.7" cy="222.95" r="1.6"/>
<circle cx="147.4" cy="222.58" r="1.6"/>
<circle cx="148.1" cy="218.32" r="1.6"/>
<circle cx="148.8" cy="220.41" r="1.6"/>
<circle cx="149.5" cy="220.34" r="1.6"/>
<circle cx="150.2" cy="218.81" r="1.6"/>
<circle cx="150.9" cy="221.28" r="1.6"/>
<circle cx="151.6" cy="220.38" r="1.6"/>
<circle cx="152.3" cy="222.01" r="1.6"/>
<circle cx="153" cy="219.32" r="1.6"/>
<circle cx="153.7" cy="222.66" r="1.6"/>
<circle cx="154.4" cy="222.04" r="1.6"/>
<circle cx="155.1" cy="220.26" r="1.6"/>
<circle cx="155.8" cy="218.53" r="1.6"/>
<circle cx="156.5" cy="220.32" r="1.6"/>
<circle cx="157.2" cy="218.46" r="1.6"/>
<circle cx="157.9" cy="221.37" r="1.6"/>
<circle cx="158.6" cy="221.43" r="1.6"/>
<circle cx="159.3" cy="220.81" r="1.6"/>
<circle cx="160" cy="222.88" r="1.6"/>
<circle cx="160.7" cy="218.04" r="1.6"/>
<circle cx="161.4" cy="221.52" r="1.6"/>
<circle cx="162.1" cy="221.96" r="1.6"/>
<circle cx="162.8" cy="218.39" r="1.6"/>
<circle cx="163.5" cy="219.47" r="1.6"/>
<circle cx="164.2" cy="218.08" r="1.6"/>
<circle cx="164.9" cy="220.83" r="1.6"/>
<circle cx="165.6" cy="221.56" r="1.6"/>
<circle cx="166.3" cy="219.61" r="1.6"/>
<circle cx="167" cy="221.42" r="1.6"/>
<circle cx="167.7" cy="219.71" r="1.6"/>
<circle cx="168.4" cy="221.5" r="1.6"/>
<circle cx="169.1" cy="219.24" r="1.6"/>
<circle cx="169.8" cy="222.89" r="1.6"/>
<circle cx="170.5" cy="220.28" r="1.6"/>
<circle cx="171.2" cy="218.02" r="1.6"/>
<circle cx="171.9" cy="218.48" r="1.6"/>
<circle cx="172.6" cy="221.78" r="1.6"/>
<circle cx="173.3" cy="222.5" r="1.6"/>
<circle cx="174" cy="221.31" r="1.6"/>
<circle cx="174.7" cy="218.81" r="1.6"/>
<circle cx="175.4" cy="222.53" r="1.6"/>
<circle cx="176.1" cy="221.73" r="1.6"/>
<circle cx="176.8" cy="218.6" r="1.6"/>
<circle cx="177.5" cy="219.98" r="1.6"/>
<circle cx="178.2" cy="221.49" r="1.6"/>
<circle cx="178.9" cy="218.02" r="1.6"/>
<circle cx="179.6" cy="218.22" r="1.6"/>
<circle cx="180.3" cy="219.84" r="1.6"/>
<circle cx="181" cy="222.55" r="1.6"/>
<circle cx="181.7" cy="223.18" r="1.6"/>
<circle cx="182.4" cy="219.66" r="1.6"/>
<circle cx="183.1" cy="222.73" r="1.6"/>
<circle cx="183.8" cy="222.09" r="1.6"/>
<circle cx="184.5" cy="222.5" r="1.6"/>
<circle cx="185.2" cy="221.06" r="1.6"/>
<circle cx="185.9" cy="223.04" r="1.6"/>
<circle cx="186.6" cy="221.35" r="1.6"/>
<circle cx="187.3" cy="222.93" r="1.6"/>
<circle cx="188" cy="220.94" r="1.6"/>
<circle cx="188.7" cy="219.02" r="1.6"/>
<circle cx="189.4" cy="220.7" r="1.6"/>
<circle cx="190.1" cy="220.51" r="1.6"/>
<circle cx="190.8" cy="219.75" r="1.6"/>
<circle cx="191.5" cy="219.94" r="1.6"/>
<circle cx="192.2" cy="220.65" r="1.6"/>
<circle cx="192.9" cy="221.06" r="1.6"/>
<circle cx="193.6" cy="219.16" r="1.6"/>
<circle cx="194.3" cy="219.44" r="1.6"/>
<circle cx="195" cy="220.62" r="1.6"/>
<circle cx="195.7" cy="220.62" r="1.6"/>
<circle cx="196.4" cy="220.18" r="1.6"/>
<circle cx="197.1" cy="221.45" r="1.6"/>
<circle cx="197.8" cy="218.96" r="1.6"/>
<circle cx="198.5" cy="220.77" r="1.6"/>
<circle cx="199.2" cy="219.43" r="1.6"/>
<circle cx="199.9" cy="222" r="1.6"/>
<circle cx="200.6" cy="221.96" r="1.6"/>
<circle cx="201.3" cy="222.36" r="1.6"/>
<circle cx="202" cy="220.99" r="1.6"/>
<circle cx="202.7" cy="219.59" r="1.6"/>
<circle cx="203.4" cy="223.11" r="1.6"/>
<circle cx="204.1" cy="220.96" r="1.6"/>
<circle cx="204.8" cy="220.25" r="1.6"/>
<circle cx="205.5" cy="219.81" r="1.6"/>
<circle cx="206.2" cy="220.39" r="1.6"/>
<circle cx="206.9" cy="221.99" r="1.6"/>
<circle cx="207.6" cy="222.56" r="1.6"/>
<circle cx="208.3" cy="220.81" r="1.6"/>
<circle cx="209" cy="222.1" r="1.6"/>
<circle cx="209.7" cy="219.41" r="1.6"/>
<circle cx="210.4" cy="220.65" r="1.6"/>
<circle cx="211.1" cy="220.16" r="1.6"/>
<circle cx="211.8" cy="219.89" r="1.6"/>
<circle cx="212.5" cy="220.17" r="1.6"/>
<circle cx="213.2" cy="222.22" r="1.6"/>
<circle cx="213.9" cy="222.11" r="1.6"/>
<circle cx="214.6" cy="219.38" r="1.6"/>
<circle cx="215.3" cy="219.52" r="1.6"/>
<circle cx="216" cy="222.38" r="1.6"/>
<circle cx="216.7" cy="221.7" r="1.6"/>
<circle cx="217.4" cy="221.82" r="1.6"/>
<circle cx="218.1" cy="221.6" r="1.6"/>
<circle cx="218.8" cy="221.91" r="1.6"/>
<circle cx="219.5" cy="219.72" r="1.6"/>
<circle cx="220.2" cy="218.62" r="1.6"/>
<circle cx="220.9" cy="220.18" r="1.6"/>
<circle cx="221.6" cy="218.47" r="1.6"/>
<circle cx="222.3" cy="223.3" r="1.6"/>
<circle cx="223" cy="221.03" r="1.6"/>
<circle cx="223.7" cy="221.79" r="1.6"/>
<circle cx="224.4" cy="223.33" r="1.6"/>
<circle cx="225.1" cy="222.48" r="1.6"/>
<circle cx="225.8" cy="219.49" r="1.6"/>
<circle cx="226.5" cy="220.05" r="1.6"/>
<circle cx="227.2" cy="218.86" r="1.6"/>
<circle cx="227.9" cy="222.44" r="1.6"/>
<circle cx="228.6" cy="222.13" r="1.6"/>
<circle cx="229.3" cy="220.84" r="1.6"/>
<circle cx="230" cy="220.22" r="1.6"/>
<circle cx="230.7" cy="219.7" r="1.6"/>
<circle cx="231.4" cy="220.83" r="1.6"/>
<circle cx="232.1" cy="222" r="1.6"/>
<circle cx="232.8" cy="222.96" r="1.6"/>
<circle cx="233.5" cy="222.71" r="1.6"/>
<circle cx="234.2" cy="222.81" r="1.6"/>
<circle cx="234.9" cy="220.58" r="1.6"/>
<circle cx="235.6" cy="220.49" r="1.6"/>
<circle cx="236.3" cy="219.93" r="1.6"/>
<circle cx="237.1" cy="221.1" r="1.6"/>
<circle cx="237.9" cy="225.6" r="1.6"/>
<circle cx="238.6" cy="227.9" r="1.6"/>
<circle cx="239.4" cy="230.2" r="1.6"/>
<circle cx="239.8" cy="234" r="1.6"/>
<circle cx="240.5" cy="240.8" r="1.6"/>
<circle cx="240.9" cy="248.7" r="1.6"/>
<circle cx="240.9" cy="262.4" r="1.6"/>
<circle cx="240.9" cy="277.7" r="1.6"/>
<circle cx="240.9" cy="280" r="1.6"/>
<circle cx="240.9" cy="295.2" r="1.6"/>
<circle cx="240.9" cy="306.8" r="1.6"/>
</g>
<line x1="107.6" y1="197.2" x2="100.8" y2="203.8" stroke="#ff1a1a" stroke-width="1.2"/>
<polygon points="98.6,206 99.6,201.6 103,204.8" fill="#ff1a1a"/>
<line x1="40.6" y1="196.1" x2="286.9" y2="196.1" stroke="#1c1c1c" stroke-width="1.2"/>
<line x1="40.6" y1="329.4" x2="286.9" y2="329.4" stroke="#1c1c1c" stroke-width="1.2"/>
<line x1="40.6" y1="196.1" x2="40.6" y2="329.4" stroke="#1c1c1c" stroke-width="1.2"/>
<line x1="286.9" y1="196.1" x2="286.9" y2="329.4" stroke="#1a1aff" stroke-width="1.2"/>
<line x1="59.4" y1="329.4" x2="59.4" y2="326.4" stroke="#1c1c1c" stroke-width="1"/>
<line x1="97.3" y1="329.4" x2="97.3" y2="326.4" stroke="#1c1c1c" stroke-width="1"/>
<line x1="135.2" y1="329.4" x2="135.2" y2="326.4" stroke="#1c1c1c" stroke-width="1"/>
<line x1="173.1" y1="329.4" x2="173.1" y2="326.4" stroke="#1c1c1c" stroke-width="1"/>
<line x1="211" y1="329.4" x2="211" y2="326.4" stroke="#1c1c1c" stroke-width="1"/>
<line x1="248.9" y1="329.4" x2="248.9" y2="326.4" stroke="#1c1c1c" stroke-width="1"/>
<line x1="286.8" y1="329.4" x2="286.8" y2="326.4" stroke="#1c1c1c" stroke-width="1"/>
<line x1="78.35" y1="329.4" x2="78.35" y2="327.6" stroke="#1c1c1c" stroke-width="1"/>
<line x1="116.25" y1="329.4" x2="116.25" y2="327.6" stroke="#1c1c1c" stroke-width="1"/>
<line x1="154.15" y1="329.4" x2="154.15" y2="327.6" stroke="#1c1c1c" stroke-width="1"/>
<line x1="192.05" y1="329.4" x2="192.05" y2="327.6" stroke="#1c1c1c" stroke-width="1"/>
<line x1="229.95" y1="329.4" x2="229.95" y2="327.6" stroke="#1c1c1c" stroke-width="1"/>
<line x1="267.85" y1="329.4" x2="267.85" y2="327.6" stroke="#1c1c1c" stroke-width="1"/>
<line x1="40.6" y1="329.4" x2="43.6" y2="329.4" stroke="#1c1c1c" stroke-width="1"/>
<line x1="40.6" y1="296.05" x2="43.6" y2="296.05" stroke="#1c1c1c" stroke-width="1"/>
<line x1="40.6" y1="262.7" x2="43.6" y2="262.7" stroke="#1c1c1c" stroke-width="1"/>
<line x1="40.6" y1="229.35" x2="43.6" y2="229.35" stroke="#1c1c1c" stroke-width="1"/>
<line x1="40.6" y1="196" x2="43.6" y2="196" stroke="#1c1c1c" stroke-width="1"/>
<line x1="40.6" y1="312.73" x2="42.4" y2="312.73" stroke="#1c1c1c" stroke-width="1"/>
<line x1="40.6" y1="279.38" x2="42.4" y2="279.38" stroke="#1c1c1c" stroke-width="1"/>
<line x1="40.6" y1="246.03" x2="42.4" y2="246.03" stroke="#1c1c1c" stroke-width="1"/>
<line x1="40.6" y1="212.68" x2="42.4" y2="212.68" stroke="#1c1c1c" stroke-width="1"/>
<line x1="286.9" y1="328.9" x2="283.9" y2="328.9" stroke="#1a1aff" stroke-width="1"/>
<line x1="286.9" y1="295.57" x2="283.9" y2="295.57" stroke="#1a1aff" stroke-width="1"/>
<line x1="286.9" y1="262.25" x2="283.9" y2="262.25" stroke="#1a1aff" stroke-width="1"/>
<line x1="286.9" y1="228.93" x2="283.9" y2="228.93" stroke="#1a1aff" stroke-width="1"/>
<line x1="286.9" y1="195.6" x2="283.9" y2="195.6" stroke="#1a1aff" stroke-width="1"/>
<line x1="286.9" y1="312.24" x2="285.1" y2="312.24" stroke="#1a1aff" stroke-width="1"/>
<line x1="286.9" y1="278.91" x2="285.1" y2="278.91" stroke="#1a1aff" stroke-width="1"/>
<line x1="286.9" y1="245.59" x2="285.1" y2="245.59" stroke="#1a1aff" stroke-width="1"/>
<line x1="286.9" y1="212.26" x2="285.1" y2="212.26" stroke="#1a1aff" stroke-width="1"/>
<text x="36" y="199.42" font-size="9.5" text-anchor="end" fill="#111">590</text>
<text x="36" y="232.77" font-size="9.5" text-anchor="end" fill="#111">585</text>
<text x="36" y="266.12" font-size="9.5" text-anchor="end" fill="#111">580</text>
<text x="36" y="299.47" font-size="9.5" text-anchor="end" fill="#111">575</text>
<text x="36" y="332.82" font-size="9.5" text-anchor="end" fill="#111">570</text>
<text x="291.4" y="199" font-size="9.5" text-anchor="start" fill="#1a1aff">0.55</text>
<text x="291.4" y="232.33" font-size="9.5" text-anchor="start" fill="#1a1aff">0.50</text>
<text x="291.4" y="265.65" font-size="9.5" text-anchor="start" fill="#1a1aff">0.45</text>
<text x="291.4" y="298.97" font-size="9.5" text-anchor="start" fill="#1a1aff">0.40</text>
<text x="291.4" y="332.3" font-size="9.5" text-anchor="start" fill="#1a1aff">0.35</text>
<text x="59.4" y="345.3" font-size="9.5" text-anchor="middle" fill="#111">0</text>
<text x="97.3" y="345.3" font-size="9.5" text-anchor="middle" fill="#111">200</text>
<text x="135.2" y="345.3" font-size="9.5" text-anchor="middle" fill="#111">400</text>
<text x="173.1" y="345.3" font-size="9.5" text-anchor="middle" fill="#111">600</text>
<text x="211" y="345.3" font-size="9.5" text-anchor="middle" fill="#111">800</text>
<text x="248.9" y="345.3" font-size="9.5" text-anchor="middle" fill="#111">1000</text>
<text x="286.8" y="345.3" font-size="9.5" text-anchor="middle" fill="#111">1200</text>
<text x="164" y="359.3" font-size="9.6" text-anchor="middle" fill="#111"><tspan font-style="italic">t</tspan> (s)</text>
<text x="9.6" y="262.8" font-size="9.6" text-anchor="middle" fill="#111" transform="rotate(-90 9.6 262.8)">Peak position (nm)</text>
<text x="324.4" y="263" font-size="9.6" text-anchor="middle" fill="#1a1aff" transform="rotate(-90 324.4 263)"><tspan font-style="italic">E</tspan> (V) vs. SCE</text>
<text x="55.6" y="226" font-size="9.6" text-anchor="start" fill="#1a1aff">0.500 V</text>
<text x="81.1" y="260.4" font-size="9.6" text-anchor="start" fill="#1a1aff">0.450 V</text>
<text x="96.9" y="292.3" font-size="9.6" text-anchor="start" fill="#ff1a1a">0.400 V</text>
<text x="133.4" y="299" font-size="9.6" text-anchor="start" fill="#1a1aff">0.390 V</text>
<text x="167.9" y="306" font-size="9.6" text-anchor="start" fill="#1a1aff">0.380 V</text>
<text x="203" y="314.2" font-size="9.6" text-anchor="start" fill="#1a1aff">0.370 V</text>
<text x="238.8" y="319.9" font-size="9.6" text-anchor="start" fill="#ff1a1a">0.360 V</text>
<text x="341.2" y="192.8" font-size="13" text-anchor="start" fill="#000" font-weight="bold">g</text>
<path d="M397.7,322 C397.92,320.67 398.62,316.77 399,314 C399.38,311.23 399.58,309.4 400,305.4 C400.42,301.4 401.13,295.1 401.5,290 C401.87,284.9 401.65,281.47 402.2,274.8 C402.75,268.13 404,256.13 404.8,250 C405.6,243.87 406.3,241.67 407,238 C407.7,234.33 408.43,230.37 409,228 C409.57,225.63 409.9,223.8 410.4,223.8 C410.9,223.8 411.33,224.68 412,228 C412.67,231.32 413.73,239.95 414.4,243.7 C415.07,247.45 415.45,248.72 416,250.5 C416.55,252.28 416.95,253.43 417.7,254.4 C418.45,255.37 419.4,255.87 420.5,256.3 C421.6,256.73 422.88,256.8 424.3,257 C425.72,257.2 427.33,257.38 429,257.5 C430.67,257.62 432.88,258.12 434.3,257.7 C435.72,257.28 436.58,256.22 437.5,255 C438.42,253.78 438.97,253.23 439.8,250.4 C440.63,247.57 441.72,242.73 442.5,238 C443.28,233.27 443.88,226.83 444.5,222 C445.12,217.17 445.75,211.73 446.2,209 C446.65,206.27 446.87,205.1 447.2,205.6 C447.53,206.1 447.83,207.43 448.2,212 C448.57,216.57 449.02,226.33 449.4,233 C449.78,239.67 450.13,247.43 450.5,252 C450.87,256.57 451.02,258.82 451.6,260.4 C452.18,261.98 450.93,261.28 454,261.5 C457.07,261.72 464,261.62 470,261.7 C476,261.78 484.78,261.92 490,262 C495.22,262.08 499.42,262.17 501.3,262.2 L501.3,267.6 C499.42,267.63 492.88,267.7 490,267.8 C487.12,267.9 485.6,268.03 484,268.2 C482.4,268.37 481.57,268.83 480.4,268.8 C479.23,268.77 480.4,268.2 477,268 C473.6,267.8 465.33,267.72 460,267.6 C454.67,267.48 448.33,267.32 445,267.3 C441.67,267.28 441.03,267.3 440,267.5 C438.97,267.7 439.13,267.92 438.8,268.5 C438.47,269.08 438.38,268.75 438,271 C437.62,273.25 437.08,277.5 436.5,282 C435.92,286.5 435.17,293.5 434.5,298 C433.83,302.5 433.17,306.47 432.5,309 C431.83,311.53 431.17,313.03 430.5,313.2 C429.83,313.37 429.17,312.53 428.5,310 C427.83,307.47 427.12,302.17 426.5,298 C425.88,293.83 425.35,288.5 424.8,285 C424.25,281.5 423.75,278.92 423.2,277 C422.65,275.08 422.37,274.13 421.5,273.5 C420.63,272.87 419.58,273.25 418,273.2 C416.42,273.15 413.92,272.98 412,273.2 C410.08,273.42 407.77,273.93 406.5,274.5 C405.23,275.07 405.07,274.02 404.4,276.6 C403.73,279.18 403.15,284.77 402.5,290 C401.85,295.23 401.3,302.67 400.5,308 C399.7,313.33 398.17,319.67 397.7,322" stroke="#111" stroke-width="1.9" fill="none" stroke-linejoin="round" stroke-linecap="round"/>
<path d="M398.2,317.6 C397.87,315.83 396.8,310.77 396.2,307 C395.6,303.23 394.9,298.17 394.6,295 C394.3,291.83 394.3,290.83 394.4,288 C394.5,285.17 394.8,281 395.2,278 C395.6,275 396.18,273.87 396.8,270 C397.42,266.13 398.2,258.63 398.9,254.8 C399.6,250.97 400.23,250.13 401,247 C401.77,243.87 402.67,240 403.5,236 C404.33,232 405.25,226.5 406,223 C406.75,219.5 407.53,216.53 408,215 C408.47,213.47 408.5,213.72 408.8,213.8 C409.1,213.88 409.35,213.63 409.8,215.5 C410.25,217.37 410.92,221.03 411.5,225 C412.08,228.97 412.63,235.22 413.3,239.3 C413.97,243.38 414.77,246.92 415.5,249.5 C416.23,252.08 416.87,253.5 417.7,254.8 C418.53,256.1 419.58,256.82 420.5,257.3 C421.42,257.78 422.28,258.17 423.2,257.7 C424.12,257.23 425.15,256.12 426,254.5 C426.85,252.88 427.65,250.53 428.3,248 C428.95,245.47 429.37,243.3 429.9,239.3 C430.43,235.3 431.02,229.22 431.5,224 C431.98,218.78 432.45,211.53 432.8,208 C433.15,204.47 433.3,202.47 433.6,202.8 C433.9,203.13 434.27,204.63 434.6,210 C434.93,215.37 435.32,228 435.6,235 C435.88,242 435.97,247.77 436.3,252 C436.63,256.23 436.98,258.73 437.6,260.4 C438.22,262.07 437.93,261.68 440,262 C442.07,262.32 445,262.27 450,262.3 C455,262.33 463.33,262.18 470,262.2 C476.67,262.22 484.78,262.33 490,262.4 C495.22,262.47 499.42,262.57 501.3,262.6 L501.3,266.6 C499.42,266.62 493.55,266.65 490,266.7 C486.45,266.75 483.33,266.85 480,266.9 C476.67,266.95 475,266.98 470,267 C465,267.02 455.83,267.03 450,267 C444.17,266.97 438.17,266.77 435,266.8 C431.83,266.83 432.08,266.92 431,267.2 C429.92,267.48 429.23,267.62 428.5,268.5 C427.77,269.38 427.13,270.25 426.6,272.5 C426.07,274.75 425.73,278.42 425.3,282 C424.87,285.58 424.53,290.03 424,294 C423.47,297.97 422.68,304.8 422.1,305.8 C421.52,306.8 421.27,302.97 420.5,300 C419.73,297.03 418.58,291.33 417.5,288 C416.42,284.67 415.25,281.9 414,280 C412.75,278.1 411.08,277.02 410,276.6 C408.92,276.18 408.07,277.18 407.5,277.5 C406.93,277.82 407.18,276.75 406.6,278.5 C406.02,280.25 404.93,283.58 404,288 C403.07,292.42 401.97,300.07 401,305 C400.03,309.93 398.67,315.5 398.2,317.6" stroke="#ff1a1a" stroke-width="1.9" fill="none" stroke-linejoin="round" stroke-linecap="round"/>
<rect x="380.05" y="195.5" width="121.25" height="133.9" fill="none" stroke="#1c1c1c" stroke-width="1.2"/>
<line x1="400.22" y1="329.4" x2="400.22" y2="327" stroke="#1c1c1c" stroke-width="1"/>
<line x1="420.38" y1="329.4" x2="420.38" y2="327" stroke="#1c1c1c" stroke-width="1"/>
<line x1="440.55" y1="329.4" x2="440.55" y2="327" stroke="#1c1c1c" stroke-width="1"/>
<line x1="460.71" y1="329.4" x2="460.71" y2="327" stroke="#1c1c1c" stroke-width="1"/>
<line x1="480.88" y1="329.4" x2="480.88" y2="327" stroke="#1c1c1c" stroke-width="1"/>
<line x1="380.05" y1="311.8" x2="382.45" y2="311.8" stroke="#1c1c1c" stroke-width="1"/>
<line x1="380.05" y1="288.5" x2="382.45" y2="288.5" stroke="#1c1c1c" stroke-width="1"/>
<line x1="380.05" y1="265.2" x2="382.45" y2="265.2" stroke="#1c1c1c" stroke-width="1"/>
<line x1="380.05" y1="241.9" x2="382.45" y2="241.9" stroke="#1c1c1c" stroke-width="1"/>
<line x1="380.05" y1="218.6" x2="382.45" y2="218.6" stroke="#1c1c1c" stroke-width="1"/>
<line x1="380.05" y1="195.3" x2="382.45" y2="195.3" stroke="#1c1c1c" stroke-width="1"/>
<text x="376" y="198.72" font-size="9.5" text-anchor="end" fill="#111">0.6</text>
<text x="376" y="222.02" font-size="9.5" text-anchor="end" fill="#111">0.4</text>
<text x="376" y="245.32" font-size="9.5" text-anchor="end" fill="#111">0.2</text>
<text x="376" y="268.62" font-size="9.5" text-anchor="end" fill="#111">0.0</text>
<text x="376" y="291.92" font-size="9.5" text-anchor="end" fill="#111">−0.2</text>
<text x="376" y="315.22" font-size="9.5" text-anchor="end" fill="#111">−0.4</text>
<text x="380.05" y="340.6" font-size="9.5" text-anchor="middle" fill="#111">0.35</text>
<text x="420.38" y="340.6" font-size="9.5" text-anchor="middle" fill="#111">0.40</text>
<text x="460.71" y="340.6" font-size="9.5" text-anchor="middle" fill="#111">0.45</text>
<text x="501.04" y="340.6" font-size="9.5" text-anchor="middle" fill="#111">0.50</text>
<text x="440.8" y="355.2" font-size="9.6" text-anchor="middle" fill="#111"><tspan font-style="italic">E</tspan> (V) vs. SCE</text>
<text x="350.3" y="263" font-size="9.9" text-anchor="middle" fill="#111" transform="rotate(-90 350.3 263)">Current (a.u.)</text>
<text x="519.6" y="195" font-size="13" text-anchor="start" fill="#000" font-weight="bold">h</text>
<rect x="632.5" y="313.5" width="4.5" height="15.4" fill="url(#ph)" stroke="#ff1a1a" stroke-width="0.9"/>
<rect x="637" y="251.9" width="5.4" height="77" fill="url(#ph)" stroke="#ff1a1a" stroke-width="0.9"/>
<rect x="642.4" y="205.7" width="3.6" height="123.2" fill="url(#ph)" stroke="#ff1a1a" stroke-width="0.9"/>
<rect x="646" y="251.9" width="5.3" height="77" fill="url(#ph)" stroke="#ff1a1a" stroke-width="0.9"/>
<rect x="651.3" y="313.5" width="4.5" height="15.4" fill="url(#ph)" stroke="#ff1a1a" stroke-width="0.9"/>
<polyline points="622,328.88 622.37,328.87 622.73,328.86 623.1,328.85 623.47,328.84 623.83,328.82 624.2,328.79 624.57,328.76 624.93,328.72 625.3,328.67 625.67,328.61 626.03,328.53 626.4,328.43 626.77,328.31 627.13,328.16 627.5,327.98 627.87,327.76 628.23,327.5 628.6,327.18 628.97,326.8 629.33,326.34 629.7,325.81 630.07,325.18 630.43,324.44 630.8,323.58 631.17,322.59 631.53,321.44 631.9,320.14 632.27,318.65 632.63,316.96 633,315.07 633.37,312.95 633.73,310.6 634.1,307.99 634.47,305.14 634.83,302.02 635.2,298.63 635.57,294.98 635.93,291.08 636.3,286.92 636.67,282.54 637.03,277.93 637.4,273.14 637.77,268.19 638.13,263.12 638.5,257.96 638.87,252.76 639.23,247.57 639.6,242.45 639.97,237.44 640.33,232.6 640.7,227.99 641.07,223.66 641.43,219.67 641.8,216.07 642.17,212.91 642.53,210.23 642.9,208.07 643.27,206.45 643.63,205.41 644,204.95 644.37,205.09 644.73,205.81 645.1,207.12 645.47,208.98 645.83,211.39 646.2,214.29 646.57,217.65 646.93,221.44 647.3,225.59 647.67,230.05 648.03,234.77 648.4,239.7 648.77,244.77 649.13,249.93 649.5,255.13 649.87,260.31 650.23,265.44 650.6,270.46 650.97,275.34 651.33,280.05 651.7,284.56 652.07,288.84 652.43,292.89 652.8,296.67 653.17,300.2 653.53,303.47 653.9,306.47 654.27,309.21 654.63,311.7 655,313.94 655.37,315.96 655.73,317.75 656.1,319.35 656.47,320.75 656.83,321.98 657.2,323.06 657.57,323.99 657.93,324.79 658.3,325.48 658.67,326.06 659.03,326.56 659.4,326.98 659.77,327.33 660.13,327.62 660.5,327.87 660.87,328.07 661.23,328.23 661.6,328.37 661.97,328.48 662.33,328.57 662.7,328.64 663.07,328.69 663.43,328.74 663.8,328.78 664.17,328.8 664.53,328.83 664.9,328.84 665.27,328.86 665.63,328.87 666,328.88" stroke="#ff1a1a" stroke-width="1.8" fill="none" stroke-linejoin="round" stroke-linecap="round"/>
<rect x="554.5" y="195.5" width="121.3" height="133.4" fill="none" stroke="#1c1c1c" stroke-width="1.2"/>
<line x1="554.5" y1="328.9" x2="554.5" y2="325.9" stroke="#1c1c1c" stroke-width="1"/>
<line x1="578.63" y1="328.9" x2="578.63" y2="325.9" stroke="#1c1c1c" stroke-width="1"/>
<line x1="602.76" y1="328.9" x2="602.76" y2="325.9" stroke="#1c1c1c" stroke-width="1"/>
<line x1="626.89" y1="328.9" x2="626.89" y2="325.9" stroke="#1c1c1c" stroke-width="1"/>
<line x1="651.02" y1="328.9" x2="651.02" y2="325.9" stroke="#1c1c1c" stroke-width="1"/>
<line x1="675.15" y1="328.9" x2="675.15" y2="325.9" stroke="#1c1c1c" stroke-width="1"/>
<line x1="566.57" y1="328.9" x2="566.57" y2="327.1" stroke="#1c1c1c" stroke-width="1"/>
<line x1="590.7" y1="328.9" x2="590.7" y2="327.1" stroke="#1c1c1c" stroke-width="1"/>
<line x1="614.83" y1="328.9" x2="614.83" y2="327.1" stroke="#1c1c1c" stroke-width="1"/>
<line x1="638.96" y1="328.9" x2="638.96" y2="327.1" stroke="#1c1c1c" stroke-width="1"/>
<line x1="663.09" y1="328.9" x2="663.09" y2="327.1" stroke="#1c1c1c" stroke-width="1"/>
<line x1="554.5" y1="328.9" x2="557.5" y2="328.9" stroke="#1c1c1c" stroke-width="1"/>
<line x1="554.5" y1="298.1" x2="557.5" y2="298.1" stroke="#1c1c1c" stroke-width="1"/>
<line x1="554.5" y1="267.3" x2="557.5" y2="267.3" stroke="#1c1c1c" stroke-width="1"/>
<line x1="554.5" y1="236.5" x2="557.5" y2="236.5" stroke="#1c1c1c" stroke-width="1"/>
<line x1="554.5" y1="205.7" x2="557.5" y2="205.7" stroke="#1c1c1c" stroke-width="1"/>
<line x1="554.5" y1="313.5" x2="556.3" y2="313.5" stroke="#1c1c1c" stroke-width="1"/>
<line x1="554.5" y1="282.7" x2="556.3" y2="282.7" stroke="#1c1c1c" stroke-width="1"/>
<line x1="554.5" y1="251.9" x2="556.3" y2="251.9" stroke="#1c1c1c" stroke-width="1"/>
<line x1="554.5" y1="221.1" x2="556.3" y2="221.1" stroke="#1c1c1c" stroke-width="1"/>
<text x="550.3" y="332.46" font-size="9.9" text-anchor="end" fill="#111">0</text>
<text x="550.3" y="301.66" font-size="9.9" text-anchor="end" fill="#111">2</text>
<text x="550.3" y="270.86" font-size="9.9" text-anchor="end" fill="#111">4</text>
<text x="550.3" y="240.06" font-size="9.9" text-anchor="end" fill="#111">6</text>
<text x="550.3" y="209.26" font-size="9.9" text-anchor="end" fill="#111">8</text>
<text x="554.5" y="340.5" font-size="9.8" text-anchor="middle" fill="#111">0.36</text>
<text x="578.63" y="340.5" font-size="9.8" text-anchor="middle" fill="#111">0.37</text>
<text x="602.76" y="340.5" font-size="9.8" text-anchor="middle" fill="#111">0.38</text>
<text x="626.89" y="340.5" font-size="9.8" text-anchor="middle" fill="#111">0.39</text>
<text x="651.02" y="340.5" font-size="9.8" text-anchor="middle" fill="#111">0.40</text>
<text x="675.15" y="340.5" font-size="9.8" text-anchor="middle" fill="#111">0.41</text>
<text x="615.2" y="354.9" font-size="9.6" text-anchor="middle" fill="#111"><tspan font-style="italic">E</tspan> (V) vs. SCE</text>
<text x="532.6" y="262" font-size="9.6" text-anchor="middle" fill="#111" transform="rotate(-90 532.6 262)">Frequency</text>
<text x="601.6" y="213.7" font-size="9.8" text-anchor="start" fill="#ff1a1a">0.397V</text>
</svg>
</body></html>
